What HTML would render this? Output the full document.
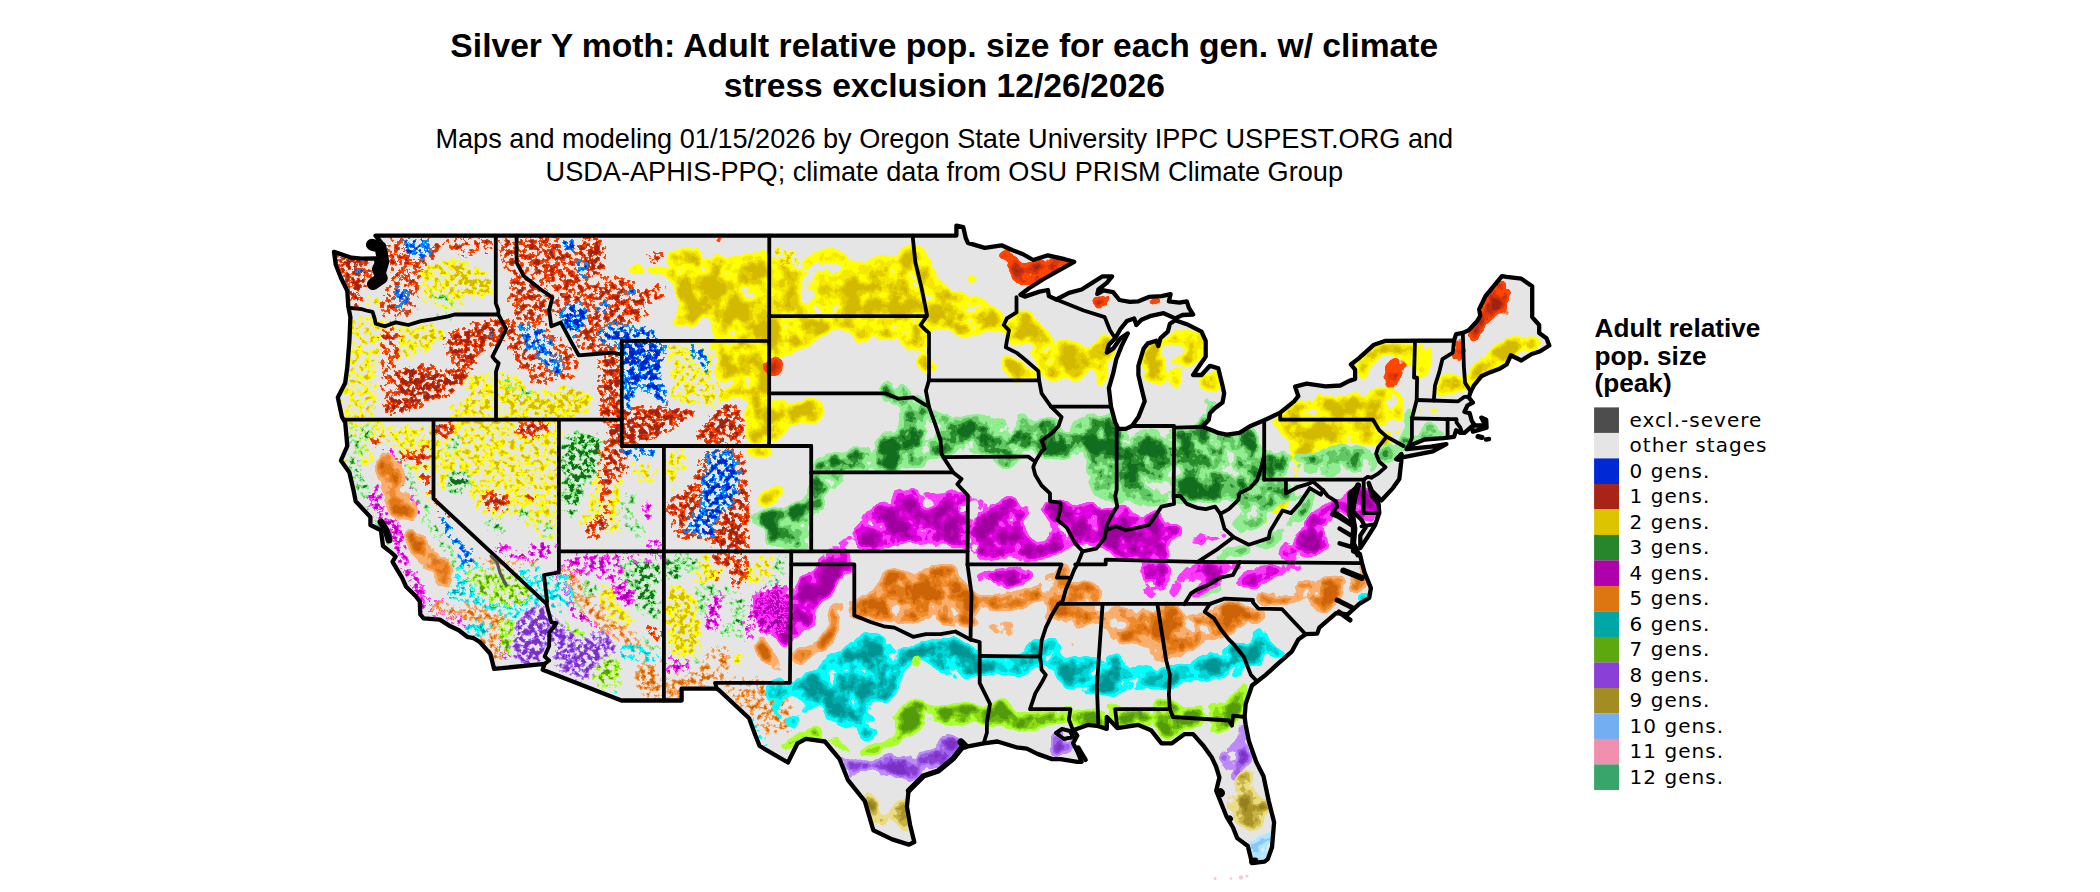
<!DOCTYPE html>
<html lang="en"><head><meta charset="utf-8"><title>Silver Y moth</title>
<style>
html,body{margin:0;padding:0;background:#fff;}
body{width:2100px;height:892px;overflow:hidden;position:relative;}
svg{position:absolute;left:0;top:0;display:block;}
.t1{font-family:"Liberation Sans",Arial,sans-serif;font-weight:bold;font-size:33.63px;fill:#000;text-anchor:middle;}
.t2{font-family:"Liberation Sans",Arial,sans-serif;font-size:27.13px;fill:#000;text-anchor:middle;}
.lt{font-family:"Liberation Sans",Arial,sans-serif;font-weight:bold;font-size:26.2px;fill:#000;}
.ll{font-family:"DejaVu Sans",Verdana,sans-serif;font-size:20px;fill:#000;letter-spacing:1.02px;}
</style></head><body>
<svg width="2100" height="892" viewBox="0 0 2100 892">

<rect width="2100" height="892" fill="#fff"/>
<text class="t1" x="944.3" y="57.3">Silver Y moth: Adult relative pop. size for each gen. w/ climate</text>
<text class="t1" x="944.3" y="96.7">stress exclusion 12/26/2026</text>
<text class="t2" x="944.3" y="147.7">Maps and modeling 01/15/2026 by Oregon State University IPPC USPEST.ORG and</text>
<text class="t2" x="944.3" y="180.8">USDA-APHIS-PPQ; climate data from OSU PRISM Climate Group</text>
<text class="lt" x="1594.5" y="337.0">Adult relative</text>
<text class="lt" x="1594.5" y="364.5">pop. size</text>
<text class="lt" x="1594.5" y="391.9">(peak)</text>
<rect x="1594.1" y="407.4" width="24.9" height="25.6" fill="#4d4d4d"/>
<text class="ll" x="1629.6" y="426.7">excl.-severe</text>
<rect x="1594.1" y="432.9" width="24.9" height="25.6" fill="#e5e5e5"/>
<text class="ll" x="1629.6" y="452.2">other stages</text>
<rect x="1594.1" y="458.4" width="24.9" height="25.6" fill="#0029d6"/>
<text class="ll" x="1629.6" y="477.7">0 gens.</text>
<rect x="1594.1" y="483.9" width="24.9" height="25.6" fill="#a82416"/>
<text class="ll" x="1629.6" y="503.2">1 gens.</text>
<rect x="1594.1" y="509.4" width="24.9" height="25.6" fill="#dcc500"/>
<text class="ll" x="1629.6" y="528.7">2 gens.</text>
<rect x="1594.1" y="534.9" width="24.9" height="25.6" fill="#27852b"/>
<text class="ll" x="1629.6" y="554.2">3 gens.</text>
<rect x="1594.1" y="560.4" width="24.9" height="25.6" fill="#b000ac"/>
<text class="ll" x="1629.6" y="579.7">4 gens.</text>
<rect x="1594.1" y="585.9" width="24.9" height="25.6" fill="#dd7511"/>
<text class="ll" x="1629.6" y="605.2">5 gens.</text>
<rect x="1594.1" y="611.4" width="24.9" height="25.6" fill="#00a6a6"/>
<text class="ll" x="1629.6" y="630.7">6 gens.</text>
<rect x="1594.1" y="636.9" width="24.9" height="25.6" fill="#5ea80f"/>
<text class="ll" x="1629.6" y="656.2">7 gens.</text>
<rect x="1594.1" y="662.4" width="24.9" height="25.6" fill="#8a3fd6"/>
<text class="ll" x="1629.6" y="681.7">8 gens.</text>
<rect x="1594.1" y="687.9" width="24.9" height="25.6" fill="#a38c23"/>
<text class="ll" x="1629.6" y="707.2">9 gens.</text>
<rect x="1594.1" y="713.4" width="24.9" height="25.6" fill="#74aef2"/>
<text class="ll" x="1629.6" y="732.7">10 gens.</text>
<rect x="1594.1" y="738.9" width="24.9" height="25.6" fill="#f090ae"/>
<text class="ll" x="1629.6" y="758.2">11 gens.</text>
<rect x="1594.1" y="764.4" width="24.9" height="25.6" fill="#38a56a"/>
<text class="ll" x="1629.6" y="783.7">12 gens.</text>
<defs><clipPath id="us"><path d="M375.5 235.6 L956.4 235.6 L956.4 225.6 L963.3 227.1 L965.8 238.2 L967.9 242.9 L984.8 247.9 L1001.6 245.3 L1012.1 250.0 L1022.6 254.0 L1033.2 260.0 L1047.9 255.3 L1064.7 259.2 L1074.2 261.9 L1064.7 267.1 L1043.7 279.0 L1029.0 288.2 L1020.5 294.8 L1024.7 296.6 L1039.5 291.6 L1047.9 290.0 L1048.9 296.1 L1056.3 299.5 L1068.9 292.9 L1081.6 289.5 L1092.1 282.9 L1102.6 276.3 L1112.1 276.3 L1106.8 282.9 L1098.4 289.5 L1097.3 294.0 L1103.6 290.3 L1113.1 292.1 L1119.4 300.0 L1129.9 301.9 L1138.4 301.3 L1148.9 296.9 L1161.5 296.1 L1170.6 294.2 L1168.9 301.3 L1179.4 302.7 L1186.8 301.3 L1188.9 307.9 L1193.1 314.5 L1182.5 315.0 L1175.2 318.4 L1163.6 313.2 L1151.0 315.8 L1141.5 319.8 L1136.3 325.0 L1134.2 318.4 L1126.8 321.1 L1120.5 329.0 L1115.2 338.2 L1108.9 344.7 L1106.8 352.6 L1113.1 348.7 L1120.5 338.2 L1127.8 333.4 L1121.5 346.1 L1116.3 359.2 L1113.1 373.7 L1108.9 388.2 L1111.0 406.6 L1115.2 422.4 L1118.4 428.9 L1125.7 428.9 L1132.0 426.0 L1138.4 417.1 L1144.7 401.3 L1141.5 388.2 L1138.4 375.0 L1138.4 365.8 L1143.6 348.7 L1147.8 343.4 L1156.2 340.8 L1158.3 346.1 L1160.5 338.2 L1167.8 331.6 L1169.9 323.7 L1175.2 320.3 L1186.8 324.2 L1201.5 331.6 L1205.7 340.8 L1205.7 356.6 L1199.4 365.8 L1193.1 375.0 L1201.5 375.0 L1209.9 365.8 L1218.3 368.4 L1222.5 385.5 L1224.2 393.4 L1222.5 402.6 L1215.2 407.9 L1209.9 413.2 L1208.8 419.7 L1202.5 426.8 L1212.0 430.3 L1218.3 432.9 L1226.7 434.7 L1239.4 432.9 L1249.9 426.3 L1264.2 420.3 L1280.2 412.6 L1294.1 401.3 L1298.3 396.1 L1295.1 386.6 L1306.7 383.7 L1325.6 386.3 L1340.3 385.5 L1348.8 381.1 L1355.1 378.9 L1355.1 369.7 L1350.9 364.5 L1359.3 357.9 L1374.0 344.7 L1385.6 340.8 L1454.0 340.5 L1456.1 334.2 L1462.8 332.9 L1468.7 330.3 L1477.1 321.1 L1480.3 315.8 L1479.2 309.2 L1485.5 296.1 L1501.9 276.1 L1506.6 276.9 L1521.3 278.7 L1532.2 286.3 L1532.2 317.1 L1539.2 325.0 L1539.2 332.9 L1546.5 338.2 L1549.3 345.5 L1540.2 351.3 L1531.8 354.0 L1521.3 360.5 L1510.8 355.3 L1506.6 364.5 L1500.2 368.4 L1489.7 372.4 L1481.3 376.3 L1473.9 385.5 L1470.8 391.6 L1468.7 397.4 L1472.9 402.6 L1467.6 405.3 L1464.5 411.8 L1469.7 413.2 L1471.8 421.0 L1475.0 425.5 L1485.5 425.5 L1481.3 417.6 L1486.2 419.7 L1486.6 427.6 L1472.9 431.6 L1471.8 426.3 L1464.5 432.9 L1460.3 432.9 L1456.1 430.3 L1454.0 436.8 L1443.4 438.1 L1424.5 439.5 L1408.7 446.0 L1406.6 449.2 L1430.8 446.6 L1446.4 444.2 L1432.9 451.3 L1402.4 457.4 L1401.4 453.9 L1396.1 459.2 L1401.4 460.5 L1399.3 478.9 L1392.9 488.1 L1381.4 500.5 L1371.9 490.8 L1368.7 482.9 L1371.9 496.0 L1378.6 503.9 L1379.3 513.1 L1375.1 525.0 L1367.7 536.8 L1360.3 548.1 L1360.3 535.5 L1365.6 527.6 L1361.4 519.7 L1353.0 511.8 L1355.1 498.7 L1358.2 485.5 L1349.8 493.4 L1348.8 511.8 L1353.0 526.3 L1353.0 535.5 L1353.0 551.3 L1359.9 553.9 L1362.0 563.1 L1364.5 572.3 L1370.9 588.1 L1369.2 597.8 L1359.3 603.9 L1347.7 614.4 L1336.1 613.1 L1319.3 627.6 L1317.2 633.6 L1305.6 634.2 L1298.3 639.4 L1292.0 651.3 L1277.2 664.4 L1265.7 674.9 L1257.2 681.5 L1252.0 685.5 L1245.7 703.9 L1244.6 717.0 L1245.7 724.9 L1248.8 740.7 L1256.2 761.8 L1263.5 776.2 L1268.8 801.2 L1274.1 822.3 L1272.0 847.3 L1267.8 859.1 L1264.6 861.7 L1252.0 863.1 L1247.8 846.0 L1237.2 838.1 L1233.0 827.5 L1226.7 817.0 L1220.4 801.2 L1216.2 790.7 L1219.4 777.5 L1216.2 767.0 L1212.0 757.8 L1203.6 746.0 L1193.1 734.1 L1184.6 734.1 L1172.0 743.3 L1161.5 743.3 L1151.0 730.2 L1138.4 724.9 L1117.3 728.1 L1106.8 717.0 L1106.8 728.9 L1098.4 726.2 L1087.9 724.9 L1073.1 730.2 L1077.3 735.5 L1073.1 743.3 L1077.3 751.2 L1081.6 761.8 L1077.3 761.8 L1060.5 759.1 L1052.1 759.1 L1037.4 753.9 L1026.8 748.6 L1016.3 747.3 L997.4 741.5 L983.7 743.3 L962.9 747.3 L953.0 759.1 L938.3 771.0 L923.3 776.0 L908.6 790.7 L906.9 806.5 L910.1 824.9 L914.3 842.0 L909.0 844.6 L892.2 839.4 L873.3 830.2 L864.8 801.2 L848.0 780.2 L839.6 759.1 L824.9 741.5 L805.9 738.9 L797.5 743.3 L788.0 762.5 L759.6 746.0 L755.4 735.5 L749.1 718.3 L719.7 690.7 L716.9 688.6 L681.6 688.6 L681.6 700.5 L621.4 700.5 L542.7 669.7 L544.6 663.9 L494.1 668.9 L490.3 653.9 L479.8 642.0 L473.5 638.1 L467.2 636.8 L458.8 630.2 L450.4 626.3 L439.8 619.7 L423.6 618.4 L420.3 614.4 L419.8 601.3 L415.6 596.0 L406.2 586.8 L402.0 577.6 L392.5 561.8 L395.6 556.5 L391.4 552.6 L383.0 546.0 L380.9 530.2 L370.4 525.0 L370.4 517.1 L355.7 501.3 L353.6 490.8 L349.4 472.4 L340.9 460.5 L347.3 446.0 L345.2 422.4 L342.0 417.1 L337.8 397.4 L345.2 382.9 L347.3 367.1 L349.4 340.8 L350.4 317.1 L348.3 306.6 L347.3 290.8 L340.9 277.7 L335.7 264.5 L334.0 251.9 L351.5 257.7 L361.4 258.7 L375.7 258.4 L378.8 272.4 L372.5 285.5 L383.0 280.3 L384.1 272.4 L387.2 261.9 L380.9 251.3 L380.9 242.1 L375.5 235.6Z"/></clipPath></defs>
<path d="M375.5 235.6 L956.4 235.6 L956.4 225.6 L963.3 227.1 L965.8 238.2 L967.9 242.9 L984.8 247.9 L1001.6 245.3 L1012.1 250.0 L1022.6 254.0 L1033.2 260.0 L1047.9 255.3 L1064.7 259.2 L1074.2 261.9 L1064.7 267.1 L1043.7 279.0 L1029.0 288.2 L1020.5 294.8 L1024.7 296.6 L1039.5 291.6 L1047.9 290.0 L1048.9 296.1 L1056.3 299.5 L1068.9 292.9 L1081.6 289.5 L1092.1 282.9 L1102.6 276.3 L1112.1 276.3 L1106.8 282.9 L1098.4 289.5 L1097.3 294.0 L1103.6 290.3 L1113.1 292.1 L1119.4 300.0 L1129.9 301.9 L1138.4 301.3 L1148.9 296.9 L1161.5 296.1 L1170.6 294.2 L1168.9 301.3 L1179.4 302.7 L1186.8 301.3 L1188.9 307.9 L1193.1 314.5 L1182.5 315.0 L1175.2 318.4 L1163.6 313.2 L1151.0 315.8 L1141.5 319.8 L1136.3 325.0 L1134.2 318.4 L1126.8 321.1 L1120.5 329.0 L1115.2 338.2 L1108.9 344.7 L1106.8 352.6 L1113.1 348.7 L1120.5 338.2 L1127.8 333.4 L1121.5 346.1 L1116.3 359.2 L1113.1 373.7 L1108.9 388.2 L1111.0 406.6 L1115.2 422.4 L1118.4 428.9 L1125.7 428.9 L1132.0 426.0 L1138.4 417.1 L1144.7 401.3 L1141.5 388.2 L1138.4 375.0 L1138.4 365.8 L1143.6 348.7 L1147.8 343.4 L1156.2 340.8 L1158.3 346.1 L1160.5 338.2 L1167.8 331.6 L1169.9 323.7 L1175.2 320.3 L1186.8 324.2 L1201.5 331.6 L1205.7 340.8 L1205.7 356.6 L1199.4 365.8 L1193.1 375.0 L1201.5 375.0 L1209.9 365.8 L1218.3 368.4 L1222.5 385.5 L1224.2 393.4 L1222.5 402.6 L1215.2 407.9 L1209.9 413.2 L1208.8 419.7 L1202.5 426.8 L1212.0 430.3 L1218.3 432.9 L1226.7 434.7 L1239.4 432.9 L1249.9 426.3 L1264.2 420.3 L1280.2 412.6 L1294.1 401.3 L1298.3 396.1 L1295.1 386.6 L1306.7 383.7 L1325.6 386.3 L1340.3 385.5 L1348.8 381.1 L1355.1 378.9 L1355.1 369.7 L1350.9 364.5 L1359.3 357.9 L1374.0 344.7 L1385.6 340.8 L1454.0 340.5 L1456.1 334.2 L1462.8 332.9 L1468.7 330.3 L1477.1 321.1 L1480.3 315.8 L1479.2 309.2 L1485.5 296.1 L1501.9 276.1 L1506.6 276.9 L1521.3 278.7 L1532.2 286.3 L1532.2 317.1 L1539.2 325.0 L1539.2 332.9 L1546.5 338.2 L1549.3 345.5 L1540.2 351.3 L1531.8 354.0 L1521.3 360.5 L1510.8 355.3 L1506.6 364.5 L1500.2 368.4 L1489.7 372.4 L1481.3 376.3 L1473.9 385.5 L1470.8 391.6 L1468.7 397.4 L1472.9 402.6 L1467.6 405.3 L1464.5 411.8 L1469.7 413.2 L1471.8 421.0 L1475.0 425.5 L1485.5 425.5 L1481.3 417.6 L1486.2 419.7 L1486.6 427.6 L1472.9 431.6 L1471.8 426.3 L1464.5 432.9 L1460.3 432.9 L1456.1 430.3 L1454.0 436.8 L1443.4 438.1 L1424.5 439.5 L1408.7 446.0 L1406.6 449.2 L1430.8 446.6 L1446.4 444.2 L1432.9 451.3 L1402.4 457.4 L1401.4 453.9 L1396.1 459.2 L1401.4 460.5 L1399.3 478.9 L1392.9 488.1 L1381.4 500.5 L1371.9 490.8 L1368.7 482.9 L1371.9 496.0 L1378.6 503.9 L1379.3 513.1 L1375.1 525.0 L1367.7 536.8 L1360.3 548.1 L1360.3 535.5 L1365.6 527.6 L1361.4 519.7 L1353.0 511.8 L1355.1 498.7 L1358.2 485.5 L1349.8 493.4 L1348.8 511.8 L1353.0 526.3 L1353.0 535.5 L1353.0 551.3 L1359.9 553.9 L1362.0 563.1 L1364.5 572.3 L1370.9 588.1 L1369.2 597.8 L1359.3 603.9 L1347.7 614.4 L1336.1 613.1 L1319.3 627.6 L1317.2 633.6 L1305.6 634.2 L1298.3 639.4 L1292.0 651.3 L1277.2 664.4 L1265.7 674.9 L1257.2 681.5 L1252.0 685.5 L1245.7 703.9 L1244.6 717.0 L1245.7 724.9 L1248.8 740.7 L1256.2 761.8 L1263.5 776.2 L1268.8 801.2 L1274.1 822.3 L1272.0 847.3 L1267.8 859.1 L1264.6 861.7 L1252.0 863.1 L1247.8 846.0 L1237.2 838.1 L1233.0 827.5 L1226.7 817.0 L1220.4 801.2 L1216.2 790.7 L1219.4 777.5 L1216.2 767.0 L1212.0 757.8 L1203.6 746.0 L1193.1 734.1 L1184.6 734.1 L1172.0 743.3 L1161.5 743.3 L1151.0 730.2 L1138.4 724.9 L1117.3 728.1 L1106.8 717.0 L1106.8 728.9 L1098.4 726.2 L1087.9 724.9 L1073.1 730.2 L1077.3 735.5 L1073.1 743.3 L1077.3 751.2 L1081.6 761.8 L1077.3 761.8 L1060.5 759.1 L1052.1 759.1 L1037.4 753.9 L1026.8 748.6 L1016.3 747.3 L997.4 741.5 L983.7 743.3 L962.9 747.3 L953.0 759.1 L938.3 771.0 L923.3 776.0 L908.6 790.7 L906.9 806.5 L910.1 824.9 L914.3 842.0 L909.0 844.6 L892.2 839.4 L873.3 830.2 L864.8 801.2 L848.0 780.2 L839.6 759.1 L824.9 741.5 L805.9 738.9 L797.5 743.3 L788.0 762.5 L759.6 746.0 L755.4 735.5 L749.1 718.3 L719.7 690.7 L716.9 688.6 L681.6 688.6 L681.6 700.5 L621.4 700.5 L542.7 669.7 L544.6 663.9 L494.1 668.9 L490.3 653.9 L479.8 642.0 L473.5 638.1 L467.2 636.8 L458.8 630.2 L450.4 626.3 L439.8 619.7 L423.6 618.4 L420.3 614.4 L419.8 601.3 L415.6 596.0 L406.2 586.8 L402.0 577.6 L392.5 561.8 L395.6 556.5 L391.4 552.6 L383.0 546.0 L380.9 530.2 L370.4 525.0 L370.4 517.1 L355.7 501.3 L353.6 490.8 L349.4 472.4 L340.9 460.5 L347.3 446.0 L345.2 422.4 L342.0 417.1 L337.8 397.4 L345.2 382.9 L347.3 367.1 L349.4 340.8 L350.4 317.1 L348.3 306.6 L347.3 290.8 L340.9 277.7 L335.7 264.5 L334.0 251.9 L351.5 257.7 L361.4 258.7 L375.7 258.4 L378.8 272.4 L372.5 285.5 L383.0 280.3 L384.1 272.4 L387.2 261.9 L380.9 251.3 L380.9 242.1 L375.5 235.6Z" fill="#e5e5e5" stroke="none"/>
<defs>
<filter id="fys" filterUnits="userSpaceOnUse" x="300" y="200" width="1300" height="692" color-interpolation-filters="sRGB"><feGaussianBlur in="SourceGraphic" stdDeviation="4.5" result="bl"/><feTurbulence type="fractalNoise" baseFrequency="0.050" numOctaves="4" seed="3" result="n0"/><feColorMatrix in="n0" type="matrix" values="1 0 0 0 0  1 0 0 0 0  1 0 0 0 0  0 0 0 0 1" result="n1"/><feComposite in="bl" in2="n1" operator="arithmetic" k1="2.10" k2="-0.050" k3="0" k4="0" result="v"/><feColorMatrix in="v" type="matrix" values="1 0 0 0 0  0 1 0 0 0  0 0 1 0 0  1 0 0 0 0" result="va"/><feComponentTransfer in="va"><feFuncR type="table" tableValues="1.000 1.000 1.000 1.000 1.000 1.000 1.000 1.000 1.000 1.000 1.000 1.000 1.000 0.961 0.961 0.961 0.886 0.886 0.886 0.831 0.831"/><feFuncG type="table" tableValues="1.000 1.000 1.000 1.000 1.000 1.000 1.000 1.000 1.000 1.000 1.000 1.000 1.000 0.910 0.910 0.910 0.800 0.800 0.800 0.729 0.729"/><feFuncB type="table" tableValues="0.000 0.000 0.000 0.000 0.000 0.000 0.000 0.000 0.000 0.000 0.000 0.000 0.000 0.000 0.000 0.000 0.000 0.000 0.000 0.000 0.000"/><feFuncA type="linear" slope="24" intercept="-9.5"/></feComponentTransfer></filter>
<filter id="fyw" filterUnits="userSpaceOnUse" x="300" y="200" width="1300" height="692" color-interpolation-filters="sRGB"><feGaussianBlur in="SourceGraphic" stdDeviation="4.0" result="bl"/><feTurbulence type="fractalNoise" baseFrequency="0.200" numOctaves="3" seed="7" result="n0"/><feColorMatrix in="n0" type="matrix" values="1 0 0 0 0  1 0 0 0 0  1 0 0 0 0  0 0 0 0 1" result="n1"/><feComposite in="bl" in2="n1" operator="arithmetic" k1="5.50" k2="-1.750" k3="0" k4="0" result="v"/><feColorMatrix in="v" type="matrix" values="1 0 0 0 0  0 1 0 0 0  0 0 1 0 0  1 0 0 0 0" result="va"/><feComponentTransfer in="va"><feFuncR type="table" tableValues="1.000 1.000 1.000 1.000 1.000 1.000 1.000 1.000 1.000 1.000 1.000 1.000 1.000 0.961 0.961 0.961 0.886 0.886 0.886 0.831 0.831"/><feFuncG type="table" tableValues="1.000 1.000 1.000 1.000 1.000 1.000 1.000 1.000 1.000 1.000 1.000 1.000 1.000 0.910 0.910 0.910 0.800 0.800 0.800 0.729 0.729"/><feFuncB type="table" tableValues="0.000 0.000 0.000 0.000 0.000 0.000 0.000 0.000 0.000 0.000 0.000 0.000 0.000 0.000 0.000 0.000 0.000 0.000 0.000 0.000 0.000"/><feFuncA type="linear" slope="24" intercept="-9.5"/></feComponentTransfer></filter>
<filter id="fgs" filterUnits="userSpaceOnUse" x="300" y="200" width="1300" height="692" color-interpolation-filters="sRGB"><feGaussianBlur in="SourceGraphic" stdDeviation="4.5" result="bl"/><feTurbulence type="fractalNoise" baseFrequency="0.050" numOctaves="4" seed="3" result="n0"/><feColorMatrix in="n0" type="matrix" values="1 0 0 0 0  1 0 0 0 0  1 0 0 0 0  0 0 0 0 1" result="n1"/><feComposite in="bl" in2="n1" operator="arithmetic" k1="2.10" k2="-0.050" k3="0" k4="0" result="v"/><feColorMatrix in="v" type="matrix" values="1 0 0 0 0  0 1 0 0 0  0 0 1 0 0  1 0 0 0 0" result="va"/><feComponentTransfer in="va"><feFuncR type="table" tableValues="0.565 0.565 0.565 0.565 0.565 0.565 0.565 0.565 0.565 0.565 0.565 0.565 0.565 0.392 0.392 0.392 0.157 0.157 0.157 0.078 0.078"/><feFuncG type="table" tableValues="0.933 0.933 0.933 0.933 0.933 0.933 0.933 0.933 0.933 0.933 0.933 0.933 0.933 0.784 0.784 0.784 0.549 0.549 0.549 0.431 0.431"/><feFuncB type="table" tableValues="0.565 0.565 0.565 0.565 0.565 0.565 0.565 0.565 0.565 0.565 0.565 0.565 0.565 0.392 0.392 0.392 0.176 0.176 0.176 0.118 0.118"/><feFuncA type="linear" slope="24" intercept="-9.5"/></feComponentTransfer></filter>
<filter id="fgw" filterUnits="userSpaceOnUse" x="300" y="200" width="1300" height="692" color-interpolation-filters="sRGB"><feGaussianBlur in="SourceGraphic" stdDeviation="4.0" result="bl"/><feTurbulence type="fractalNoise" baseFrequency="0.200" numOctaves="3" seed="7" result="n0"/><feColorMatrix in="n0" type="matrix" values="1 0 0 0 0  1 0 0 0 0  1 0 0 0 0  0 0 0 0 1" result="n1"/><feComposite in="bl" in2="n1" operator="arithmetic" k1="5.50" k2="-1.750" k3="0" k4="0" result="v"/><feColorMatrix in="v" type="matrix" values="1 0 0 0 0  0 1 0 0 0  0 0 1 0 0  1 0 0 0 0" result="va"/><feComponentTransfer in="va"><feFuncR type="table" tableValues="0.565 0.565 0.565 0.565 0.565 0.565 0.565 0.565 0.565 0.565 0.565 0.565 0.565 0.392 0.392 0.392 0.157 0.157 0.157 0.078 0.078"/><feFuncG type="table" tableValues="0.933 0.933 0.933 0.933 0.933 0.933 0.933 0.933 0.933 0.933 0.933 0.933 0.933 0.784 0.784 0.784 0.549 0.549 0.549 0.431 0.431"/><feFuncB type="table" tableValues="0.565 0.565 0.565 0.565 0.565 0.565 0.565 0.565 0.565 0.565 0.565 0.565 0.565 0.392 0.392 0.392 0.176 0.176 0.176 0.118 0.118"/><feFuncA type="linear" slope="24" intercept="-9.5"/></feComponentTransfer></filter>
<filter id="fms" filterUnits="userSpaceOnUse" x="300" y="200" width="1300" height="692" color-interpolation-filters="sRGB"><feGaussianBlur in="SourceGraphic" stdDeviation="4.5" result="bl"/><feTurbulence type="fractalNoise" baseFrequency="0.050" numOctaves="4" seed="3" result="n0"/><feColorMatrix in="n0" type="matrix" values="1 0 0 0 0  1 0 0 0 0  1 0 0 0 0  0 0 0 0 1" result="n1"/><feComposite in="bl" in2="n1" operator="arithmetic" k1="2.10" k2="-0.050" k3="0" k4="0" result="v"/><feColorMatrix in="v" type="matrix" values="1 0 0 0 0  0 1 0 0 0  0 0 1 0 0  1 0 0 0 0" result="va"/><feComponentTransfer in="va"><feFuncR type="table" tableValues="1.000 1.000 1.000 1.000 1.000 1.000 1.000 1.000 1.000 1.000 1.000 1.000 1.000 0.882 0.882 0.882 0.745 0.745 0.745 0.627 0.627"/><feFuncG type="table" tableValues="0.235 0.235 0.235 0.235 0.235 0.235 0.235 0.235 0.235 0.235 0.235 0.235 0.235 0.000 0.000 0.000 0.000 0.000 0.000 0.000 0.000"/><feFuncB type="table" tableValues="1.000 1.000 1.000 1.000 1.000 1.000 1.000 1.000 1.000 1.000 1.000 1.000 1.000 0.882 0.882 0.882 0.737 0.737 0.737 0.627 0.627"/><feFuncA type="linear" slope="24" intercept="-9.5"/></feComponentTransfer></filter>
<filter id="fmw" filterUnits="userSpaceOnUse" x="300" y="200" width="1300" height="692" color-interpolation-filters="sRGB"><feGaussianBlur in="SourceGraphic" stdDeviation="4.0" result="bl"/><feTurbulence type="fractalNoise" baseFrequency="0.200" numOctaves="3" seed="7" result="n0"/><feColorMatrix in="n0" type="matrix" values="1 0 0 0 0  1 0 0 0 0  1 0 0 0 0  0 0 0 0 1" result="n1"/><feComposite in="bl" in2="n1" operator="arithmetic" k1="5.50" k2="-1.750" k3="0" k4="0" result="v"/><feColorMatrix in="v" type="matrix" values="1 0 0 0 0  0 1 0 0 0  0 0 1 0 0  1 0 0 0 0" result="va"/><feComponentTransfer in="va"><feFuncR type="table" tableValues="1.000 1.000 1.000 1.000 1.000 1.000 1.000 1.000 1.000 1.000 1.000 1.000 1.000 0.882 0.882 0.882 0.745 0.745 0.745 0.627 0.627"/><feFuncG type="table" tableValues="0.235 0.235 0.235 0.235 0.235 0.235 0.235 0.235 0.235 0.235 0.235 0.235 0.235 0.000 0.000 0.000 0.000 0.000 0.000 0.000 0.000"/><feFuncB type="table" tableValues="1.000 1.000 1.000 1.000 1.000 1.000 1.000 1.000 1.000 1.000 1.000 1.000 1.000 0.882 0.882 0.882 0.737 0.737 0.737 0.627 0.627"/><feFuncA type="linear" slope="24" intercept="-9.5"/></feComponentTransfer></filter>
<filter id="fos" filterUnits="userSpaceOnUse" x="300" y="200" width="1300" height="692" color-interpolation-filters="sRGB"><feGaussianBlur in="SourceGraphic" stdDeviation="4.5" result="bl"/><feTurbulence type="fractalNoise" baseFrequency="0.050" numOctaves="4" seed="3" result="n0"/><feColorMatrix in="n0" type="matrix" values="1 0 0 0 0  1 0 0 0 0  1 0 0 0 0  0 0 0 0 1" result="n1"/><feComposite in="bl" in2="n1" operator="arithmetic" k1="2.10" k2="-0.050" k3="0" k4="0" result="v"/><feColorMatrix in="v" type="matrix" values="1 0 0 0 0  0 1 0 0 0  0 0 1 0 0  1 0 0 0 0" result="va"/><feComponentTransfer in="va"><feFuncR type="table" tableValues="0.980 0.980 0.980 0.980 0.980 0.980 0.980 0.980 0.980 0.980 0.980 0.980 0.980 0.941 0.941 0.941 0.882 0.882 0.882 0.804 0.804"/><feFuncG type="table" tableValues="0.686 0.686 0.686 0.686 0.686 0.686 0.686 0.686 0.686 0.686 0.686 0.686 0.686 0.549 0.549 0.549 0.471 0.471 0.471 0.392 0.392"/><feFuncB type="table" tableValues="0.431 0.431 0.431 0.431 0.431 0.431 0.431 0.431 0.431 0.431 0.431 0.431 0.431 0.196 0.196 0.196 0.078 0.078 0.078 0.039 0.039"/><feFuncA type="linear" slope="24" intercept="-9.5"/></feComponentTransfer></filter>
<filter id="fow" filterUnits="userSpaceOnUse" x="300" y="200" width="1300" height="692" color-interpolation-filters="sRGB"><feGaussianBlur in="SourceGraphic" stdDeviation="4.0" result="bl"/><feTurbulence type="fractalNoise" baseFrequency="0.200" numOctaves="3" seed="7" result="n0"/><feColorMatrix in="n0" type="matrix" values="1 0 0 0 0  1 0 0 0 0  1 0 0 0 0  0 0 0 0 1" result="n1"/><feComposite in="bl" in2="n1" operator="arithmetic" k1="5.50" k2="-1.750" k3="0" k4="0" result="v"/><feColorMatrix in="v" type="matrix" values="1 0 0 0 0  0 1 0 0 0  0 0 1 0 0  1 0 0 0 0" result="va"/><feComponentTransfer in="va"><feFuncR type="table" tableValues="0.980 0.980 0.980 0.980 0.980 0.980 0.980 0.980 0.980 0.980 0.980 0.980 0.980 0.941 0.941 0.941 0.882 0.882 0.882 0.804 0.804"/><feFuncG type="table" tableValues="0.686 0.686 0.686 0.686 0.686 0.686 0.686 0.686 0.686 0.686 0.686 0.686 0.686 0.549 0.549 0.549 0.471 0.471 0.471 0.392 0.392"/><feFuncB type="table" tableValues="0.431 0.431 0.431 0.431 0.431 0.431 0.431 0.431 0.431 0.431 0.431 0.431 0.431 0.196 0.196 0.196 0.078 0.078 0.078 0.039 0.039"/><feFuncA type="linear" slope="24" intercept="-9.5"/></feComponentTransfer></filter>
<filter id="fcs" filterUnits="userSpaceOnUse" x="300" y="200" width="1300" height="692" color-interpolation-filters="sRGB"><feGaussianBlur in="SourceGraphic" stdDeviation="4.5" result="bl"/><feTurbulence type="fractalNoise" baseFrequency="0.050" numOctaves="4" seed="3" result="n0"/><feColorMatrix in="n0" type="matrix" values="1 0 0 0 0  1 0 0 0 0  1 0 0 0 0  0 0 0 0 1" result="n1"/><feComposite in="bl" in2="n1" operator="arithmetic" k1="2.10" k2="-0.050" k3="0" k4="0" result="v"/><feColorMatrix in="v" type="matrix" values="1 0 0 0 0  0 1 0 0 0  0 0 1 0 0  1 0 0 0 0" result="va"/><feComponentTransfer in="va"><feFuncR type="table" tableValues="0.000 0.000 0.000 0.000 0.000 0.000 0.000 0.000 0.000 0.000 0.000 0.000 0.000 0.000 0.000 0.000 0.000 0.000 0.000 0.000 0.000"/><feFuncG type="table" tableValues="1.000 1.000 1.000 1.000 1.000 1.000 1.000 1.000 1.000 1.000 1.000 1.000 1.000 0.843 0.843 0.843 0.686 0.686 0.686 0.588 0.588"/><feFuncB type="table" tableValues="1.000 1.000 1.000 1.000 1.000 1.000 1.000 1.000 1.000 1.000 1.000 1.000 1.000 0.843 0.843 0.843 0.686 0.686 0.686 0.588 0.588"/><feFuncA type="linear" slope="24" intercept="-9.5"/></feComponentTransfer></filter>
<filter id="fcw" filterUnits="userSpaceOnUse" x="300" y="200" width="1300" height="692" color-interpolation-filters="sRGB"><feGaussianBlur in="SourceGraphic" stdDeviation="4.0" result="bl"/><feTurbulence type="fractalNoise" baseFrequency="0.200" numOctaves="3" seed="7" result="n0"/><feColorMatrix in="n0" type="matrix" values="1 0 0 0 0  1 0 0 0 0  1 0 0 0 0  0 0 0 0 1" result="n1"/><feComposite in="bl" in2="n1" operator="arithmetic" k1="5.50" k2="-1.750" k3="0" k4="0" result="v"/><feColorMatrix in="v" type="matrix" values="1 0 0 0 0  0 1 0 0 0  0 0 1 0 0  1 0 0 0 0" result="va"/><feComponentTransfer in="va"><feFuncR type="table" tableValues="0.000 0.000 0.000 0.000 0.000 0.000 0.000 0.000 0.000 0.000 0.000 0.000 0.000 0.000 0.000 0.000 0.000 0.000 0.000 0.000 0.000"/><feFuncG type="table" tableValues="1.000 1.000 1.000 1.000 1.000 1.000 1.000 1.000 1.000 1.000 1.000 1.000 1.000 0.843 0.843 0.843 0.686 0.686 0.686 0.588 0.588"/><feFuncB type="table" tableValues="1.000 1.000 1.000 1.000 1.000 1.000 1.000 1.000 1.000 1.000 1.000 1.000 1.000 0.843 0.843 0.843 0.686 0.686 0.686 0.588 0.588"/><feFuncA type="linear" slope="24" intercept="-9.5"/></feComponentTransfer></filter>
<filter id="fls" filterUnits="userSpaceOnUse" x="300" y="200" width="1300" height="692" color-interpolation-filters="sRGB"><feGaussianBlur in="SourceGraphic" stdDeviation="4.5" result="bl"/><feTurbulence type="fractalNoise" baseFrequency="0.050" numOctaves="4" seed="3" result="n0"/><feColorMatrix in="n0" type="matrix" values="1 0 0 0 0  1 0 0 0 0  1 0 0 0 0  0 0 0 0 1" result="n1"/><feComposite in="bl" in2="n1" operator="arithmetic" k1="2.10" k2="-0.050" k3="0" k4="0" result="v"/><feColorMatrix in="v" type="matrix" values="1 0 0 0 0  0 1 0 0 0  0 0 1 0 0  1 0 0 0 0" result="va"/><feComponentTransfer in="va"><feFuncR type="table" tableValues="0.678 0.678 0.678 0.678 0.678 0.678 0.678 0.678 0.678 0.678 0.678 0.678 0.678 0.549 0.549 0.549 0.412 0.412 0.412 0.333 0.333"/><feFuncG type="table" tableValues="1.000 1.000 1.000 1.000 1.000 1.000 1.000 1.000 1.000 1.000 1.000 1.000 1.000 0.863 0.863 0.863 0.706 0.706 0.706 0.608 0.608"/><feFuncB type="table" tableValues="0.184 0.184 0.184 0.184 0.184 0.184 0.184 0.184 0.184 0.184 0.184 0.184 0.184 0.078 0.078 0.078 0.059 0.059 0.059 0.047 0.047"/><feFuncA type="linear" slope="24" intercept="-9.5"/></feComponentTransfer></filter>
<filter id="flw" filterUnits="userSpaceOnUse" x="300" y="200" width="1300" height="692" color-interpolation-filters="sRGB"><feGaussianBlur in="SourceGraphic" stdDeviation="4.0" result="bl"/><feTurbulence type="fractalNoise" baseFrequency="0.200" numOctaves="3" seed="7" result="n0"/><feColorMatrix in="n0" type="matrix" values="1 0 0 0 0  1 0 0 0 0  1 0 0 0 0  0 0 0 0 1" result="n1"/><feComposite in="bl" in2="n1" operator="arithmetic" k1="5.50" k2="-1.750" k3="0" k4="0" result="v"/><feColorMatrix in="v" type="matrix" values="1 0 0 0 0  0 1 0 0 0  0 0 1 0 0  1 0 0 0 0" result="va"/><feComponentTransfer in="va"><feFuncR type="table" tableValues="0.678 0.678 0.678 0.678 0.678 0.678 0.678 0.678 0.678 0.678 0.678 0.678 0.678 0.549 0.549 0.549 0.412 0.412 0.412 0.333 0.333"/><feFuncG type="table" tableValues="1.000 1.000 1.000 1.000 1.000 1.000 1.000 1.000 1.000 1.000 1.000 1.000 1.000 0.863 0.863 0.863 0.706 0.706 0.706 0.608 0.608"/><feFuncB type="table" tableValues="0.184 0.184 0.184 0.184 0.184 0.184 0.184 0.184 0.184 0.184 0.184 0.184 0.184 0.078 0.078 0.078 0.059 0.059 0.059 0.047 0.047"/><feFuncA type="linear" slope="24" intercept="-9.5"/></feComponentTransfer></filter>
<filter id="fps" filterUnits="userSpaceOnUse" x="300" y="200" width="1300" height="692" color-interpolation-filters="sRGB"><feGaussianBlur in="SourceGraphic" stdDeviation="4.5" result="bl"/><feTurbulence type="fractalNoise" baseFrequency="0.050" numOctaves="4" seed="3" result="n0"/><feColorMatrix in="n0" type="matrix" values="1 0 0 0 0  1 0 0 0 0  1 0 0 0 0  0 0 0 0 1" result="n1"/><feComposite in="bl" in2="n1" operator="arithmetic" k1="2.10" k2="-0.050" k3="0" k4="0" result="v"/><feColorMatrix in="v" type="matrix" values="1 0 0 0 0  0 1 0 0 0  0 0 1 0 0  1 0 0 0 0" result="va"/><feComponentTransfer in="va"><feFuncR type="table" tableValues="0.745 0.745 0.745 0.745 0.745 0.745 0.745 0.745 0.745 0.745 0.745 0.745 0.745 0.627 0.627 0.627 0.541 0.541 0.541 0.471 0.471"/><feFuncG type="table" tableValues="0.549 0.549 0.549 0.549 0.549 0.549 0.549 0.549 0.549 0.549 0.549 0.549 0.549 0.392 0.392 0.392 0.247 0.247 0.247 0.196 0.196"/><feFuncB type="table" tableValues="0.980 0.980 0.980 0.980 0.980 0.980 0.980 0.980 0.980 0.980 0.980 0.980 0.980 0.922 0.922 0.922 0.839 0.839 0.839 0.765 0.765"/><feFuncA type="linear" slope="24" intercept="-9.5"/></feComponentTransfer></filter>
<filter id="fpw" filterUnits="userSpaceOnUse" x="300" y="200" width="1300" height="692" color-interpolation-filters="sRGB"><feGaussianBlur in="SourceGraphic" stdDeviation="4.0" result="bl"/><feTurbulence type="fractalNoise" baseFrequency="0.200" numOctaves="3" seed="7" result="n0"/><feColorMatrix in="n0" type="matrix" values="1 0 0 0 0  1 0 0 0 0  1 0 0 0 0  0 0 0 0 1" result="n1"/><feComposite in="bl" in2="n1" operator="arithmetic" k1="5.50" k2="-1.750" k3="0" k4="0" result="v"/><feColorMatrix in="v" type="matrix" values="1 0 0 0 0  0 1 0 0 0  0 0 1 0 0  1 0 0 0 0" result="va"/><feComponentTransfer in="va"><feFuncR type="table" tableValues="0.745 0.745 0.745 0.745 0.745 0.745 0.745 0.745 0.745 0.745 0.745 0.745 0.745 0.627 0.627 0.627 0.541 0.541 0.541 0.471 0.471"/><feFuncG type="table" tableValues="0.549 0.549 0.549 0.549 0.549 0.549 0.549 0.549 0.549 0.549 0.549 0.549 0.549 0.392 0.392 0.392 0.247 0.247 0.247 0.196 0.196"/><feFuncB type="table" tableValues="0.980 0.980 0.980 0.980 0.980 0.980 0.980 0.980 0.980 0.980 0.980 0.980 0.980 0.922 0.922 0.922 0.839 0.839 0.839 0.765 0.765"/><feFuncA type="linear" slope="24" intercept="-9.5"/></feComponentTransfer></filter>
<filter id="fks" filterUnits="userSpaceOnUse" x="300" y="200" width="1300" height="692" color-interpolation-filters="sRGB"><feGaussianBlur in="SourceGraphic" stdDeviation="4.5" result="bl"/><feTurbulence type="fractalNoise" baseFrequency="0.050" numOctaves="4" seed="3" result="n0"/><feColorMatrix in="n0" type="matrix" values="1 0 0 0 0  1 0 0 0 0  1 0 0 0 0  0 0 0 0 1" result="n1"/><feComposite in="bl" in2="n1" operator="arithmetic" k1="2.10" k2="-0.050" k3="0" k4="0" result="v"/><feColorMatrix in="v" type="matrix" values="1 0 0 0 0  0 1 0 0 0  0 0 1 0 0  1 0 0 0 0" result="va"/><feComponentTransfer in="va"><feFuncR type="table" tableValues="0.922 0.922 0.922 0.922 0.922 0.922 0.922 0.922 0.922 0.922 0.922 0.922 0.922 0.784 0.784 0.784 0.667 0.667 0.667 0.588 0.588"/><feFuncG type="table" tableValues="0.863 0.863 0.863 0.863 0.863 0.863 0.863 0.863 0.863 0.863 0.863 0.863 0.863 0.706 0.706 0.706 0.580 0.580 0.580 0.502 0.502"/><feFuncB type="table" tableValues="0.510 0.510 0.510 0.510 0.510 0.510 0.510 0.510 0.510 0.510 0.510 0.510 0.510 0.275 0.275 0.275 0.157 0.157 0.157 0.118 0.118"/><feFuncA type="linear" slope="24" intercept="-9.5"/></feComponentTransfer></filter>
<filter id="fkw" filterUnits="userSpaceOnUse" x="300" y="200" width="1300" height="692" color-interpolation-filters="sRGB"><feGaussianBlur in="SourceGraphic" stdDeviation="4.0" result="bl"/><feTurbulence type="fractalNoise" baseFrequency="0.200" numOctaves="3" seed="7" result="n0"/><feColorMatrix in="n0" type="matrix" values="1 0 0 0 0  1 0 0 0 0  1 0 0 0 0  0 0 0 0 1" result="n1"/><feComposite in="bl" in2="n1" operator="arithmetic" k1="5.50" k2="-1.750" k3="0" k4="0" result="v"/><feColorMatrix in="v" type="matrix" values="1 0 0 0 0  0 1 0 0 0  0 0 1 0 0  1 0 0 0 0" result="va"/><feComponentTransfer in="va"><feFuncR type="table" tableValues="0.922 0.922 0.922 0.922 0.922 0.922 0.922 0.922 0.922 0.922 0.922 0.922 0.922 0.784 0.784 0.784 0.667 0.667 0.667 0.588 0.588"/><feFuncG type="table" tableValues="0.863 0.863 0.863 0.863 0.863 0.863 0.863 0.863 0.863 0.863 0.863 0.863 0.863 0.706 0.706 0.706 0.580 0.580 0.580 0.502 0.502"/><feFuncB type="table" tableValues="0.510 0.510 0.510 0.510 0.510 0.510 0.510 0.510 0.510 0.510 0.510 0.510 0.510 0.275 0.275 0.275 0.157 0.157 0.157 0.118 0.118"/><feFuncA type="linear" slope="24" intercept="-9.5"/></feComponentTransfer></filter>
<filter id="fb10s" filterUnits="userSpaceOnUse" x="300" y="200" width="1300" height="692" color-interpolation-filters="sRGB"><feGaussianBlur in="SourceGraphic" stdDeviation="4.5" result="bl"/><feTurbulence type="fractalNoise" baseFrequency="0.050" numOctaves="4" seed="3" result="n0"/><feColorMatrix in="n0" type="matrix" values="1 0 0 0 0  1 0 0 0 0  1 0 0 0 0  0 0 0 0 1" result="n1"/><feComposite in="bl" in2="n1" operator="arithmetic" k1="2.10" k2="-0.050" k3="0" k4="0" result="v"/><feColorMatrix in="v" type="matrix" values="1 0 0 0 0  0 1 0 0 0  0 0 1 0 0  1 0 0 0 0" result="va"/><feComponentTransfer in="va"><feFuncR type="table" tableValues="0.686 0.686 0.686 0.686 0.686 0.686 0.686 0.686 0.686 0.686 0.686 0.686 0.686 0.549 0.549 0.549 0.455 0.455 0.455 0.392 0.392"/><feFuncG type="table" tableValues="0.902 0.902 0.902 0.902 0.902 0.902 0.902 0.902 0.902 0.902 0.902 0.902 0.902 0.784 0.784 0.784 0.682 0.682 0.682 0.627 0.627"/><feFuncB type="table" tableValues="1.000 1.000 1.000 1.000 1.000 1.000 1.000 1.000 1.000 1.000 1.000 1.000 1.000 0.980 0.980 0.980 0.949 0.949 0.949 0.922 0.922"/><feFuncA type="linear" slope="24" intercept="-9.5"/></feComponentTransfer></filter>
<filter id="fb10w" filterUnits="userSpaceOnUse" x="300" y="200" width="1300" height="692" color-interpolation-filters="sRGB"><feGaussianBlur in="SourceGraphic" stdDeviation="4.0" result="bl"/><feTurbulence type="fractalNoise" baseFrequency="0.200" numOctaves="3" seed="7" result="n0"/><feColorMatrix in="n0" type="matrix" values="1 0 0 0 0  1 0 0 0 0  1 0 0 0 0  0 0 0 0 1" result="n1"/><feComposite in="bl" in2="n1" operator="arithmetic" k1="5.50" k2="-1.750" k3="0" k4="0" result="v"/><feColorMatrix in="v" type="matrix" values="1 0 0 0 0  0 1 0 0 0  0 0 1 0 0  1 0 0 0 0" result="va"/><feComponentTransfer in="va"><feFuncR type="table" tableValues="0.686 0.686 0.686 0.686 0.686 0.686 0.686 0.686 0.686 0.686 0.686 0.686 0.686 0.549 0.549 0.549 0.455 0.455 0.455 0.392 0.392"/><feFuncG type="table" tableValues="0.902 0.902 0.902 0.902 0.902 0.902 0.902 0.902 0.902 0.902 0.902 0.902 0.902 0.784 0.784 0.784 0.682 0.682 0.682 0.627 0.627"/><feFuncB type="table" tableValues="1.000 1.000 1.000 1.000 1.000 1.000 1.000 1.000 1.000 1.000 1.000 1.000 1.000 0.980 0.980 0.980 0.949 0.949 0.949 0.922 0.922"/><feFuncA type="linear" slope="24" intercept="-9.5"/></feComponentTransfer></filter>
<filter id="fpks" filterUnits="userSpaceOnUse" x="300" y="200" width="1300" height="692" color-interpolation-filters="sRGB"><feGaussianBlur in="SourceGraphic" stdDeviation="4.5" result="bl"/><feTurbulence type="fractalNoise" baseFrequency="0.050" numOctaves="4" seed="3" result="n0"/><feColorMatrix in="n0" type="matrix" values="1 0 0 0 0  1 0 0 0 0  1 0 0 0 0  0 0 0 0 1" result="n1"/><feComposite in="bl" in2="n1" operator="arithmetic" k1="2.10" k2="-0.050" k3="0" k4="0" result="v"/><feColorMatrix in="v" type="matrix" values="1 0 0 0 0  0 1 0 0 0  0 0 1 0 0  1 0 0 0 0" result="va"/><feComponentTransfer in="va"><feFuncR type="table" tableValues="0.980 0.980 0.980 0.980 0.980 0.980 0.980 0.980 0.980 0.980 0.980 0.980 0.980 0.961 0.961 0.961 0.941 0.941 0.941 0.922 0.922"/><feFuncG type="table" tableValues="0.745 0.745 0.745 0.745 0.745 0.745 0.745 0.745 0.745 0.745 0.745 0.745 0.745 0.627 0.627 0.627 0.565 0.565 0.565 0.510 0.510"/><feFuncB type="table" tableValues="0.804 0.804 0.804 0.804 0.804 0.804 0.804 0.804 0.804 0.804 0.804 0.804 0.804 0.725 0.725 0.725 0.682 0.682 0.682 0.647 0.647"/><feFuncA type="linear" slope="24" intercept="-9.5"/></feComponentTransfer></filter>
<filter id="fpkw" filterUnits="userSpaceOnUse" x="300" y="200" width="1300" height="692" color-interpolation-filters="sRGB"><feGaussianBlur in="SourceGraphic" stdDeviation="4.0" result="bl"/><feTurbulence type="fractalNoise" baseFrequency="0.200" numOctaves="3" seed="7" result="n0"/><feColorMatrix in="n0" type="matrix" values="1 0 0 0 0  1 0 0 0 0  1 0 0 0 0  0 0 0 0 1" result="n1"/><feComposite in="bl" in2="n1" operator="arithmetic" k1="5.50" k2="-1.750" k3="0" k4="0" result="v"/><feColorMatrix in="v" type="matrix" values="1 0 0 0 0  0 1 0 0 0  0 0 1 0 0  1 0 0 0 0" result="va"/><feComponentTransfer in="va"><feFuncR type="table" tableValues="0.980 0.980 0.980 0.980 0.980 0.980 0.980 0.980 0.980 0.980 0.980 0.980 0.980 0.961 0.961 0.961 0.941 0.941 0.941 0.922 0.922"/><feFuncG type="table" tableValues="0.745 0.745 0.745 0.745 0.745 0.745 0.745 0.745 0.745 0.745 0.745 0.745 0.745 0.627 0.627 0.627 0.565 0.565 0.565 0.510 0.510"/><feFuncB type="table" tableValues="0.804 0.804 0.804 0.804 0.804 0.804 0.804 0.804 0.804 0.804 0.804 0.804 0.804 0.725 0.725 0.725 0.682 0.682 0.682 0.647 0.647"/><feFuncA type="linear" slope="24" intercept="-9.5"/></feComponentTransfer></filter>
<filter id="frs" filterUnits="userSpaceOnUse" x="300" y="200" width="1300" height="692" color-interpolation-filters="sRGB"><feGaussianBlur in="SourceGraphic" stdDeviation="4.5" result="bl"/><feTurbulence type="fractalNoise" baseFrequency="0.050" numOctaves="4" seed="3" result="n0"/><feColorMatrix in="n0" type="matrix" values="1 0 0 0 0  1 0 0 0 0  1 0 0 0 0  0 0 0 0 1" result="n1"/><feComposite in="bl" in2="n1" operator="arithmetic" k1="2.10" k2="-0.050" k3="0" k4="0" result="v"/><feColorMatrix in="v" type="matrix" values="1 0 0 0 0  0 1 0 0 0  0 0 1 0 0  1 0 0 0 0" result="va"/><feComponentTransfer in="va"><feFuncR type="table" tableValues="1.000 1.000 1.000 1.000 1.000 1.000 1.000 1.000 1.000 1.000 1.000 1.000 1.000 0.882 0.882 0.882 0.745 0.745 0.745 0.627 0.627"/><feFuncG type="table" tableValues="0.271 0.271 0.271 0.271 0.271 0.271 0.271 0.271 0.271 0.271 0.271 0.271 0.271 0.216 0.216 0.216 0.176 0.176 0.176 0.141 0.141"/><feFuncB type="table" tableValues="0.000 0.000 0.000 0.000 0.000 0.000 0.000 0.000 0.000 0.000 0.000 0.000 0.000 0.039 0.039 0.039 0.071 0.071 0.071 0.078 0.078"/><feFuncA type="linear" slope="24" intercept="-9.5"/></feComponentTransfer></filter>
<filter id="frw" filterUnits="userSpaceOnUse" x="300" y="200" width="1300" height="692" color-interpolation-filters="sRGB"><feGaussianBlur in="SourceGraphic" stdDeviation="4.0" result="bl"/><feTurbulence type="fractalNoise" baseFrequency="0.200" numOctaves="3" seed="7" result="n0"/><feColorMatrix in="n0" type="matrix" values="1 0 0 0 0  1 0 0 0 0  1 0 0 0 0  0 0 0 0 1" result="n1"/><feComposite in="bl" in2="n1" operator="arithmetic" k1="5.50" k2="-1.750" k3="0" k4="0" result="v"/><feColorMatrix in="v" type="matrix" values="1 0 0 0 0  0 1 0 0 0  0 0 1 0 0  1 0 0 0 0" result="va"/><feComponentTransfer in="va"><feFuncR type="table" tableValues="1.000 1.000 1.000 1.000 1.000 1.000 1.000 1.000 1.000 1.000 1.000 1.000 1.000 0.882 0.882 0.882 0.745 0.745 0.745 0.627 0.627"/><feFuncG type="table" tableValues="0.271 0.271 0.271 0.271 0.271 0.271 0.271 0.271 0.271 0.271 0.271 0.271 0.271 0.216 0.216 0.216 0.176 0.176 0.176 0.141 0.141"/><feFuncB type="table" tableValues="0.000 0.000 0.000 0.000 0.000 0.000 0.000 0.000 0.000 0.000 0.000 0.000 0.000 0.039 0.039 0.039 0.071 0.071 0.071 0.078 0.078"/><feFuncA type="linear" slope="24" intercept="-9.5"/></feComponentTransfer></filter>
<filter id="fbs" filterUnits="userSpaceOnUse" x="300" y="200" width="1300" height="692" color-interpolation-filters="sRGB"><feGaussianBlur in="SourceGraphic" stdDeviation="4.5" result="bl"/><feTurbulence type="fractalNoise" baseFrequency="0.050" numOctaves="4" seed="3" result="n0"/><feColorMatrix in="n0" type="matrix" values="1 0 0 0 0  1 0 0 0 0  1 0 0 0 0  0 0 0 0 1" result="n1"/><feComposite in="bl" in2="n1" operator="arithmetic" k1="2.10" k2="-0.050" k3="0" k4="0" result="v"/><feColorMatrix in="v" type="matrix" values="1 0 0 0 0  0 1 0 0 0  0 0 1 0 0  1 0 0 0 0" result="va"/><feComponentTransfer in="va"><feFuncR type="table" tableValues="0.000 0.000 0.000 0.000 0.000 0.000 0.000 0.000 0.000 0.000 0.000 0.000 0.000 0.000 0.000 0.000 0.000 0.000 0.000 0.000 0.000"/><feFuncG type="table" tableValues="0.588 0.588 0.588 0.588 0.588 0.588 0.588 0.588 0.588 0.588 0.588 0.588 0.588 0.353 0.353 0.353 0.196 0.196 0.196 0.137 0.137"/><feFuncB type="table" tableValues="1.000 1.000 1.000 1.000 1.000 1.000 1.000 1.000 1.000 1.000 1.000 1.000 1.000 0.941 0.941 0.941 0.863 0.863 0.863 0.784 0.784"/><feFuncA type="linear" slope="24" intercept="-9.5"/></feComponentTransfer></filter>
<filter id="fbw" filterUnits="userSpaceOnUse" x="300" y="200" width="1300" height="692" color-interpolation-filters="sRGB"><feGaussianBlur in="SourceGraphic" stdDeviation="4.0" result="bl"/><feTurbulence type="fractalNoise" baseFrequency="0.200" numOctaves="3" seed="7" result="n0"/><feColorMatrix in="n0" type="matrix" values="1 0 0 0 0  1 0 0 0 0  1 0 0 0 0  0 0 0 0 1" result="n1"/><feComposite in="bl" in2="n1" operator="arithmetic" k1="5.50" k2="-1.750" k3="0" k4="0" result="v"/><feColorMatrix in="v" type="matrix" values="1 0 0 0 0  0 1 0 0 0  0 0 1 0 0  1 0 0 0 0" result="va"/><feComponentTransfer in="va"><feFuncR type="table" tableValues="0.000 0.000 0.000 0.000 0.000 0.000 0.000 0.000 0.000 0.000 0.000 0.000 0.000 0.000 0.000 0.000 0.000 0.000 0.000 0.000 0.000"/><feFuncG type="table" tableValues="0.588 0.588 0.588 0.588 0.588 0.588 0.588 0.588 0.588 0.588 0.588 0.588 0.588 0.353 0.353 0.353 0.196 0.196 0.196 0.137 0.137"/><feFuncB type="table" tableValues="1.000 1.000 1.000 1.000 1.000 1.000 1.000 1.000 1.000 1.000 1.000 1.000 1.000 0.941 0.941 0.941 0.863 0.863 0.863 0.784 0.784"/><feFuncA type="linear" slope="24" intercept="-9.5"/></feComponentTransfer></filter>
</defs>
<g clip-path="url(#us)">
<g filter="url(#fys)"><rect x="280" y="180" width="1340" height="712" fill="#000"/>
<path d="M622.2 271.8C624.3 269.8 635.0 263.2 641.9 261.9C648.9 260.7 659.2 266.3 664.1 264.4C669.1 262.6 666.6 253.7 671.5 250.8C676.5 248.0 686.3 246.9 693.8 247.1C701.2 247.3 708.6 250.4 716.0 252.1C723.4 253.7 731.2 257.4 738.2 257.0C745.1 256.6 753.0 250.0 757.9 249.6C762.8 249.2 766.1 239.7 767.8 254.5C769.4 269.3 772.7 324.4 767.8 338.4C762.8 352.4 746.8 338.8 738.2 338.4C729.5 338.0 721.7 339.2 716.0 336.0C710.2 332.7 707.3 319.9 703.6 318.7C699.9 317.5 697.5 327.3 693.8 328.6C690.1 329.8 686.3 326.1 681.4 326.1C676.5 326.1 666.2 330.2 664.1 328.6C662.1 326.9 667.4 322.0 669.1 316.2C670.7 310.5 674.4 300.6 674.0 294.0C673.6 287.4 670.7 280.0 666.6 276.7C662.5 273.5 655.5 274.7 649.3 274.3C643.2 273.9 634.1 274.7 629.6 274.3C625.1 273.9 620.1 273.9 622.2 271.8Z" fill="rgb(184,184,184)"/>
<path d="M674.0 269.3C676.5 264.4 686.3 260.7 693.8 259.5C701.2 258.2 711.0 260.3 718.4 261.9C725.8 263.6 731.6 268.9 738.2 269.3C744.7 269.8 753.2 262.4 757.9 264.4C762.6 266.5 765.1 269.8 766.5 281.7C768.0 293.6 769.6 326.9 766.5 336.0C763.4 345.0 754.4 337.2 748.0 336.0C741.7 334.7 733.6 332.3 728.3 328.6C722.9 324.9 720.1 317.9 716.0 313.8C711.8 309.6 708.1 305.9 703.6 303.9C699.1 301.8 692.9 303.9 688.8 301.4C684.7 298.9 681.4 294.4 678.9 289.1C676.5 283.7 671.5 274.3 674.0 269.3Z" fill="rgb(219,219,219)"/>
<path d="M708.6 343.4C717.0 340.9 756.9 327.3 766.5 343.4C776.2 359.4 769.6 423.5 766.5 439.6C763.4 455.6 751.5 442.0 748.0 439.6C744.5 437.1 744.7 430.1 745.6 424.8C746.4 419.4 754.2 412.0 753.0 407.5C751.7 403.0 744.7 398.5 738.2 397.6C731.6 396.8 716.8 403.4 713.5 402.6C710.2 401.7 715.1 395.2 718.4 392.7C721.7 390.2 729.9 391.1 733.2 387.8C736.5 384.5 740.2 373.8 738.2 373.0C736.1 372.1 725.4 382.8 720.9 382.8C716.4 382.8 711.8 377.1 711.0 373.0C710.2 368.8 716.4 363.1 716.0 358.2C715.5 353.2 700.1 345.8 708.6 343.4Z" fill="rgb(191,191,191)"/>
<path d="M723.4 348.3C729.1 345.8 751.3 345.0 757.9 348.3C764.5 351.6 764.5 363.1 762.8 368.0C761.2 373.0 752.1 377.9 748.0 377.9C743.9 377.9 742.3 370.5 738.2 368.0C734.0 365.6 725.8 366.4 723.4 363.1C720.9 359.8 717.6 350.8 723.4 348.3Z" fill="rgb(212,212,212)"/>
<path d="M745.6 377.9C749.3 375.4 762.0 368.8 765.3 377.9C768.6 386.9 767.4 423.1 765.3 432.2C763.2 441.2 754.6 436.3 753.0 432.2C751.3 428.1 757.1 414.1 755.4 407.5C753.8 400.9 744.7 397.6 743.1 392.7C741.4 387.8 741.9 380.4 745.6 377.9Z" fill="rgb(219,219,219)"/>
<path d="M771.5 257.0C773.3 247.1 778.2 253.3 782.6 254.5C786.9 255.8 791.6 265.2 797.4 264.4C803.1 263.6 810.5 252.5 817.1 249.6C823.7 246.7 831.1 245.5 836.8 247.1C842.6 248.8 845.9 257.8 851.6 259.5C857.4 261.1 863.3 258.2 871.4 257.0C879.4 255.8 895.2 242.6 900.0 252.1C904.8 261.5 921.4 303.5 900.0 313.8C878.6 324.0 792.9 323.2 771.5 313.8C750.0 304.3 769.6 266.9 771.5 257.0Z" fill="rgb(162,162,162)"/>
<path d="M859.0 286.6C863.6 282.9 872.0 280.9 878.8 279.2C885.6 277.6 896.5 271.2 900.0 276.7C903.5 282.3 906.4 306.6 900.0 312.5C893.6 318.5 869.6 314.4 861.5 312.5C853.5 310.7 852.1 305.7 851.6 301.4C851.2 297.1 854.5 290.3 859.0 286.6Z" fill="rgb(219,219,219)"/>
<path d="M771.5 318.7C784.0 312.1 832.5 317.9 846.7 318.7C860.9 319.5 851.6 323.2 856.6 323.6C861.5 324.0 869.1 321.2 876.3 321.2C883.6 321.2 896.1 321.2 900.0 323.6C903.9 326.1 904.8 333.1 900.0 336.0C895.2 338.8 879.0 339.7 871.4 340.9C863.7 342.1 858.6 345.4 854.1 343.4C849.6 341.3 849.6 329.8 844.2 328.6C838.9 327.3 828.2 332.7 822.0 336.0C815.9 339.2 812.2 345.4 807.2 348.3C802.3 351.2 798.4 351.6 792.4 353.2C786.5 354.9 775.0 363.9 771.5 358.2C768.0 352.4 758.9 325.3 771.5 318.7Z" fill="rgb(191,191,191)"/>
<path d="M772.7 323.6C780.9 320.3 810.5 323.2 822.0 323.6C833.6 324.0 841.8 324.6 841.8 326.1C841.8 327.5 829.4 329.8 822.0 332.3C814.6 334.7 805.6 339.0 797.4 340.9C789.1 342.7 776.8 346.2 772.7 343.4C768.6 340.5 764.5 326.9 772.7 323.6Z" fill="rgb(219,219,219)"/>
<path d="M771.5 400.1C775.8 395.2 789.8 403.0 797.4 402.6C805.0 402.2 812.6 396.0 817.1 397.6C821.6 399.3 825.3 407.9 824.5 412.4C823.7 417.0 817.5 423.1 812.2 424.8C806.8 426.4 799.2 421.1 792.4 422.3C785.7 423.5 775.0 435.9 771.5 432.2C768.0 428.5 767.1 405.0 771.5 400.1Z" fill="rgb(205,205,205)"/>
<path d="M880.0 257.0C882.5 246.1 890.3 251.7 894.8 249.6C899.3 247.5 904.1 245.5 907.1 244.7C910.2 243.8 911.7 233.0 913.3 244.7C915.0 256.4 922.6 303.3 917.0 315.0C911.5 326.7 886.2 324.6 880.0 315.0C873.8 305.3 877.5 267.9 880.0 257.0Z" fill="rgb(191,191,191)"/>
<path d="M880.0 284.1C884.1 278.8 898.5 280.0 904.7 281.7C910.8 283.3 914.1 288.7 917.0 294.0C919.9 299.4 928.1 310.5 921.9 313.8C915.8 317.0 887.0 318.7 880.0 313.8C873.0 308.8 875.9 289.5 880.0 284.1Z" fill="rgb(219,219,219)"/>
<path d="M917.0 247.1C918.7 243.8 924.0 245.9 926.9 249.6C929.8 253.3 931.4 263.6 934.3 269.3C937.2 275.1 940.0 280.4 944.1 284.1C948.3 287.8 954.0 289.1 958.9 291.5C963.9 294.0 970.1 298.5 973.8 298.9C977.5 299.4 978.7 292.8 981.2 294.0C983.6 295.2 984.0 303.1 988.6 306.3C993.1 309.6 1005.0 310.1 1008.3 313.8C1011.6 317.5 1011.6 325.7 1008.3 328.6C1005.0 331.4 995.5 329.4 988.6 331.0C981.6 332.7 972.9 338.4 966.3 338.4C959.8 338.4 954.8 332.7 949.1 331.0C943.3 329.4 935.7 330.6 931.8 328.6C927.9 326.5 927.5 324.4 925.6 318.7C923.8 312.9 922.1 302.2 920.7 294.0C919.3 285.8 917.6 277.2 917.0 269.3C916.4 261.5 915.4 250.4 917.0 247.1Z" fill="rgb(191,191,191)"/>
<path d="M929.3 301.4C932.6 299.4 942.9 301.8 949.1 303.9C955.2 305.9 959.8 311.7 966.3 313.8C972.9 315.8 982.8 314.6 988.6 316.2C994.3 317.9 1004.6 321.2 1000.9 323.6C997.2 326.1 976.2 331.0 966.3 331.0C956.5 331.0 947.8 326.1 941.7 323.6C935.5 321.2 931.4 319.9 929.3 316.2C927.3 312.5 926.1 303.5 929.3 301.4Z" fill="rgb(219,219,219)"/>
<path d="M880.0 318.7C883.3 315.8 893.6 318.7 899.7 318.7C905.9 318.7 912.9 317.9 917.0 318.7C921.1 319.5 922.4 320.3 924.4 323.6C926.5 326.9 928.5 332.7 929.3 338.4C930.2 344.2 926.9 353.6 929.3 358.2C931.8 362.7 942.1 363.5 944.1 365.6C946.2 367.6 944.1 369.3 941.7 370.5C939.2 371.7 933.9 374.2 929.3 373.0C924.8 371.7 918.7 366.8 914.5 363.1C910.4 359.4 907.5 355.3 904.7 350.8C901.8 346.2 900.6 338.8 897.3 336.0C894.0 333.1 887.8 333.5 884.9 333.5C882.1 333.5 880.8 338.4 880.0 336.0C879.2 333.5 876.7 321.6 880.0 318.7Z" fill="rgb(198,198,198)"/>
<path d="M902.2 323.6C904.7 320.7 917.8 320.3 921.9 326.1C926.1 331.8 927.7 352.8 926.9 358.2C926.1 363.5 920.3 360.6 917.0 358.2C913.7 355.7 909.6 349.1 907.1 343.4C904.7 337.6 899.7 326.5 902.2 323.6Z" fill="rgb(219,219,219)"/>
<path d="M1008.3 313.8C1012.4 310.9 1023.5 310.5 1028.0 311.3C1032.6 312.1 1033.0 316.2 1035.4 318.7C1037.9 321.2 1040.0 323.2 1042.8 326.1C1045.7 329.0 1048.6 333.5 1052.7 336.0C1056.8 338.4 1062.2 339.7 1067.5 340.9C1072.8 342.1 1079.0 343.8 1084.8 343.4C1090.5 342.9 1097.5 339.7 1102.0 338.4C1106.6 337.2 1109.9 334.3 1111.9 336.0C1114.0 337.6 1114.8 342.9 1114.4 348.3C1114.0 353.6 1111.1 361.4 1109.4 368.0C1107.8 374.6 1107.0 385.3 1104.5 387.8C1102.0 390.2 1095.9 385.7 1094.6 382.8C1093.4 380.0 1098.3 373.0 1097.1 370.5C1095.9 368.0 1088.5 366.4 1087.2 368.0C1086.0 369.7 1091.8 378.3 1089.7 380.4C1087.6 382.4 1079.4 380.8 1074.9 380.4C1070.4 380.0 1066.3 377.5 1062.6 377.9C1058.9 378.3 1056.0 383.7 1052.7 382.8C1049.4 382.0 1045.3 376.3 1042.8 373.0C1040.4 369.7 1040.4 366.4 1037.9 363.1C1035.4 359.8 1031.3 355.7 1028.0 353.2C1024.7 350.8 1021.4 350.3 1018.2 348.3C1014.9 346.2 1010.8 344.2 1008.3 340.9C1005.8 337.6 1003.4 333.1 1003.4 328.6C1003.4 324.0 1004.2 316.6 1008.3 313.8Z" fill="rgb(191,191,191)"/>
<path d="M1013.2 318.7C1014.9 316.2 1023.9 320.3 1028.0 323.6C1032.1 326.9 1033.8 335.1 1037.9 338.4C1042.0 341.7 1046.9 341.7 1052.7 343.4C1058.5 345.0 1066.3 346.6 1072.4 348.3C1078.6 349.9 1087.6 350.3 1089.7 353.2C1091.8 356.1 1088.5 363.1 1084.8 365.6C1081.1 368.0 1072.8 366.8 1067.5 368.0C1062.2 369.3 1056.8 373.4 1052.7 373.0C1048.6 372.6 1046.1 369.3 1042.8 365.6C1039.5 361.9 1037.1 355.3 1033.0 350.8C1028.8 346.2 1021.4 343.8 1018.2 338.4C1014.9 333.1 1011.6 321.2 1013.2 318.7Z" fill="rgb(219,219,219)"/>
<path d="M1003.4 355.7C1006.2 354.0 1014.0 356.1 1018.2 358.2C1022.3 360.2 1024.7 364.7 1028.0 368.0C1031.3 371.3 1037.9 375.4 1037.9 377.9C1037.9 380.4 1031.3 381.2 1028.0 382.8C1024.7 384.5 1021.4 388.6 1018.2 387.8C1014.9 386.9 1011.2 381.2 1008.3 377.9C1005.4 374.6 1001.7 371.7 1000.9 368.0C1000.1 364.3 1000.5 357.3 1003.4 355.7Z" fill="rgb(191,191,191)"/>
<path d="M1141.5 358.2C1142.7 353.2 1146.0 346.6 1148.9 343.4C1151.8 340.1 1153.6 340.1 1158.8 338.4C1164.0 336.8 1176.5 325.3 1180.0 333.5C1183.5 341.7 1182.7 379.1 1180.0 387.8C1177.3 396.4 1168.5 386.5 1163.7 385.3C1158.9 384.1 1155.1 382.4 1151.4 380.4C1147.7 378.3 1143.2 376.7 1141.5 373.0C1139.9 369.3 1140.3 363.1 1141.5 358.2Z" fill="rgb(191,191,191)"/>
<path d="M1146.4 363.1C1148.9 360.2 1158.1 358.2 1163.7 358.2C1169.3 358.2 1177.3 359.4 1180.0 363.1C1182.7 366.8 1183.1 377.5 1180.0 380.4C1176.9 383.2 1166.4 381.2 1161.3 380.4C1156.1 379.5 1151.4 378.3 1148.9 375.4C1146.4 372.6 1144.0 366.0 1146.4 363.1Z" fill="rgb(219,219,219)"/>
<path d="M966.3 275.5C968.4 274.3 976.6 274.3 978.7 275.5C980.7 276.7 980.7 281.7 978.7 282.9C976.6 284.1 968.4 284.1 966.3 282.9C964.3 281.7 964.3 276.7 966.3 275.5Z" fill="rgb(176,176,176)"/>
<path d="M1353.3 361.8C1355.1 358.2 1361.8 354.4 1366.8 351.0C1371.7 347.7 1376.6 343.0 1382.9 341.6C1389.2 340.3 1399.1 342.3 1404.4 343.0C1409.8 343.7 1413.9 343.0 1415.2 345.7C1416.5 348.4 1413.9 355.1 1412.5 359.1C1411.2 363.2 1409.4 370.3 1407.1 369.9C1404.9 369.4 1402.2 360.0 1399.1 356.4C1395.9 352.8 1391.9 348.4 1388.3 348.4C1384.7 348.4 1380.2 352.8 1377.5 356.4C1374.8 360.0 1374.8 365.8 1372.2 369.9C1369.5 373.9 1364.1 380.2 1361.4 380.6C1358.7 381.1 1357.4 375.7 1356.0 372.6C1354.7 369.4 1351.5 365.4 1353.3 361.8Z" fill="rgb(191,191,191)"/>
<path d="M1280.7 415.6C1284.7 411.6 1293.3 405.7 1299.5 402.2C1305.8 398.6 1311.6 394.1 1318.4 394.1C1325.1 394.1 1334.5 402.2 1339.9 402.2C1345.3 402.2 1345.3 395.9 1350.6 394.1C1356.0 392.3 1365.0 391.0 1372.2 391.4C1379.3 391.8 1388.3 395.0 1393.7 396.8C1399.1 398.6 1403.5 399.5 1404.4 402.2C1405.3 404.8 1401.7 410.2 1399.1 412.9C1396.4 415.6 1391.4 415.6 1388.3 418.3C1385.2 421.0 1382.9 425.0 1380.2 429.1C1377.5 433.1 1375.3 440.7 1372.2 442.5C1369.0 444.3 1365.0 439.4 1361.4 439.8C1357.8 440.3 1356.5 443.9 1350.6 445.2C1344.8 446.5 1333.6 446.5 1326.4 447.9C1319.3 449.2 1312.5 453.7 1307.6 453.3C1302.7 452.8 1300.4 448.3 1296.8 445.2C1293.3 442.1 1289.7 437.6 1286.1 434.4C1282.5 431.3 1276.2 429.5 1275.3 426.4C1274.4 423.2 1276.7 419.6 1280.7 415.6Z" fill="rgb(191,191,191)"/>
<path d="M1302.2 404.8C1304.5 402.6 1314.8 401.7 1321.0 402.2C1327.3 402.6 1333.2 407.5 1339.9 407.5C1346.6 407.5 1355.6 402.2 1361.4 402.2C1367.2 402.2 1374.0 404.8 1374.8 407.5C1375.7 410.2 1370.8 415.6 1366.8 418.3C1362.7 421.0 1358.3 423.2 1350.6 423.7C1343.0 424.1 1328.2 422.3 1321.0 421.0C1313.9 419.6 1310.7 418.3 1307.6 415.6C1304.5 412.9 1300.0 407.1 1302.2 404.8Z" fill="rgb(212,212,212)"/>
<path d="M1280.7 423.7C1284.7 421.9 1303.1 425.5 1313.0 426.4C1322.8 427.3 1331.8 428.6 1339.9 429.1C1347.9 429.5 1356.0 428.2 1361.4 429.1C1366.8 430.0 1374.0 432.2 1372.2 434.4C1370.4 436.7 1359.6 441.2 1350.6 442.5C1341.7 443.9 1328.7 443.4 1318.4 442.5C1308.0 441.6 1295.0 440.3 1288.8 437.1C1282.5 434.0 1276.7 425.5 1280.7 423.7Z" fill="rgb(205,205,205)"/>
<path d="M1417.9 343.0C1420.1 336.7 1429.1 339.4 1431.3 343.0C1433.6 346.6 1432.2 358.2 1431.3 364.5C1430.4 370.8 1427.8 376.2 1426.0 380.6C1424.2 385.1 1421.9 391.4 1420.6 391.4C1419.2 391.4 1418.3 388.7 1417.9 380.6C1417.4 372.6 1415.6 349.3 1417.9 343.0Z" fill="rgb(176,176,176)"/>
<path d="M1436.7 380.6C1439.9 376.6 1447.9 369.9 1452.9 369.9C1457.8 369.9 1464.5 377.1 1466.3 380.6C1468.1 384.2 1467.7 388.7 1463.6 391.4C1459.6 394.1 1447.0 396.3 1442.1 396.8C1437.2 397.2 1434.9 396.8 1434.0 394.1C1433.1 391.4 1433.6 384.7 1436.7 380.6Z" fill="rgb(198,198,198)"/>
<path d="M1469.0 372.6C1470.8 367.2 1478.0 360.9 1482.4 356.4C1486.9 351.9 1491.4 348.8 1495.9 345.7C1500.4 342.5 1504.9 339.4 1509.3 337.6C1513.8 335.8 1517.9 334.9 1522.8 334.9C1527.7 334.9 1535.4 336.3 1538.9 337.6C1542.5 338.9 1545.2 340.7 1544.3 343.0C1543.4 345.2 1538.0 349.3 1533.6 351.0C1529.1 352.8 1522.3 351.5 1517.4 353.7C1512.5 356.0 1508.5 361.4 1504.0 364.5C1499.5 367.6 1494.6 369.9 1490.5 372.6C1486.5 375.3 1482.9 377.9 1479.8 380.6C1476.6 383.3 1473.5 390.1 1471.7 388.7C1469.9 387.4 1467.2 377.9 1469.0 372.6Z" fill="rgb(198,198,198)"/>
<path d="M1485.1 359.1C1487.4 355.5 1495.9 351.0 1501.3 348.4C1506.7 345.7 1513.8 343.0 1517.4 343.0C1521.0 343.0 1525.0 345.7 1522.8 348.4C1520.6 351.0 1509.8 355.5 1504.0 359.1C1498.1 362.7 1491.0 369.9 1487.8 369.9C1484.7 369.9 1482.9 362.7 1485.1 359.1Z" fill="rgb(219,219,219)"/>
<path d="M1417.9 404.8C1421.5 403.1 1437.6 403.5 1442.1 404.8C1446.6 406.2 1448.4 411.1 1444.8 412.9C1441.2 414.7 1425.1 417.0 1420.6 415.6C1416.1 414.3 1414.3 406.6 1417.9 404.8Z" fill="rgb(191,191,191)"/>
<path d="M1200.0 329.5C1200.9 325.5 1204.0 329.1 1205.4 332.2C1206.7 335.4 1209.0 344.3 1208.1 348.4C1207.2 352.4 1201.3 359.6 1200.0 356.4C1198.7 353.3 1199.1 333.6 1200.0 329.5Z" fill="rgb(205,205,205)"/>
<path d="M1200.0 369.9C1202.2 367.2 1209.9 365.4 1213.4 367.2C1217.0 369.0 1220.2 376.6 1221.5 380.6C1222.9 384.7 1223.8 389.6 1221.5 391.4C1219.3 393.2 1211.7 392.7 1208.1 391.4C1204.5 390.1 1201.3 386.9 1200.0 383.3C1198.7 379.7 1197.8 372.6 1200.0 369.9Z" fill="rgb(205,205,205)"/>
<path d="M1100.0 339.2C1101.2 330.2 1104.9 333.9 1107.4 334.3C1109.9 334.7 1114.4 337.2 1114.8 341.7C1115.2 346.2 1111.1 355.2 1109.9 361.4C1108.6 367.6 1109.0 374.2 1107.4 378.7C1105.8 383.2 1101.2 395.1 1100.0 388.6C1098.8 382.0 1098.8 348.3 1100.0 339.2Z" fill="rgb(205,205,205)"/>
<path d="M1141.9 378.7C1140.3 375.4 1138.7 369.2 1139.5 363.9C1140.3 358.5 1143.6 351.1 1146.9 346.6C1150.2 342.1 1154.7 338.8 1159.2 336.7C1163.7 334.7 1170.3 335.5 1174.0 334.3C1177.7 333.0 1178.1 330.2 1181.4 329.3C1184.7 328.5 1190.5 328.5 1193.8 329.3C1197.0 330.2 1199.5 331.0 1201.2 334.3C1202.8 337.6 1204.0 344.6 1203.6 349.1C1203.2 353.6 1200.3 358.5 1198.7 361.4C1197.0 364.3 1196.2 365.5 1193.8 366.3C1191.3 367.2 1187.2 365.9 1183.9 366.3C1180.6 366.8 1176.1 366.3 1174.0 368.8C1172.0 371.3 1174.0 378.3 1171.5 381.2C1169.1 384.0 1162.9 385.7 1159.2 386.1C1155.5 386.5 1152.2 384.9 1149.3 383.6C1146.5 382.4 1143.6 382.0 1141.9 378.7Z" fill="rgb(191,191,191)"/>
<path d="M1144.4 366.3C1146.1 363.5 1152.2 361.8 1156.7 361.4C1161.3 361.0 1167.4 363.9 1171.5 363.9C1175.7 363.9 1177.7 362.2 1181.4 361.4C1185.1 360.6 1195.0 356.9 1193.8 358.9C1192.5 361.0 1179.8 370.1 1174.0 373.8C1168.3 377.5 1163.7 380.3 1159.2 381.2C1154.7 382.0 1149.3 381.2 1146.9 378.7C1144.4 376.2 1142.8 369.2 1144.4 366.3Z" fill="rgb(219,219,219)"/>
<path d="M1161.7 345.4C1163.9 343.5 1169.9 342.7 1174.0 342.9C1178.1 343.1 1184.7 344.6 1186.3 346.6C1188.0 348.7 1186.8 353.4 1183.9 355.2C1181.0 357.1 1173.0 357.9 1169.1 357.7C1165.2 357.5 1161.7 356.1 1160.4 354.0C1159.2 352.0 1159.4 347.2 1161.7 345.4Z" fill="rgb(0,0,0)"/>
<path d="M1201.2 376.2C1201.6 373.3 1205.7 370.1 1208.6 368.8C1211.4 367.6 1216.2 367.2 1218.4 368.8C1220.7 370.5 1221.5 375.0 1222.1 378.7C1222.7 382.4 1223.6 389.0 1222.1 391.0C1220.7 393.1 1216.2 391.8 1213.5 391.0C1210.8 390.2 1208.1 388.6 1206.1 386.1C1204.0 383.6 1200.7 379.1 1201.2 376.2Z" fill="rgb(212,212,212)"/>
<path d="M1282.6 413.2C1287.5 409.5 1292.4 403.8 1297.4 400.9C1302.3 398.0 1305.6 396.8 1312.2 396.0C1318.8 395.1 1330.3 397.2 1336.8 396.0C1343.4 394.7 1347.5 389.0 1351.6 388.6C1355.8 388.1 1357.0 393.5 1361.5 393.5C1366.0 393.5 1372.4 389.0 1378.8 388.6C1385.2 388.1 1396.5 382.8 1400.0 391.0C1403.5 399.2 1402.3 428.4 1400.0 437.9C1397.7 447.4 1391.0 446.9 1386.2 447.8C1381.4 448.6 1376.3 444.5 1371.4 442.8C1366.4 441.2 1362.3 437.9 1356.6 437.9C1350.8 437.9 1342.6 441.2 1336.8 442.8C1331.1 444.5 1326.2 445.3 1322.0 447.8C1317.9 450.2 1315.5 454.3 1312.2 457.6C1308.9 460.9 1305.2 464.6 1302.3 467.5C1299.4 470.4 1297.0 473.3 1294.9 474.9C1292.8 476.5 1290.4 479.4 1290.0 477.4C1289.6 475.3 1290.4 467.1 1292.4 462.6C1294.5 458.0 1303.1 453.9 1302.3 450.2C1301.5 446.5 1291.6 444.1 1287.5 440.4C1283.4 436.7 1280.9 430.9 1277.6 428.0C1274.3 425.1 1266.9 425.6 1267.8 423.1C1268.6 420.6 1277.6 416.9 1282.6 413.2Z" fill="rgb(191,191,191)"/>
<path d="M1297.4 405.8C1301.5 403.4 1313.8 402.1 1322.0 400.9C1330.3 399.7 1338.5 398.8 1346.7 398.4C1354.9 398.0 1364.8 397.6 1371.4 398.4C1378.0 399.2 1386.2 400.9 1386.2 403.4C1386.2 405.8 1379.6 411.2 1371.4 413.2C1363.2 415.3 1349.2 415.3 1336.8 415.7C1324.5 416.1 1303.9 417.3 1297.4 415.7C1290.8 414.0 1293.3 408.3 1297.4 405.8Z" fill="rgb(205,205,205)"/>
<path d="M1282.6 425.6C1287.5 423.9 1309.7 425.6 1322.0 425.6C1334.4 425.6 1348.4 424.3 1356.6 425.6C1364.8 426.8 1373.0 431.3 1371.4 433.0C1369.7 434.6 1355.8 434.2 1346.7 435.4C1337.7 436.7 1326.2 440.4 1317.1 440.4C1308.1 440.4 1298.2 437.9 1292.4 435.4C1286.7 433.0 1277.6 427.2 1282.6 425.6Z" fill="rgb(212,212,212)"/>
<path d="M1354.1 366.3C1355.8 362.2 1361.9 357.7 1366.4 354.0C1371.0 350.3 1375.7 346.0 1381.3 344.1C1386.8 342.3 1396.9 341.3 1400.0 342.9C1403.1 344.6 1402.3 352.2 1400.0 354.0C1397.7 355.9 1390.5 352.8 1386.2 354.0C1381.8 355.2 1377.1 358.1 1373.9 361.4C1370.6 364.7 1368.5 370.5 1366.4 373.8C1364.4 377.0 1363.2 380.3 1361.5 381.2C1359.9 382.0 1357.8 381.2 1356.6 378.7C1355.3 376.2 1352.5 370.5 1354.1 366.3Z" fill="rgb(198,198,198)"/>
<path d="M1287.5 470.0C1289.1 465.9 1295.7 466.3 1297.4 467.5C1299.0 468.7 1297.8 474.9 1297.4 477.4C1297.0 479.8 1295.7 479.4 1294.9 482.3C1294.1 485.2 1293.7 493.0 1292.4 494.6C1291.2 496.3 1288.3 496.3 1287.5 492.2C1286.7 488.1 1285.9 474.1 1287.5 470.0Z" fill="rgb(205,205,205)"/>
<path d="M743.1 410.0C746.4 407.5 763.7 404.4 767.8 410.0C771.9 415.6 770.2 438.0 767.8 443.3C765.3 448.7 756.3 445.2 753.0 442.1C749.7 439.0 749.7 430.1 748.0 424.8C746.4 419.5 739.8 412.5 743.1 410.0Z" fill="rgb(205,205,205)"/>
<path d="M771.5 410.0C779.9 404.7 813.6 408.4 822.0 410.0C830.5 411.6 826.2 417.4 822.0 419.9C817.9 422.3 803.9 421.9 797.4 424.8C790.8 427.7 786.9 434.3 782.6 437.1C778.2 440.0 773.3 446.6 771.5 442.1C769.6 437.5 763.0 415.3 771.5 410.0Z" fill="rgb(205,205,205)"/>
<path d="M755.4 493.9C757.1 491.4 763.2 490.6 767.8 488.9C772.3 487.3 780.1 483.2 782.6 484.0C785.0 484.8 784.2 490.6 782.6 493.9C780.9 497.2 776.8 502.1 772.7 503.8C768.6 505.4 760.8 505.4 757.9 503.8C755.0 502.1 753.8 496.3 755.4 493.9Z" fill="rgb(212,212,212)"/>
<path d="M743.1 449.5C747.2 447.8 762.8 446.2 767.8 447.0C772.7 447.8 775.2 452.4 772.7 454.4C770.2 456.5 757.9 458.9 753.0 459.3C748.0 459.8 744.7 458.5 743.1 456.9C741.4 455.2 739.0 451.1 743.1 449.5Z" fill="rgb(191,191,191)"/>
<path d="M1277.9 422.5C1293.5 420.8 1358.9 421.2 1376.6 422.5C1394.3 423.7 1384.4 427.0 1384.0 429.9C1383.6 432.7 1377.0 436.9 1374.1 439.7C1371.2 442.6 1369.6 447.1 1366.7 447.1C1363.8 447.1 1361.0 441.8 1356.8 439.7C1352.7 437.7 1346.2 434.4 1342.0 434.8C1337.9 435.2 1336.3 441.4 1332.2 442.2C1328.1 443.0 1321.5 438.9 1317.4 439.7C1313.3 440.6 1310.0 443.8 1307.5 447.1C1305.0 450.4 1304.2 455.8 1302.6 459.5C1300.9 463.2 1299.7 466.5 1297.6 469.3C1295.6 472.2 1291.9 477.2 1290.2 476.7C1288.6 476.3 1286.5 471.0 1287.8 466.9C1289.0 462.8 1296.0 456.6 1297.6 452.1C1299.3 447.5 1300.1 443.0 1297.6 439.7C1295.2 436.4 1286.1 435.2 1282.8 432.3C1279.5 429.5 1262.3 424.1 1277.9 422.5Z" fill="rgb(198,198,198)"/>
<path d="M1260.6 523.6C1261.4 520.7 1268.4 511.3 1273.0 506.3C1277.5 501.4 1284.5 495.7 1287.8 494.0C1291.1 492.4 1293.9 493.6 1292.7 496.5C1291.5 499.4 1284.5 506.8 1280.4 511.3C1276.3 515.8 1271.3 521.6 1268.0 523.6C1264.7 525.7 1259.8 526.5 1260.6 523.6Z" fill="rgb(198,198,198)"/>
<path d="M1287.8 481.7C1289.4 480.4 1296.8 480.4 1297.6 481.7C1298.5 482.9 1294.3 487.8 1292.7 489.1C1291.1 490.3 1288.6 490.3 1287.8 489.1C1286.9 487.8 1286.1 482.9 1287.8 481.7Z" fill="rgb(205,205,205)"/>
<path d="M1287.5 440.4C1289.1 436.3 1294.5 435.8 1297.4 437.9C1300.2 440.0 1304.8 447.4 1304.8 452.7C1304.8 458.0 1299.8 465.9 1297.4 470.0C1294.9 474.1 1291.6 478.6 1290.0 477.4C1288.3 476.1 1287.9 468.7 1287.5 462.6C1287.1 456.4 1285.9 444.5 1287.5 440.4Z" fill="rgb(198,198,198)"/>
</g>
<g filter="url(#fyw)"><rect x="280" y="180" width="1340" height="712" fill="#000"/>
<path d="M443.4 264.4C445.8 261.5 453.2 258.7 458.2 259.5C463.1 260.3 467.6 266.9 473.0 269.3C478.3 271.8 486.9 270.2 490.2 274.3C493.5 278.4 494.8 290.3 492.7 294.0C490.6 297.7 482.8 296.9 477.9 296.5C473.0 296.1 467.2 294.0 463.1 291.5C459.0 289.1 456.5 284.1 453.2 281.7C449.9 279.2 445.0 279.6 443.4 276.7C441.7 273.9 440.9 267.3 443.4 264.4Z" fill="rgb(189,189,189)"/>
<path d="M416.2 269.3C421.2 264.8 437.2 257.4 443.4 259.5C449.5 261.5 449.1 274.7 453.2 281.7C457.3 288.7 468.0 296.5 468.0 301.4C468.0 306.3 460.6 311.3 453.2 311.3C445.8 311.3 430.2 305.5 423.6 301.4C417.0 297.3 415.0 292.0 413.8 286.6C412.5 281.3 411.3 273.9 416.2 269.3Z" fill="rgb(117,117,117)"/>
<path d="M354.5 328.6C358.2 324.9 372.6 322.8 376.7 326.1C380.9 329.4 379.6 339.7 379.2 348.3C378.8 356.9 374.7 368.8 374.3 377.9C373.9 386.9 377.6 396.0 376.7 402.6C375.9 409.1 374.7 414.9 369.3 417.4C364.0 419.8 349.2 421.5 344.7 417.4C340.1 413.3 341.4 400.9 342.2 392.7C343.0 384.5 347.5 375.4 349.6 368.0C351.7 360.6 353.7 354.9 354.5 348.3C355.4 341.7 350.8 332.3 354.5 328.6Z" fill="rgb(160,160,160)"/>
<path d="M401.4 326.1C408.0 322.8 430.6 321.6 438.4 323.6C446.2 325.7 448.7 335.1 448.3 338.4C447.9 341.7 440.1 340.9 436.0 343.4C431.8 345.8 428.6 350.8 423.6 353.2C418.7 355.7 410.5 359.8 406.3 358.2C402.2 356.5 399.8 348.7 398.9 343.4C398.1 338.0 394.8 329.4 401.4 326.1Z" fill="rgb(132,132,132)"/>
<path d="M453.2 377.9C454.0 374.6 466.4 373.0 473.0 373.0C479.5 373.0 489.4 370.5 492.7 377.9C496.0 385.3 498.5 410.8 492.7 417.4C486.9 423.9 465.6 419.0 458.2 417.4C450.8 415.7 446.6 411.6 448.3 407.5C449.9 403.4 467.2 397.6 468.0 392.7C468.8 387.8 452.4 381.2 453.2 377.9Z" fill="rgb(132,132,132)"/>
<path d="M500.1 373.0C503.0 369.7 512.0 375.0 517.4 377.9C522.7 380.8 526.4 387.8 532.2 390.2C537.9 392.7 546.2 393.5 551.9 392.7C557.7 391.9 561.0 385.3 566.7 385.3C572.5 385.3 582.3 389.0 586.4 392.7C590.6 396.4 594.7 403.4 591.4 407.5C588.1 411.6 576.6 416.1 566.7 417.4C556.8 418.6 541.2 416.1 532.2 414.9C523.1 413.7 517.8 412.8 512.4 410.0C507.1 407.1 502.2 403.8 500.1 397.6C498.0 391.5 497.2 376.3 500.1 373.0Z" fill="rgb(170,170,170)"/>
<path d="M368.1 296.5C370.0 294.8 377.4 294.8 379.2 296.5C381.1 298.1 381.1 304.7 379.2 306.3C377.4 308.0 370.0 308.0 368.1 306.3C366.3 304.7 366.3 298.1 368.1 296.5Z" fill="rgb(170,170,170)"/>
<path d="M666.6 343.4C669.1 340.1 679.8 340.9 683.9 343.4C688.0 345.8 688.8 353.2 691.3 358.2C693.8 363.1 699.1 368.8 698.7 373.0C698.3 377.1 690.1 378.7 688.8 382.8C687.6 386.9 692.9 394.3 691.3 397.6C689.6 400.9 682.6 403.4 678.9 402.6C675.2 401.7 669.9 396.8 669.1 392.7C668.3 388.6 674.0 382.8 674.0 377.9C674.0 373.0 670.3 368.8 669.1 363.1C667.8 357.3 664.1 346.6 666.6 343.4Z" fill="rgb(132,132,132)"/>
<path d="M344.7 424.8C348.8 419.5 361.1 422.3 369.3 422.3C377.6 422.3 384.1 424.0 394.0 424.8C403.9 425.6 422.8 419.5 428.6 427.3C434.3 435.1 430.2 464.7 428.6 471.7C426.9 478.7 423.2 470.0 418.7 469.2C414.2 468.4 405.5 470.4 401.4 466.7C397.3 463.0 397.7 450.7 394.0 447.0C390.3 443.3 384.1 444.1 379.2 444.5C374.3 445.0 368.9 446.2 364.4 449.5C359.9 452.8 355.4 463.5 352.1 464.3C348.8 465.1 345.9 461.0 344.7 454.4C343.4 447.8 340.6 430.1 344.7 424.8Z" fill="rgb(117,117,117)"/>
<path d="M342.2 454.4C343.4 451.5 351.3 454.4 354.5 459.3C357.8 464.3 361.5 478.7 361.9 484.0C362.4 489.4 359.5 492.6 357.0 491.4C354.5 490.2 349.6 482.8 347.1 476.6C344.7 470.4 341.0 457.3 342.2 454.4Z" fill="rgb(113,113,113)"/>
<path d="M436.0 422.3C456.1 411.9 536.7 401.0 556.8 421.1C577.0 441.3 559.3 523.7 556.8 543.2C554.4 562.8 546.6 540.8 542.0 538.3C537.5 535.8 533.8 531.7 529.7 528.4C525.6 525.1 521.9 520.6 517.4 518.6C512.8 516.5 506.7 515.7 502.6 516.1C498.5 516.5 496.8 522.3 492.7 521.0C488.6 519.8 482.0 512.8 477.9 508.7C473.8 504.6 471.3 500.5 468.0 496.3C464.7 492.2 462.3 484.8 458.2 484.0C454.0 483.2 447.1 491.4 443.4 491.4C439.7 491.4 437.2 495.5 436.0 484.0C434.7 472.5 415.8 432.8 436.0 422.3Z" fill="rgb(113,113,113)"/>
<path d="M591.4 459.3C594.7 454.4 606.4 456.9 611.1 459.3C615.9 461.8 618.5 461.8 620.0 474.1C621.5 486.5 624.8 524.3 620.0 533.4C615.2 542.4 598.6 529.7 591.4 528.4C584.1 527.2 578.2 529.2 576.6 526.0C574.9 522.7 579.0 514.9 581.5 508.7C584.0 502.5 589.7 497.2 591.4 488.9C593.0 480.7 588.1 464.3 591.4 459.3Z" fill="rgb(113,113,113)"/>
<path d="M598.8 592.6C601.5 589.7 616.5 587.6 620.0 590.1C623.5 592.6 622.7 604.5 620.0 607.4C617.3 610.2 607.3 609.8 603.7 607.4C600.2 604.9 596.1 595.4 598.8 592.6Z" fill="rgb(113,113,113)"/>
<path d="M666.6 449.5C669.9 442.5 683.5 445.4 686.3 449.5C689.2 453.6 685.9 467.2 683.9 474.1C681.8 481.1 676.9 488.5 674.0 491.4C671.1 494.3 667.8 498.4 666.6 491.4C665.4 484.4 663.3 456.5 666.6 449.5Z" fill="rgb(113,113,113)"/>
<path d="M629.6 464.3C632.1 461.0 644.4 460.2 649.3 461.8C654.3 463.5 659.2 470.4 659.2 474.1C659.2 477.8 653.5 482.8 649.3 484.0C645.2 485.2 637.8 484.8 634.5 481.5C631.3 478.3 627.1 467.6 629.6 464.3Z" fill="rgb(113,113,113)"/>
<path d="M600.0 597.5C602.5 592.9 609.9 599.1 614.8 602.4C619.7 605.7 628.0 612.6 629.6 617.2C631.3 621.8 629.6 627.9 624.7 630.1C619.7 632.2 604.1 635.5 600.0 630.1C595.9 624.6 597.5 602.1 600.0 597.5Z" fill="rgb(113,113,113)"/>
<path d="M696.2 555.6C698.7 551.0 706.1 551.9 708.6 555.6C711.0 559.3 711.8 572.4 711.0 577.8C710.2 583.1 706.5 586.8 703.6 587.6C700.7 588.5 695.0 588.0 693.8 582.7C692.5 577.4 693.8 560.1 696.2 555.6Z" fill="rgb(132,132,132)"/>
<path d="M738.2 567.9C742.3 563.8 752.1 559.7 757.9 558.0C763.7 556.4 770.6 555.6 772.7 558.0C774.8 560.5 772.7 568.7 770.2 572.8C767.8 576.9 762.0 580.2 757.9 582.7C753.8 585.2 749.7 587.6 745.6 587.6C741.4 587.6 734.5 586.0 733.2 582.7C732.0 579.4 734.0 572.0 738.2 567.9Z" fill="rgb(142,142,142)"/>
<path d="M666.6 592.6C669.1 585.5 677.7 586.0 681.4 587.6C685.1 589.3 688.4 595.4 688.8 602.4C689.2 609.5 687.6 625.5 683.9 630.1C680.2 634.7 669.5 636.3 666.6 630.1C663.7 623.8 664.1 599.6 666.6 592.6Z" fill="rgb(151,151,151)"/>
<path d="M597.4 589.3C598.2 585.2 606.4 582.4 609.7 584.4C613.0 586.5 614.2 596.7 617.1 601.7C620.0 606.6 622.9 610.7 627.0 614.0C631.1 617.3 640.1 619.4 641.8 621.4C643.4 623.5 640.5 626.3 636.8 626.3C633.1 626.3 624.9 624.3 619.6 621.4C614.2 618.5 608.5 614.4 604.8 609.1C601.1 603.7 596.5 593.5 597.4 589.3Z" fill="rgb(151,151,151)"/>
<path d="M668.9 589.3C671.4 583.6 679.2 585.6 683.7 586.9C688.2 588.1 693.3 592.2 696.1 596.7C698.8 601.3 699.3 605.4 700.0 614.0C700.7 622.6 702.3 642.0 700.0 648.6C697.7 655.1 691.0 653.9 686.2 653.5C681.4 653.1 674.3 651.4 671.4 646.1C668.5 640.7 669.3 630.9 668.9 621.4C668.5 612.0 666.4 595.1 668.9 589.3Z" fill="rgb(151,151,151)"/>
<path d="M667.4 589.6C670.3 581.8 680.1 585.5 684.7 587.1C689.2 588.8 693.3 593.3 694.5 599.5C695.8 605.6 691.3 618.4 692.1 624.1C692.9 629.9 699.1 629.1 699.5 634.0C699.9 638.9 697.0 649.6 694.5 653.8C692.1 657.9 688.4 658.7 684.7 658.7C681.0 658.7 675.2 657.9 672.3 653.8C669.5 649.6 668.2 644.7 667.4 634.0C666.6 623.3 664.5 597.4 667.4 589.6Z" fill="rgb(160,160,160)"/>
<path d="M697.0 567.4C699.9 565.8 712.6 567.0 716.7 569.9C720.9 572.7 722.9 581.8 721.7 584.7C720.4 587.5 713.0 588.0 709.3 587.1C705.6 586.3 701.5 583.0 699.5 579.7C697.4 576.4 694.1 569.0 697.0 567.4Z" fill="rgb(132,132,132)"/>
<path d="M746.3 567.4C748.0 563.3 758.7 560.4 763.6 560.0C768.6 559.6 775.1 561.6 776.0 564.9C776.8 568.2 772.3 576.4 768.6 579.7C764.9 583.0 757.5 586.7 753.8 584.7C750.1 582.6 744.7 571.5 746.3 567.4Z" fill="rgb(142,142,142)"/>
<path d="M734.0 648.8C735.2 645.9 740.2 645.9 741.4 648.8C742.6 651.7 742.6 663.2 741.4 666.1C740.2 669.0 735.2 669.0 734.0 666.1C732.8 663.2 732.8 651.7 734.0 648.8Z" fill="rgb(151,151,151)"/>
<path d="M401.4 451.9C403.1 450.3 414.2 454.0 418.7 459.3C423.2 464.7 425.3 475.8 428.6 484.0C431.8 492.2 438.0 504.2 438.4 508.7C438.8 513.2 434.3 514.9 431.0 511.2C427.7 507.5 422.4 493.5 418.7 486.5C415.0 479.5 411.7 475.0 408.8 469.2C405.9 463.5 399.8 453.6 401.4 451.9Z" fill="rgb(104,104,104)"/>
<path d="M347.1 439.6C350.4 438.0 364.8 440.4 369.3 444.5C373.9 448.7 375.9 460.6 374.3 464.3C372.6 468.0 363.6 468.4 359.5 466.7C355.4 465.1 351.7 458.9 349.6 454.4C347.5 449.9 343.8 441.3 347.1 439.6Z" fill="rgb(104,104,104)"/>
<path d="M772.7 249.6C774.3 246.7 782.6 245.5 787.5 247.1C792.4 248.8 801.5 255.8 802.3 259.5C803.1 263.2 796.5 268.5 792.4 269.3C788.3 270.2 780.9 267.7 777.6 264.4C774.3 261.1 771.1 252.5 772.7 249.6Z" fill="rgb(142,142,142)"/>
<path d="M602.3 633.8C605.6 633.8 619.6 640.7 622.0 643.6C624.5 646.5 620.4 651.0 617.1 651.0C613.8 651.0 604.8 646.5 602.3 643.6C599.8 640.7 599.0 633.8 602.3 633.8Z" fill="rgb(104,104,104)"/>
<path d="M666.6 348.3C673.2 342.9 700.3 340.9 708.6 345.8C716.8 350.8 711.8 370.1 716.0 377.9C720.1 385.7 734.5 387.8 733.2 392.7C732.0 397.6 718.4 405.9 708.6 407.5C698.7 409.1 680.6 407.5 674.0 402.6C667.4 397.6 670.3 386.9 669.1 377.9C667.8 368.8 660.0 353.6 666.6 348.3Z" fill="rgb(113,113,113)"/>
<path d="M344.7 323.6C354.1 308.0 392.0 317.9 401.4 323.6C410.9 329.4 405.1 350.8 401.4 358.2C397.7 365.6 382.9 358.2 379.2 368.0C375.5 377.9 385.0 409.1 379.2 417.4C373.5 425.6 350.4 433.0 344.7 417.4C338.9 401.7 335.2 339.2 344.7 323.6Z" fill="rgb(104,104,104)"/>
<path d="M697.4 556.1C696.1 557.2 705.5 557.5 709.6 560.2C713.6 562.9 716.3 570.6 721.7 572.3C727.1 574.0 736.5 568.9 741.9 570.3C747.2 571.6 749.6 580.7 754.0 580.4C758.3 580.0 764.7 572.0 768.1 568.3C771.5 564.6 775.2 560.5 774.2 558.2C773.1 555.8 766.1 553.8 762.0 554.1C758.0 554.5 754.6 558.8 749.9 560.2C745.2 561.5 739.2 563.2 733.8 562.2C728.4 561.2 723.7 555.1 717.6 554.1C711.6 553.1 698.8 555.1 697.4 556.1Z" fill="rgb(113,113,113)"/>
</g>
<g filter="url(#fgs)"><rect x="280" y="180" width="1340" height="712" fill="#000"/>
<path d="M880.0 382.8C882.5 380.0 890.3 380.0 894.8 380.4C899.3 380.8 903.0 383.2 907.1 385.3C911.3 387.4 916.2 389.8 919.5 392.7C922.8 395.6 923.6 399.3 926.9 402.6C930.2 405.9 933.5 410.4 939.2 412.4C945.0 414.5 954.0 414.5 961.4 414.9C968.8 415.3 975.0 414.5 983.6 414.9C992.3 415.3 1007.5 418.6 1013.2 417.4C1019.0 416.1 1015.7 407.5 1018.2 407.5C1020.6 407.5 1022.3 415.7 1028.0 417.4C1033.8 419.0 1046.1 417.0 1052.7 417.4C1059.3 417.8 1062.2 420.2 1067.5 419.8C1072.8 419.4 1077.4 416.1 1084.8 414.9C1092.2 413.7 1107.4 408.2 1111.9 412.4C1116.4 416.6 1150.6 435.5 1111.9 440.1C1073.3 444.7 916.2 442.6 880.0 440.1C843.8 437.5 890.7 428.6 894.8 424.8C898.9 421.0 904.7 420.2 904.7 417.4C904.7 414.5 898.9 410.8 894.8 407.5C890.7 404.2 882.5 401.7 880.0 397.6C877.5 393.5 877.5 385.7 880.0 382.8Z" fill="rgb(162,162,162)"/>
<path d="M909.6 440.1C877.1 437.9 913.7 431.0 917.0 427.2C920.3 423.5 925.2 417.8 929.3 417.4C933.5 417.0 936.3 423.1 941.7 424.8C947.0 426.4 955.2 427.6 961.4 427.2C967.6 426.8 972.5 421.9 978.7 422.3C984.9 422.7 991.8 429.3 998.4 429.7C1005.0 430.1 1011.6 424.8 1018.2 424.8C1024.7 424.8 1032.1 430.1 1037.9 429.7C1043.7 429.3 1047.8 422.7 1052.7 422.3C1057.6 421.9 1062.2 427.2 1067.5 427.2C1072.8 427.2 1077.4 423.9 1084.8 422.3C1092.2 420.7 1107.4 414.4 1111.9 417.4C1116.4 420.3 1145.6 436.3 1111.9 440.1C1078.2 443.9 942.1 442.2 909.6 440.1Z" fill="rgb(219,219,219)"/>
<path d="M880.0 385.3C882.5 384.1 893.2 385.7 894.8 387.8C896.4 389.8 892.3 396.4 889.9 397.6C887.4 398.9 881.6 397.2 880.0 395.2C878.4 393.1 877.5 386.5 880.0 385.3Z" fill="rgb(205,205,205)"/>
<path d="M1200.0 402.2C1202.7 390.4 1211.7 396.8 1216.1 399.5C1220.6 402.2 1220.6 413.4 1226.9 418.3C1233.2 423.2 1248.0 424.6 1253.8 429.1C1259.6 433.5 1260.5 438.4 1261.9 445.2C1263.2 452.0 1272.2 465.8 1261.9 469.9C1251.6 474.1 1210.3 481.2 1200.0 469.9C1189.7 458.6 1197.3 413.9 1200.0 402.2Z" fill="rgb(165,165,165)"/>
<path d="M1200.0 429.1C1202.7 421.8 1210.8 425.5 1216.1 426.4C1221.5 427.3 1226.0 431.3 1232.3 434.4C1238.6 437.6 1250.2 439.3 1253.8 445.2C1257.4 451.1 1262.8 465.8 1253.8 469.9C1244.8 474.1 1209.0 476.8 1200.0 469.9C1191.0 463.1 1197.3 436.3 1200.0 429.1Z" fill="rgb(219,219,219)"/>
<path d="M1267.2 450.6C1270.8 446.9 1282.0 446.5 1288.8 447.9C1295.5 449.2 1299.1 457.8 1307.6 458.6C1316.1 459.5 1330.9 454.2 1339.9 453.3C1348.8 452.4 1355.1 451.9 1361.4 453.3C1367.7 454.6 1374.8 458.6 1377.5 461.3C1380.2 464.1 1395.9 468.5 1377.5 469.9C1359.2 471.4 1285.6 473.2 1267.2 469.9C1248.9 466.7 1263.7 454.3 1267.2 450.6Z" fill="rgb(151,151,151)"/>
<path d="M1313.0 464.0C1318.4 462.1 1331.8 459.1 1339.9 458.6C1347.9 458.2 1356.0 459.5 1361.4 461.3C1366.8 463.2 1381.1 468.5 1372.2 469.9C1363.2 471.4 1317.5 470.9 1307.6 469.9C1297.7 469.0 1307.6 465.9 1313.0 464.0Z" fill="rgb(176,176,176)"/>
<path d="M1404.4 418.3C1406.2 412.5 1408.0 402.6 1409.8 402.2C1411.6 401.7 1414.8 410.2 1415.2 415.6C1415.6 421.0 1413.9 429.5 1412.5 434.4C1411.2 439.4 1409.4 442.1 1407.1 445.2C1404.9 448.3 1402.2 451.0 1399.1 453.3C1395.9 455.5 1391.0 459.1 1388.3 458.6C1385.6 458.2 1381.1 454.2 1382.9 450.6C1384.7 447.0 1395.5 442.5 1399.1 437.1C1402.6 431.7 1402.6 424.1 1404.4 418.3Z" fill="rgb(162,162,162)"/>
<path d="M1423.3 423.7C1424.6 420.5 1431.8 419.2 1434.0 421.0C1436.3 422.8 1438.1 431.3 1436.7 434.4C1435.4 437.6 1428.2 441.6 1426.0 439.8C1423.7 438.0 1421.9 426.8 1423.3 423.7Z" fill="rgb(169,169,169)"/>
<path d="M1100.0 418.2C1102.5 405.7 1106.6 423.9 1114.8 425.6C1123.0 427.2 1139.5 428.0 1149.3 428.0C1159.2 428.0 1165.0 426.0 1174.0 425.6C1183.1 425.1 1197.0 424.3 1203.6 425.6C1210.2 426.8 1209.4 431.3 1213.5 433.0C1217.6 434.6 1222.5 435.4 1228.3 435.4C1234.0 435.4 1242.7 432.6 1248.0 433.0C1253.4 433.4 1257.9 430.5 1260.4 437.9C1262.8 445.3 1260.8 467.0 1262.8 477.4C1264.9 487.7 1299.8 496.3 1272.7 500.1C1245.6 503.9 1128.8 513.7 1100.0 500.1C1071.2 486.4 1097.5 430.6 1100.0 418.2Z" fill="rgb(165,165,165)"/>
<path d="M1100.0 428.0C1101.6 419.8 1107.0 421.4 1109.9 423.1C1112.7 424.7 1114.0 433.8 1117.3 437.9C1120.6 442.0 1124.3 446.5 1129.6 447.8C1135.0 449.0 1142.4 446.9 1149.3 445.3C1156.3 443.7 1167.0 440.4 1171.5 437.9C1176.1 435.4 1172.0 432.1 1176.5 430.5C1181.0 428.8 1192.1 426.8 1198.7 428.0C1205.3 429.3 1209.4 436.3 1216.0 437.9C1222.5 439.5 1232.0 436.3 1238.2 437.9C1244.3 439.5 1249.3 443.7 1253.0 447.8C1256.7 451.9 1259.5 457.6 1260.4 462.6C1261.2 467.5 1260.0 473.3 1257.9 477.4C1255.8 481.5 1252.1 483.5 1248.0 487.2C1243.9 491.0 1242.3 497.9 1233.2 500.1C1224.2 502.2 1202.4 502.6 1193.8 500.1C1185.1 497.5 1185.5 489.0 1181.4 484.8C1177.3 480.6 1174.4 477.8 1169.1 474.9C1163.7 472.0 1154.7 467.1 1149.3 467.5C1144.0 467.9 1141.1 474.5 1137.0 477.4C1132.9 480.2 1128.4 484.8 1124.7 484.8C1121.0 484.8 1118.9 479.4 1114.8 477.4C1110.7 475.3 1102.5 480.7 1100.0 472.4C1097.5 464.2 1098.4 436.3 1100.0 428.0Z" fill="rgb(212,212,212)"/>
<path d="M1201.2 413.2C1202.2 410.1 1205.7 407.5 1208.6 405.8C1211.4 404.2 1217.2 402.1 1218.4 403.4C1219.7 404.6 1217.6 409.9 1216.0 413.2C1214.3 416.5 1210.8 421.2 1208.6 423.1C1206.3 424.9 1203.6 426.0 1202.4 424.3C1201.2 422.7 1200.1 416.3 1201.2 413.2Z" fill="rgb(176,176,176)"/>
<path d="M1267.8 447.8C1270.2 443.7 1279.3 449.4 1282.6 452.7C1285.9 456.0 1287.5 463.4 1287.5 467.5C1287.5 471.6 1285.9 475.7 1282.6 477.4C1279.3 479.0 1270.2 482.3 1267.8 477.4C1265.3 472.4 1265.3 451.9 1267.8 447.8Z" fill="rgb(205,205,205)"/>
<path d="M1302.3 457.6C1305.2 453.1 1314.6 450.6 1322.0 447.8C1329.4 444.9 1338.5 440.0 1346.7 440.4C1354.9 440.8 1365.2 447.4 1371.4 450.2C1377.6 453.1 1383.7 454.8 1383.7 457.6C1383.7 460.5 1377.6 464.6 1371.4 467.5C1365.2 470.4 1354.9 473.3 1346.7 474.9C1338.5 476.5 1329.0 477.4 1322.0 477.4C1315.1 477.4 1308.1 478.2 1304.8 474.9C1301.5 471.6 1299.4 462.2 1302.3 457.6Z" fill="rgb(145,145,145)"/>
<path d="M1383.7 447.8C1385.6 444.1 1397.3 439.5 1400.0 440.4C1402.7 441.2 1401.9 449.0 1400.0 452.7C1398.1 456.4 1391.4 463.4 1388.7 462.6C1385.9 461.7 1381.8 451.5 1383.7 447.8Z" fill="rgb(162,162,162)"/>
<path d="M1272.7 482.3C1278.5 480.7 1287.1 478.2 1292.4 479.8C1297.8 481.5 1303.9 488.8 1304.8 492.2C1305.6 495.5 1306.8 498.8 1297.4 500.1C1287.9 501.4 1254.6 501.8 1248.0 500.1C1241.4 498.3 1253.8 492.7 1257.9 489.7C1262.0 486.7 1266.9 483.9 1272.7 482.3Z" fill="rgb(184,184,184)"/>
<path d="M748.0 516.1C749.7 513.6 757.1 512.8 762.8 511.2C768.6 509.5 776.8 507.9 782.6 506.2C788.3 504.6 793.3 503.8 797.4 501.3C801.5 498.8 805.2 495.9 807.2 491.4C809.3 486.9 809.1 464.3 809.7 474.1C810.3 484.0 813.8 538.1 810.9 550.6C808.1 563.2 798.0 549.8 792.4 549.4C786.9 549.0 782.6 549.2 777.6 548.2C772.7 547.1 764.5 546.5 762.8 543.2C761.2 539.9 769.4 531.3 767.8 528.4C766.1 525.5 756.3 528.0 753.0 526.0C749.7 523.9 746.4 518.6 748.0 516.1Z" fill="rgb(165,165,165)"/>
<path d="M750.5 518.6C753.0 516.9 761.6 515.3 767.8 513.6C773.9 512.0 781.3 510.3 787.5 508.7C793.7 507.0 801.1 502.9 804.8 503.8C808.5 504.6 808.9 510.3 809.7 513.6C810.5 516.9 811.8 522.3 809.7 523.5C807.6 524.7 801.9 521.8 797.4 521.0C792.8 520.2 786.7 518.1 782.6 518.6C778.5 519.0 774.3 520.2 772.7 523.5C771.1 526.8 771.9 534.6 772.7 538.3C773.5 542.0 778.5 544.9 777.6 545.7C776.8 546.5 769.8 546.1 767.8 543.2C765.7 540.3 767.8 531.7 765.3 528.4C762.8 525.1 755.4 525.1 753.0 523.5C750.5 521.8 748.0 520.2 750.5 518.6Z" fill="rgb(212,212,212)"/>
<path d="M814.6 459.3C816.9 456.1 821.6 454.0 827.0 451.9C832.3 449.9 839.3 448.7 846.7 447.0C854.1 445.4 862.5 444.5 871.4 442.1C880.3 439.6 895.2 427.3 900.0 432.2C904.8 437.1 904.8 465.1 900.0 471.7C895.2 478.3 880.3 471.7 871.4 471.7C862.5 471.7 853.3 470.9 846.7 471.7C840.1 472.5 836.0 473.3 831.9 476.6C827.8 479.9 824.5 485.2 822.0 491.4C819.6 497.6 818.5 509.1 817.1 513.6C815.7 518.1 814.0 525.5 813.4 518.6C812.8 511.6 813.2 481.5 813.4 471.7C813.6 461.8 812.4 462.6 814.6 459.3Z" fill="rgb(169,169,169)"/>
<path d="M817.1 466.7C819.6 464.5 829.4 459.3 836.8 456.9C844.2 454.4 853.3 454.4 861.5 451.9C869.7 449.5 879.8 444.5 886.2 442.1C892.6 439.6 897.7 432.6 900.0 437.1C902.3 441.7 904.8 464.1 900.0 469.2C895.2 474.4 880.3 468.0 871.4 468.0C862.5 468.0 854.9 468.8 846.7 469.2C838.5 469.6 827.0 470.9 822.0 470.4C817.1 470.0 814.6 469.0 817.1 466.7Z" fill="rgb(212,212,212)"/>
<path d="M813.4 476.6C816.5 470.0 826.4 476.2 831.9 476.6C837.5 477.0 845.9 476.6 846.7 479.1C847.5 481.5 840.1 488.1 836.8 491.4C833.6 494.7 829.4 495.1 827.0 498.8C824.5 502.5 824.3 510.7 822.0 513.6C819.8 516.5 814.8 522.3 813.4 516.1C812.0 509.9 810.3 483.2 813.4 476.6Z" fill="rgb(212,212,212)"/>
<path d="M860.0 446.9C862.5 442.4 869.9 444.4 874.8 441.9C879.7 439.5 885.1 435.0 889.6 432.1C894.1 429.2 901.5 428.8 901.9 424.7C902.4 420.6 891.7 410.7 892.1 407.4C892.5 404.1 900.3 403.7 904.4 404.9C908.5 406.2 912.2 413.2 916.7 414.8C921.3 416.4 927.4 412.3 931.5 414.8C935.7 417.3 936.9 428.8 941.4 429.6C945.9 430.4 954.2 422.2 958.7 419.7C963.2 417.3 963.6 415.6 968.6 414.8C973.5 414.0 981.7 414.0 988.3 414.8C994.9 415.6 1001.4 419.3 1008.0 419.7C1014.6 420.1 1021.2 416.9 1027.8 417.3C1034.3 417.7 1042.6 421.0 1047.5 422.2C1052.4 423.4 1053.3 425.1 1057.4 424.7C1061.5 424.3 1066.4 419.7 1072.2 419.7C1077.9 419.7 1086.2 425.5 1091.9 424.7C1097.7 423.8 1102.6 415.6 1106.7 414.8C1110.8 414.0 1112.5 416.9 1116.6 419.7C1120.7 422.6 1126.4 430.4 1131.4 432.1C1136.3 433.7 1141.4 429.6 1146.2 429.6C1151.0 429.6 1157.7 423.0 1160.0 432.1C1162.3 441.1 1162.3 474.8 1160.0 483.9C1157.7 492.9 1151.0 486.8 1146.2 486.3C1141.4 485.9 1135.5 483.9 1131.4 481.4C1127.3 478.9 1124.8 473.6 1121.5 471.5C1118.2 469.5 1115.8 469.9 1111.6 469.1C1107.5 468.3 1101.8 468.7 1096.8 466.6C1091.9 464.6 1087.0 458.0 1082.0 456.7C1077.1 455.5 1072.2 458.4 1067.2 459.2C1062.3 460.0 1057.4 462.1 1052.4 461.7C1047.5 461.3 1042.6 457.2 1037.6 456.7C1032.7 456.3 1027.8 457.2 1022.8 459.2C1017.9 461.3 1013.0 468.7 1008.0 469.1C1003.1 469.5 998.6 464.1 993.2 461.7C987.9 459.2 981.7 455.5 976.0 454.3C970.2 453.0 964.0 453.9 958.7 454.3C953.3 454.7 948.0 455.1 943.9 456.7C939.8 458.4 938.1 462.1 934.0 464.1C929.9 466.2 925.0 468.3 919.2 469.1C913.5 469.9 906.1 469.1 899.5 469.1C892.9 469.1 886.3 469.1 879.7 469.1C873.2 469.1 863.3 472.8 860.0 469.1C856.7 465.4 857.5 451.4 860.0 446.9Z" fill="rgb(165,165,165)"/>
<path d="M860.0 459.2C862.5 456.3 869.9 452.6 874.8 449.3C879.7 446.1 883.8 442.4 889.6 439.5C895.4 436.6 902.8 433.7 909.3 432.1C915.9 430.4 924.1 428.0 929.1 429.6C934.0 431.3 934.8 439.9 938.9 441.9C943.1 444.0 949.6 443.6 953.8 441.9C957.9 440.3 959.5 435.0 963.6 432.1C967.7 429.2 974.3 424.3 978.4 424.7C982.5 425.1 983.4 433.7 988.3 434.5C993.2 435.4 1001.4 430.8 1008.0 429.6C1014.6 428.4 1021.2 426.7 1027.8 427.1C1034.3 427.5 1041.7 430.8 1047.5 432.1C1053.3 433.3 1057.4 435.0 1062.3 434.5C1067.2 434.1 1071.4 429.6 1077.1 429.6C1082.9 429.6 1091.1 435.0 1096.8 434.5C1102.6 434.1 1107.9 427.1 1111.6 427.1C1115.3 427.1 1117.4 428.8 1119.0 434.5C1120.7 440.3 1122.7 457.6 1121.5 461.7C1120.3 465.8 1115.8 461.3 1111.6 459.2C1107.5 457.2 1101.8 451.4 1096.8 449.3C1091.9 447.3 1087.0 446.5 1082.0 446.9C1077.1 447.3 1072.2 450.6 1067.2 451.8C1062.3 453.0 1057.4 455.1 1052.4 454.3C1047.5 453.5 1042.6 447.7 1037.6 446.9C1032.7 446.1 1027.8 446.9 1022.8 449.3C1017.9 451.8 1013.0 460.9 1008.0 461.7C1003.1 462.5 998.6 456.7 993.2 454.3C987.9 451.8 981.7 447.7 976.0 446.9C970.2 446.1 964.0 448.9 958.7 449.3C953.3 449.8 948.8 447.7 943.9 449.3C938.9 451.0 934.8 457.6 929.1 459.2C923.3 460.9 915.9 458.4 909.3 459.2C902.8 460.0 895.4 462.9 889.6 464.1C883.8 465.4 879.7 466.2 874.8 466.6C869.9 467.0 862.5 467.8 860.0 466.6C857.5 465.4 857.5 462.1 860.0 459.2Z" fill="rgb(216,216,216)"/>
<path d="M1119.0 437.0C1120.7 432.9 1126.9 439.9 1131.4 441.9C1135.9 444.0 1141.4 448.5 1146.2 449.3C1151.0 450.2 1157.7 441.9 1160.0 446.9C1162.3 451.8 1162.3 473.2 1160.0 478.9C1157.7 484.7 1151.0 481.8 1146.2 481.4C1141.4 481.0 1135.5 478.9 1131.4 476.5C1127.3 474.0 1123.6 473.2 1121.5 466.6C1119.5 460.0 1117.4 441.1 1119.0 437.0Z" fill="rgb(205,205,205)"/>
<path d="M1120.0 429.9C1122.5 422.9 1129.0 432.7 1134.8 432.3C1140.6 431.9 1148.0 427.8 1154.5 427.4C1161.1 427.0 1167.7 429.9 1174.3 429.9C1180.9 429.9 1187.4 427.4 1194.0 427.4C1200.6 427.4 1208.0 428.2 1213.8 429.9C1219.5 431.5 1223.6 434.8 1228.6 437.3C1233.5 439.7 1238.4 441.8 1243.4 444.7C1248.3 447.5 1254.9 448.8 1258.2 454.5C1261.4 460.3 1260.6 473.5 1263.1 479.2C1265.6 485.0 1270.5 485.4 1273.0 489.1C1275.4 492.8 1278.7 497.3 1277.9 501.4C1277.1 505.5 1271.3 510.1 1268.0 513.8C1264.7 517.5 1261.4 520.3 1258.2 523.6C1254.9 526.9 1251.6 531.4 1248.3 533.5C1245.0 535.5 1241.3 537.6 1238.4 536.0C1235.5 534.3 1230.2 528.1 1231.0 523.6C1231.8 519.1 1242.9 512.5 1243.4 508.8C1243.8 505.1 1236.8 501.4 1233.5 501.4C1230.2 501.4 1226.9 509.2 1223.6 508.8C1220.3 508.4 1217.5 501.4 1213.8 498.9C1210.1 496.5 1204.7 496.9 1201.4 494.0C1198.1 491.1 1196.9 485.8 1194.0 481.7C1191.1 477.6 1187.4 469.3 1184.1 469.3C1180.9 469.3 1178.4 479.2 1174.3 481.7C1170.2 484.1 1164.4 484.6 1159.5 484.1C1154.5 483.7 1149.6 479.6 1144.7 479.2C1139.7 478.8 1134.0 482.5 1129.9 481.7C1125.8 480.9 1121.6 482.9 1120.0 474.3C1118.4 465.6 1117.5 436.9 1120.0 429.9Z" fill="rgb(169,169,169)"/>
<path d="M1120.0 439.7C1122.5 436.4 1129.5 444.7 1134.8 444.7C1140.1 444.7 1146.3 438.9 1152.1 439.7C1157.8 440.6 1164.4 450.4 1169.3 449.6C1174.3 448.8 1176.7 437.3 1181.7 434.8C1186.6 432.3 1193.6 434.0 1198.9 434.8C1204.3 435.6 1211.3 435.6 1213.8 439.7C1216.2 443.8 1212.1 454.5 1213.8 459.5C1215.4 464.4 1219.9 469.3 1223.6 469.3C1227.3 469.3 1231.8 460.3 1236.0 459.5C1240.1 458.7 1244.6 461.9 1248.3 464.4C1252.0 466.9 1257.3 470.2 1258.2 474.3C1259.0 478.4 1255.7 485.8 1253.2 489.1C1250.8 492.4 1247.1 495.2 1243.4 494.0C1239.7 492.8 1235.1 482.9 1231.0 481.7C1226.9 480.4 1222.8 487.0 1218.7 486.6C1214.6 486.2 1210.1 482.1 1206.3 479.2C1202.6 476.3 1199.8 473.5 1196.5 469.3C1193.2 465.2 1189.9 455.4 1186.6 454.5C1183.3 453.7 1180.4 461.1 1176.7 464.4C1173.0 467.7 1168.9 473.5 1164.4 474.3C1159.9 475.1 1154.5 469.8 1149.6 469.3C1144.7 468.9 1139.7 472.6 1134.8 471.8C1129.9 471.0 1122.5 469.8 1120.0 464.4C1117.5 459.1 1117.5 443.0 1120.0 439.7Z" fill="rgb(212,212,212)"/>
<path d="M1221.2 447.1C1222.4 444.3 1231.0 443.0 1233.5 444.7C1236.0 446.3 1237.2 454.1 1236.0 457.0C1234.7 459.9 1228.6 463.6 1226.1 461.9C1223.6 460.3 1219.9 450.0 1221.2 447.1Z" fill="rgb(162,162,162)"/>
<path d="M1238.4 496.5C1240.9 492.8 1252.4 487.4 1258.2 486.6C1263.9 485.8 1269.7 488.7 1273.0 491.5C1276.3 494.4 1278.7 499.4 1277.9 503.9C1277.1 508.4 1272.1 514.6 1268.0 518.7C1263.9 522.8 1257.7 527.7 1253.2 528.6C1248.7 529.4 1242.5 526.9 1240.9 523.6C1239.2 520.3 1243.8 513.3 1243.4 508.8C1242.9 504.3 1236.0 500.2 1238.4 496.5Z" fill="rgb(198,198,198)"/>
<path d="M1213.8 558.2C1215.4 554.5 1222.8 548.3 1228.6 545.8C1234.3 543.4 1241.7 545.0 1248.3 543.4C1254.9 541.7 1262.3 539.2 1268.0 536.0C1273.8 532.7 1277.9 528.1 1282.8 523.6C1287.8 519.1 1293.5 513.8 1297.6 508.8C1301.7 503.9 1304.2 496.9 1307.5 494.0C1310.8 491.1 1316.5 489.5 1317.4 491.5C1318.2 493.6 1314.9 501.0 1312.4 506.3C1310.0 511.7 1306.7 518.7 1302.6 523.6C1298.5 528.6 1292.7 531.8 1287.8 536.0C1282.8 540.1 1278.7 545.4 1273.0 548.3C1267.2 551.2 1259.8 551.2 1253.2 553.2C1246.6 555.3 1239.2 558.2 1233.5 560.6C1227.7 563.1 1222.0 568.4 1218.7 568.0C1215.4 567.6 1212.1 561.9 1213.8 558.2Z" fill="rgb(155,155,155)"/>
<path d="M1297.6 459.5C1300.1 456.2 1310.0 455.8 1317.4 454.5C1324.8 453.3 1333.8 451.7 1342.0 452.1C1350.3 452.5 1360.1 454.5 1366.7 457.0C1373.3 459.5 1380.7 464.0 1381.5 466.9C1382.3 469.8 1378.2 473.9 1371.6 474.3C1365.1 474.7 1351.1 469.8 1342.0 469.3C1333.0 468.9 1323.9 471.0 1317.4 471.8C1310.8 472.6 1305.9 476.3 1302.6 474.3C1299.3 472.2 1295.2 462.8 1297.6 459.5Z" fill="rgb(176,176,176)"/>
<path d="M1268.0 457.0C1270.5 454.1 1279.5 456.6 1282.8 459.5C1286.1 462.4 1290.2 471.4 1287.8 474.3C1285.3 477.2 1271.3 479.6 1268.0 476.7C1264.7 473.9 1265.6 459.9 1268.0 457.0Z" fill="rgb(198,198,198)"/>
<path d="M1381.5 447.1C1384.0 443.8 1393.0 441.0 1396.3 442.2C1399.6 443.4 1402.5 450.8 1401.3 454.5C1400.0 458.2 1392.2 463.2 1388.9 464.4C1385.6 465.6 1382.7 464.8 1381.5 461.9C1380.3 459.1 1379.0 450.4 1381.5 447.1Z" fill="rgb(162,162,162)"/>
<path d="M1191.5 592.7C1194.0 589.8 1203.5 585.3 1208.8 582.8C1214.2 580.4 1219.1 580.4 1223.6 577.9C1228.1 575.4 1233.5 568.8 1236.0 568.0C1238.4 567.2 1240.1 569.7 1238.4 573.0C1236.8 576.3 1230.2 583.7 1226.1 587.8C1222.0 591.9 1219.1 595.6 1213.8 597.6C1208.4 599.7 1197.7 600.9 1194.0 600.1C1190.3 599.3 1189.1 595.6 1191.5 592.7Z" fill="rgb(145,145,145)"/>
<path d="M1192.1 592.3C1194.5 589.9 1202.4 586.6 1209.3 584.9C1216.3 583.3 1230.7 581.2 1234.0 582.5C1237.3 583.7 1233.2 589.9 1229.1 592.3C1225.0 594.8 1215.1 596.0 1209.3 597.3C1203.6 598.5 1197.4 600.6 1194.5 599.7C1191.7 598.9 1189.6 594.8 1192.1 592.3Z" fill="rgb(141,141,141)"/>
<path d="M1404.6 439.2C1405.9 437.4 1410.4 434.9 1415.3 433.8C1420.2 432.7 1428.7 432.5 1434.1 432.5C1439.5 432.5 1445.3 432.9 1447.6 433.8C1449.8 434.7 1449.8 436.9 1447.6 437.8C1445.3 438.7 1438.6 438.8 1434.1 439.2C1429.6 439.6 1425.2 439.6 1420.7 440.5C1416.2 441.4 1409.9 444.8 1407.2 444.6C1404.5 444.4 1403.2 441.0 1404.6 439.2Z" fill="rgb(198,198,198)"/>
<path d="M1407.2 447.2C1409.9 445.4 1414.9 444.1 1420.7 443.2C1426.5 442.3 1439.1 441.4 1442.2 441.9C1445.3 442.3 1443.1 444.6 1439.5 445.9C1435.9 447.2 1426.5 448.5 1420.7 449.9C1414.9 451.2 1406.8 454.4 1404.6 454.0C1402.3 453.6 1404.5 449.0 1407.2 447.2Z" fill="rgb(205,205,205)"/>
<path d="M1426.0 420.3C1427.3 418.1 1432.9 418.1 1434.0 420.3C1435.1 422.6 1434.1 431.6 1432.8 433.8C1431.5 436.1 1427.1 436.1 1426.0 433.8C1424.9 431.6 1424.7 422.6 1426.0 420.3Z" fill="rgb(162,162,162)"/>
</g>
<g filter="url(#fgw)"><rect x="280" y="180" width="1340" height="712" fill="#000"/>
<path d="M431.0 284.1C431.8 283.3 434.7 288.7 438.4 291.5C442.1 294.4 449.9 298.9 453.2 301.4C456.5 303.9 459.0 305.5 458.2 306.3C457.3 307.2 452.4 308.0 448.3 306.3C444.2 304.7 436.4 300.2 433.5 296.5C430.6 292.8 430.2 285.0 431.0 284.1Z" fill="rgb(170,170,170)"/>
<path d="M423.6 316.2C428.6 315.0 448.3 312.9 453.2 313.8C458.2 314.6 458.2 319.9 453.2 321.2C448.3 322.4 428.6 322.0 423.6 321.2C418.7 320.3 418.7 317.5 423.6 316.2Z" fill="rgb(113,113,113)"/>
<path d="M497.6 373.0C499.7 373.0 505.9 379.5 512.4 382.8C519.0 386.1 533.0 390.2 537.1 392.7C541.2 395.2 540.4 397.2 537.1 397.6C533.8 398.0 523.5 397.6 517.4 395.2C511.2 392.7 503.4 386.5 500.1 382.8C496.8 379.1 495.6 373.0 497.6 373.0Z" fill="rgb(132,132,132)"/>
<path d="M344.7 424.8C348.8 418.6 363.6 420.7 369.3 422.3C375.1 424.0 379.2 430.1 379.2 434.7C379.2 439.2 372.6 443.3 369.3 449.5C366.1 455.6 359.5 464.7 359.5 471.7C359.5 478.7 369.3 487.7 369.3 491.4C369.3 495.1 362.4 495.9 359.5 493.9C356.6 491.8 354.5 484.8 352.1 479.1C349.6 473.3 345.9 468.4 344.7 459.3C343.4 450.3 340.6 431.0 344.7 424.8Z" fill="rgb(94,94,94)"/>
<path d="M448.3 439.6C450.3 435.5 459.0 433.4 460.6 434.7C462.3 435.9 460.2 442.9 458.2 447.0C456.1 451.1 449.9 460.6 448.3 459.3C446.6 458.1 446.2 443.7 448.3 439.6Z" fill="rgb(151,151,151)"/>
<path d="M448.3 474.1C452.0 471.7 464.7 469.2 468.0 471.7C471.3 474.1 470.5 485.2 468.0 488.9C465.6 492.6 456.9 494.3 453.2 493.9C449.5 493.5 446.6 489.8 445.8 486.5C445.0 483.2 444.6 476.6 448.3 474.1Z" fill="rgb(179,179,179)"/>
<path d="M517.4 513.6C518.6 509.5 525.2 503.8 527.2 503.8C529.3 503.8 530.9 509.5 529.7 513.6C528.5 517.7 521.9 528.4 519.8 528.4C517.8 528.4 516.1 517.7 517.4 513.6Z" fill="rgb(151,151,151)"/>
<path d="M482.8 518.6C484.5 516.5 493.5 517.3 497.6 518.6C501.7 519.8 506.7 523.1 507.5 526.0C508.3 528.8 505.9 535.0 502.6 535.8C499.3 536.6 491.1 533.8 487.8 530.9C484.5 528.0 481.2 520.6 482.8 518.6Z" fill="rgb(132,132,132)"/>
<path d="M537.1 521.0C539.2 519.4 549.4 520.6 551.9 523.5C554.4 526.4 554.0 536.6 551.9 538.3C549.9 539.9 542.0 536.2 539.6 533.4C537.1 530.5 535.1 522.7 537.1 521.0Z" fill="rgb(132,132,132)"/>
<path d="M563.0 437.1C566.3 431.4 575.1 432.2 581.5 432.2C587.9 432.2 597.1 433.4 601.3 437.1C605.4 440.8 606.6 449.1 606.2 454.4C605.8 459.8 601.7 464.3 598.8 469.2C595.9 474.1 591.8 479.1 588.9 484.0C586.0 488.9 584.0 493.9 581.5 498.8C579.0 503.8 576.6 510.3 574.1 513.6C571.6 516.9 568.6 521.4 566.7 518.6C564.9 515.7 563.8 505.0 563.0 496.3C562.2 487.7 561.8 476.6 561.8 466.7C561.8 456.9 559.7 442.9 563.0 437.1Z" fill="rgb(170,170,170)"/>
<path d="M571.6 590.1C573.3 586.0 582.3 580.6 586.4 580.2C590.6 579.8 595.5 583.9 596.3 587.6C597.1 591.3 594.7 599.6 591.4 602.4C588.1 605.3 579.9 607.0 576.6 604.9C573.3 602.8 570.0 594.2 571.6 590.1Z" fill="rgb(132,132,132)"/>
<path d="M624.7 491.4C628.8 487.3 637.8 490.2 639.5 493.9C641.1 497.6 632.9 507.9 634.5 513.6C636.2 519.4 648.5 524.3 649.3 528.4C650.2 532.5 643.6 537.5 639.5 538.3C635.4 539.1 628.8 536.6 624.7 533.4C620.6 530.1 614.8 525.5 614.8 518.6C614.8 511.6 620.6 495.5 624.7 491.4Z" fill="rgb(94,94,94)"/>
<path d="M624.7 558.0C633.3 555.6 655.9 553.9 661.7 555.6C667.4 557.2 661.3 563.4 659.2 567.9C657.2 572.4 652.6 577.8 649.3 582.7C646.1 587.6 637.8 593.4 639.5 597.5C641.1 601.6 657.6 604.5 659.2 607.4C660.9 610.2 654.3 615.6 649.3 614.8C644.4 613.9 635.4 607.0 629.6 602.4C623.8 597.9 618.1 593.0 614.8 587.6C611.5 582.3 608.2 575.3 609.9 570.4C611.5 565.4 616.0 560.5 624.7 558.0Z" fill="rgb(104,104,104)"/>
<path d="M666.6 555.6C671.1 550.8 690.1 552.3 693.8 554.3C697.5 556.4 692.1 563.6 688.8 567.9C685.5 572.2 677.7 577.8 674.0 580.2C670.3 582.7 667.8 586.8 666.6 582.7C665.4 578.6 662.1 560.3 666.6 555.6Z" fill="rgb(151,151,151)"/>
<path d="M693.8 592.6C694.6 590.1 697.9 594.2 703.6 592.6C709.4 590.9 723.4 582.7 728.3 582.7C733.2 582.7 731.6 588.5 733.2 592.6C734.9 596.7 736.1 603.7 738.2 607.4C740.2 611.1 745.6 611.0 745.6 614.8C745.6 618.6 741.0 627.5 738.2 630.1C735.3 632.6 729.9 633.9 728.3 630.1C726.6 626.3 730.3 612.8 728.3 607.4C726.2 601.9 720.9 597.5 716.0 597.5C711.0 597.5 702.4 608.2 698.7 607.4C695.0 606.5 692.9 595.0 693.8 592.6Z" fill="rgb(94,94,94)"/>
<path d="M772.7 558.0C774.8 553.5 785.4 553.1 787.5 555.6C789.6 558.0 787.1 568.3 785.0 572.8C783.0 577.4 777.2 585.2 775.2 582.7C773.1 580.2 770.6 562.6 772.7 558.0Z" fill="rgb(113,113,113)"/>
<path d="M570.2 591.8C571.9 588.5 578.0 583.2 582.6 581.9C587.1 580.7 595.3 581.9 597.4 584.4C599.4 586.9 597.4 593.5 594.9 596.7C592.4 600.0 586.3 603.3 582.6 604.1C578.9 605.0 574.8 603.7 572.7 601.7C570.6 599.6 568.6 595.1 570.2 591.8Z" fill="rgb(151,151,151)"/>
<path d="M617.1 559.7C618.8 557.3 630.3 556.9 636.8 557.3C643.4 557.7 652.5 559.3 656.6 562.2C660.7 565.1 661.5 570.0 661.5 574.5C661.5 579.1 656.6 583.6 656.6 589.3C656.6 595.1 661.5 603.7 661.5 609.1C661.5 614.4 659.9 621.0 656.6 621.4C653.3 621.8 645.9 615.2 641.8 611.5C637.7 607.8 632.7 603.7 631.9 599.2C631.1 594.7 637.7 588.9 636.8 584.4C636.0 579.9 630.3 576.2 627.0 572.1C623.7 568.0 615.5 562.2 617.1 559.7Z" fill="rgb(147,147,147)"/>
<path d="M617.1 623.9C618.8 623.1 630.3 630.5 636.8 633.8C643.4 637.0 652.5 639.9 656.6 643.6C660.7 647.3 663.2 654.7 661.5 656.0C659.9 657.2 652.5 653.9 646.7 651.0C641.0 648.1 631.9 643.2 627.0 638.7C622.0 634.2 615.5 624.7 617.1 623.9Z" fill="rgb(113,113,113)"/>
<path d="M668.9 554.8C673.7 553.2 694.8 551.9 700.0 554.8C705.2 557.7 702.7 569.6 700.0 572.1C697.3 574.5 688.5 570.8 683.7 569.6C678.9 568.4 673.9 567.1 671.4 564.7C668.9 562.2 664.1 556.4 668.9 554.8Z" fill="rgb(113,113,113)"/>
<path d="M668.9 656.0C673.7 654.3 694.8 656.4 700.0 658.4C705.2 660.5 704.8 666.6 700.0 668.3C695.2 669.9 676.6 670.3 671.4 668.3C666.2 666.2 664.1 657.6 668.9 656.0Z" fill="rgb(113,113,113)"/>
<path d="M664.9 560.0C667.0 556.7 681.8 557.5 684.7 560.0C687.5 562.5 684.3 571.5 682.2 574.8C680.1 578.1 675.2 582.2 672.3 579.7C669.5 577.3 662.9 563.3 664.9 560.0Z" fill="rgb(151,151,151)"/>
<path d="M697.0 584.7C700.3 580.1 713.0 580.6 716.7 582.2C720.4 583.8 720.4 590.8 719.2 594.5C718.0 598.2 712.2 600.3 709.3 604.4C706.5 608.5 704.0 618.4 701.9 619.2C699.9 620.0 697.8 615.1 697.0 609.3C696.2 603.6 693.7 589.2 697.0 584.7Z" fill="rgb(123,123,123)"/>
<path d="M738.9 592.1C740.6 585.9 745.1 586.7 746.3 592.1C747.6 597.4 747.2 615.9 746.3 624.1C745.5 632.4 743.1 640.6 741.4 641.4C739.8 642.2 736.9 637.3 736.5 629.1C736.1 620.9 737.3 598.2 738.9 592.1Z" fill="rgb(132,132,132)"/>
<path d="M758.7 584.7C762.4 581.0 783.4 570.7 788.3 569.9C793.2 569.0 792.0 576.0 788.3 579.7C784.6 583.4 771.0 591.3 766.1 592.1C761.2 592.9 755.0 588.4 758.7 584.7Z" fill="rgb(104,104,104)"/>
<path d="M716.7 621.7C718.0 619.6 726.2 622.1 729.1 624.1C732.0 626.2 735.2 632.0 734.0 634.0C732.8 636.1 724.6 638.5 721.7 636.5C718.8 634.4 715.5 623.7 716.7 621.7Z" fill="rgb(104,104,104)"/>
<path d="M391.5 447.0C392.0 442.9 400.2 445.0 403.9 449.5C407.6 454.0 410.5 465.9 413.8 474.1C417.0 482.4 419.9 491.4 423.6 498.8C427.3 506.2 431.8 512.0 436.0 518.6C440.1 525.1 444.6 531.7 448.3 538.3C452.0 544.9 454.9 551.4 458.2 558.0C461.4 564.6 468.0 574.1 468.0 577.8C468.0 581.5 461.9 583.5 458.2 580.2C454.5 576.9 449.9 565.0 445.8 558.0C441.7 551.0 437.6 544.9 433.5 538.3C429.4 531.7 424.9 525.5 421.2 518.6C417.5 511.6 414.6 503.8 411.3 496.3C408.0 488.9 404.7 482.4 401.4 474.1C398.1 465.9 391.1 451.1 391.5 447.0Z" fill="rgb(113,113,113)"/>
<path d="M344.7 459.3C346.7 457.3 355.4 457.7 359.5 461.8C363.6 465.9 366.5 477.0 369.3 484.0C372.2 491.0 373.9 496.8 376.7 503.8C379.6 510.7 383.7 518.6 386.6 526.0C389.5 533.4 394.0 544.5 394.0 548.2C394.0 551.9 389.5 551.4 386.6 548.2C383.7 544.9 380.0 535.0 376.7 528.4C373.5 521.8 370.2 515.3 366.9 508.7C363.6 502.1 360.3 494.7 357.0 488.9C353.7 483.2 349.2 479.1 347.1 474.1C345.1 469.2 342.6 461.4 344.7 459.3Z" fill="rgb(113,113,113)"/>
<path d="M557.9 579.5C560.0 575.8 569.4 572.9 572.7 577.0C576.0 581.1 573.5 598.0 577.6 604.1C581.7 610.3 594.9 610.7 597.4 614.0C599.8 617.3 596.5 623.9 592.4 623.9C588.3 623.9 578.0 618.1 572.7 614.0C567.4 609.9 562.8 605.0 560.4 599.2C557.9 593.5 555.8 583.2 557.9 579.5Z" fill="rgb(104,104,104)"/>
<path d="M697.4 586.4C700.8 582.7 713.6 582.4 717.6 584.4C721.7 586.4 722.3 594.2 721.7 598.5C721.0 602.9 717.0 606.9 713.6 610.6C710.2 614.4 704.2 621.4 701.5 620.7C698.8 620.1 698.1 612.3 697.4 606.6C696.8 600.9 694.1 590.1 697.4 586.4Z" fill="rgb(113,113,113)"/>
<path d="M737.8 596.5C740.2 590.8 746.6 590.5 747.9 594.5C749.3 598.5 747.2 613.0 745.9 620.7C744.5 628.5 741.9 639.6 739.8 640.9C737.8 642.3 734.1 636.2 733.8 628.8C733.4 621.4 735.5 602.2 737.8 596.5Z" fill="rgb(117,117,117)"/>
</g>
<g filter="url(#fms)"><rect x="280" y="180" width="1340" height="712" fill="#000"/>
<path d="M1344.2 492.2C1346.3 490.0 1352.9 488.5 1356.6 487.2C1360.3 486.0 1364.8 482.6 1366.4 484.8C1368.1 486.9 1370.2 497.5 1366.4 500.1C1362.7 502.6 1347.9 501.4 1344.2 500.1C1340.5 498.8 1342.2 494.3 1344.2 492.2Z" fill="rgb(219,219,219)"/>
<path d="M814.6 560.5C813.4 558.8 818.3 556.0 822.0 553.1C825.7 550.2 831.9 546.5 836.8 543.2C841.8 539.9 847.5 537.5 851.6 533.4C855.8 529.2 857.4 522.7 861.5 518.6C865.6 514.4 871.8 512.4 876.3 508.7C880.8 505.0 884.7 499.6 888.7 496.3C892.6 493.1 898.1 480.3 900.0 488.9C901.9 497.6 904.8 538.1 900.0 548.2C895.2 558.2 880.3 548.2 871.4 549.4C862.5 550.6 853.7 553.3 846.7 555.6C839.7 557.8 834.8 562.1 829.4 563.0C824.1 563.8 815.9 562.1 814.6 560.5Z" fill="rgb(198,198,198)"/>
<path d="M856.6 533.4C857.4 529.2 869.1 522.7 876.3 518.6C883.6 514.4 896.1 504.6 900.0 508.7C903.9 512.8 904.8 537.5 900.0 543.2C895.2 549.0 878.6 544.9 871.4 543.2C864.1 541.6 855.8 537.5 856.6 533.4Z" fill="rgb(219,219,219)"/>
<path d="M792.4 587.6C794.5 578.9 800.7 581.1 804.8 577.8C808.9 574.5 812.6 570.4 817.1 567.9C821.6 565.4 827.0 564.6 831.9 563.0C836.8 561.3 843.0 557.2 846.7 558.0C850.4 558.8 854.9 564.6 854.1 567.9C853.3 571.2 845.5 573.7 841.8 577.8C838.1 581.9 835.2 588.5 831.9 592.6C828.6 596.7 824.5 598.3 822.0 602.4C819.6 606.5 818.8 612.6 817.1 617.2C815.5 621.8 816.3 627.9 812.2 630.1C808.1 632.2 795.7 637.1 792.4 630.1C789.1 623.0 790.4 596.4 792.4 587.6Z" fill="rgb(212,212,212)"/>
<path d="M860.0 520.9C862.1 514.3 868.2 512.3 872.3 508.6C876.4 504.9 880.1 501.6 884.7 498.7C889.2 495.8 894.5 492.9 899.5 491.3C904.4 489.6 908.5 488.4 914.3 488.8C920.0 489.2 928.3 493.8 934.0 493.8C939.8 493.8 943.9 488.8 948.8 488.8C953.8 488.8 958.7 492.1 963.6 493.8C968.6 495.4 973.5 497.0 978.4 498.7C983.4 500.3 988.3 504.0 993.2 503.6C998.2 503.2 1003.1 496.2 1008.0 496.2C1013.0 496.2 1018.7 501.6 1022.8 503.6C1026.9 505.7 1028.6 509.0 1032.7 508.6C1036.8 508.1 1043.4 502.8 1047.5 501.2C1051.6 499.5 1053.3 498.7 1057.4 498.7C1061.5 498.7 1066.4 500.3 1072.2 501.2C1077.9 502.0 1086.2 502.8 1091.9 503.6C1097.7 504.4 1101.8 505.3 1106.7 506.1C1111.6 506.9 1117.4 508.1 1121.5 508.6C1125.6 509.0 1128.1 506.9 1131.4 508.6C1134.7 510.2 1136.5 518.0 1141.3 518.4C1146.0 518.8 1156.9 504.4 1160.0 511.0C1163.1 517.6 1162.3 550.1 1160.0 557.9C1157.7 565.7 1151.0 558.7 1146.2 557.9C1141.4 557.1 1136.3 553.0 1131.4 553.0C1126.4 553.0 1120.7 558.7 1116.6 557.9C1112.5 557.1 1110.0 549.7 1106.7 548.0C1103.4 546.4 1101.0 548.4 1096.8 548.0C1092.7 547.6 1086.2 545.6 1082.0 545.6C1077.9 545.6 1076.3 546.8 1072.2 548.0C1068.1 549.3 1062.3 550.9 1057.4 553.0C1052.4 555.0 1048.3 559.1 1042.6 560.4C1036.8 561.6 1028.6 560.8 1022.8 560.4C1017.1 560.0 1013.0 557.9 1008.0 557.9C1003.1 557.9 999.8 560.4 993.2 560.4C986.6 560.4 973.1 560.0 968.6 557.9C964.0 555.8 970.2 549.7 966.1 548.0C962.0 546.4 950.9 548.0 943.9 548.0C936.9 548.0 929.9 549.3 924.1 548.0C918.4 546.8 914.3 541.4 909.3 540.6C904.4 539.8 900.3 541.9 894.5 543.1C888.8 544.3 880.6 547.2 874.8 548.0C869.0 548.8 862.5 552.6 860.0 548.0C857.5 543.5 857.9 527.5 860.0 520.9Z" fill="rgb(198,198,198)"/>
<path d="M860.0 528.3C863.3 524.6 873.2 521.7 879.7 518.4C886.3 515.1 892.9 509.0 899.5 508.6C906.1 508.1 912.6 515.5 919.2 516.0C925.8 516.4 932.4 512.3 938.9 511.0C945.5 509.8 952.1 507.7 958.7 508.6C965.3 509.4 971.8 515.5 978.4 516.0C985.0 516.4 991.6 511.0 998.2 511.0C1004.7 511.0 1013.8 512.3 1017.9 516.0C1022.0 519.7 1020.4 527.9 1022.8 533.2C1025.3 538.6 1033.5 544.7 1032.7 548.0C1031.9 551.3 1023.7 553.0 1017.9 553.0C1012.1 553.0 1004.7 548.4 998.2 548.0C991.6 547.6 983.4 552.1 978.4 550.5C973.5 548.8 973.5 541.0 968.6 538.2C963.6 535.3 955.4 533.2 948.8 533.2C942.2 533.2 935.7 538.6 929.1 538.2C922.5 537.7 915.9 531.6 909.3 530.8C902.8 529.9 896.2 531.6 889.6 533.2C883.0 534.9 874.8 539.4 869.9 540.6C864.9 541.9 861.6 542.7 860.0 540.6C858.4 538.6 856.7 532.0 860.0 528.3Z" fill="rgb(219,219,219)"/>
<path d="M1057.4 511.0C1059.0 508.1 1070.5 508.6 1077.1 508.6C1083.7 508.6 1091.1 509.8 1096.8 511.0C1102.6 512.3 1110.8 512.3 1111.6 516.0C1112.5 519.7 1105.1 528.7 1101.8 533.2C1098.5 537.7 1096.0 542.3 1091.9 543.1C1087.8 543.9 1081.2 541.0 1077.1 538.2C1073.0 535.3 1070.5 530.3 1067.2 525.8C1063.9 521.3 1055.7 513.9 1057.4 511.0Z" fill="rgb(219,219,219)"/>
<path d="M1111.6 538.2C1112.5 535.3 1126.4 531.6 1131.4 533.2C1136.3 534.9 1142.1 545.1 1141.3 548.0C1140.4 550.9 1131.4 552.1 1126.4 550.5C1121.5 548.8 1110.8 541.0 1111.6 538.2Z" fill="rgb(212,212,212)"/>
<path d="M1025.3 516.0C1028.2 512.7 1038.5 509.8 1042.6 511.0C1046.7 512.3 1049.6 518.8 1050.0 523.4C1050.4 527.9 1047.9 534.9 1045.0 538.2C1042.2 541.4 1036.0 544.3 1032.7 543.1C1029.4 541.9 1026.5 535.3 1025.3 530.8C1024.1 526.2 1022.4 519.2 1025.3 516.0Z" fill="rgb(0,0,0)"/>
<path d="M916.7 503.6C918.4 501.6 930.3 498.3 934.0 498.7C937.7 499.1 940.6 504.0 938.9 506.1C937.3 508.1 927.8 511.4 924.1 511.0C920.4 510.6 915.1 505.7 916.7 503.6Z" fill="rgb(0,0,0)"/>
<path d="M978.4 572.7C980.5 570.2 988.3 571.1 993.2 570.2C998.2 569.4 1002.3 568.2 1008.0 567.8C1013.8 567.4 1024.1 566.1 1027.8 567.8C1031.5 569.4 1031.9 574.3 1030.2 577.6C1028.6 580.9 1023.2 585.9 1017.9 587.5C1012.6 589.1 1004.3 587.9 998.2 587.5C992.0 587.1 984.2 587.5 980.9 585.0C977.6 582.6 976.4 575.2 978.4 572.7Z" fill="rgb(205,205,205)"/>
<path d="M1143.7 567.8C1146.8 564.9 1157.3 560.4 1160.0 565.3C1162.7 570.2 1161.9 592.4 1160.0 597.4C1158.1 602.3 1151.8 597.4 1148.7 594.9C1145.5 592.4 1142.1 587.1 1141.3 582.6C1140.4 578.0 1140.6 570.6 1143.7 567.8Z" fill="rgb(198,198,198)"/>
<path d="M1120.0 506.3C1121.6 497.5 1127.4 503.5 1129.9 506.3C1132.3 509.2 1131.1 521.6 1134.8 523.6C1138.5 525.7 1147.5 519.9 1152.1 518.7C1156.6 517.5 1159.1 515.4 1161.9 516.2C1164.8 517.0 1166.1 522.0 1169.3 523.6C1172.6 525.3 1180.0 524.0 1181.7 526.1C1183.3 528.1 1181.3 533.1 1179.2 536.0C1177.2 538.8 1171.4 539.7 1169.3 543.4C1167.3 547.1 1169.8 555.3 1166.9 558.2C1164.0 561.0 1157.4 560.6 1152.1 560.6C1146.7 560.6 1140.1 558.4 1134.8 558.2C1129.5 558.0 1122.5 568.0 1120.0 559.4C1117.5 550.8 1118.4 515.2 1120.0 506.3Z" fill="rgb(198,198,198)"/>
<path d="M1120.0 528.6C1122.5 524.4 1129.9 529.8 1134.8 531.0C1139.7 532.3 1144.7 533.9 1149.6 536.0C1154.5 538.0 1162.4 540.1 1164.4 543.4C1166.5 546.6 1166.9 553.6 1161.9 555.7C1157.0 557.7 1141.8 555.7 1134.8 555.7C1127.8 555.7 1122.5 560.2 1120.0 555.7C1117.5 551.2 1117.5 532.7 1120.0 528.6Z" fill="rgb(219,219,219)"/>
<path d="M1184.1 536.0C1186.6 533.1 1197.3 531.8 1203.9 531.0C1210.5 530.2 1219.5 529.8 1223.6 531.0C1227.7 532.3 1231.8 536.0 1228.6 538.4C1225.3 540.9 1210.5 544.2 1203.9 545.8C1197.3 547.5 1192.4 549.9 1189.1 548.3C1185.8 546.6 1181.7 538.8 1184.1 536.0Z" fill="rgb(148,148,148)"/>
<path d="M1142.2 565.6C1145.1 562.5 1155.0 563.9 1159.5 564.3C1164.0 564.7 1168.1 564.9 1169.3 568.0C1170.6 571.1 1168.5 578.7 1166.9 582.8C1165.2 586.9 1163.2 590.6 1159.5 592.7C1155.8 594.8 1147.5 596.8 1144.7 595.2C1141.8 593.5 1142.6 587.8 1142.2 582.8C1141.8 577.9 1139.3 568.6 1142.2 565.6Z" fill="rgb(205,205,205)"/>
<path d="M1186.6 568.0C1191.5 565.1 1198.5 566.0 1203.9 565.6C1209.2 565.1 1213.3 565.6 1218.7 565.6C1224.0 565.6 1234.3 564.3 1236.0 565.6C1237.6 566.8 1232.3 570.5 1228.6 573.0C1224.9 575.4 1218.3 579.5 1213.8 580.4C1209.2 581.2 1205.1 577.5 1201.4 577.9C1197.7 578.3 1194.8 580.4 1191.5 582.8C1188.3 585.3 1185.4 590.2 1181.7 592.7C1178.0 595.2 1170.6 599.3 1169.3 597.6C1168.1 596.0 1171.4 587.8 1174.3 582.8C1177.2 577.9 1181.7 570.9 1186.6 568.0Z" fill="rgb(184,184,184)"/>
<path d="M1181.7 607.5C1184.6 605.9 1198.1 606.3 1201.4 607.5C1204.7 608.7 1204.3 613.3 1201.4 614.9C1198.5 616.5 1187.4 618.6 1184.1 617.4C1180.9 616.1 1178.8 609.1 1181.7 607.5Z" fill="rgb(162,162,162)"/>
<path d="M1277.9 553.2C1277.9 550.3 1279.5 547.1 1282.8 543.4C1286.1 539.7 1293.5 535.1 1297.6 531.0C1301.7 526.9 1303.4 523.2 1307.5 518.7C1311.6 514.2 1318.2 507.6 1322.3 503.9C1326.4 500.2 1329.3 496.9 1332.2 496.5C1335.1 496.1 1339.2 498.5 1339.6 501.4C1340.0 504.3 1336.3 509.2 1334.6 513.8C1333.0 518.3 1330.5 522.8 1329.7 528.6C1328.9 534.3 1332.2 543.8 1329.7 548.3C1327.2 552.8 1320.2 554.0 1314.9 555.7C1309.6 557.3 1303.0 557.3 1297.6 558.2C1292.3 559.0 1286.1 561.4 1282.8 560.6C1279.5 559.8 1277.9 556.1 1277.9 553.2Z" fill="rgb(202,202,202)"/>
<path d="M1292.7 543.4C1294.3 539.7 1302.6 534.3 1307.5 531.0C1312.4 527.7 1319.0 522.4 1322.3 523.6C1325.6 524.9 1328.1 533.9 1327.2 538.4C1326.4 542.9 1322.3 548.3 1317.4 550.8C1312.4 553.2 1301.7 554.5 1297.6 553.2C1293.5 552.0 1291.1 547.1 1292.7 543.4Z" fill="rgb(219,219,219)"/>
<path d="M1231.0 587.8C1230.6 585.3 1237.2 581.2 1240.9 577.9C1244.6 574.6 1247.1 570.1 1253.2 568.0C1259.4 566.0 1270.5 566.0 1277.9 565.6C1285.3 565.1 1292.7 565.1 1297.6 565.6C1302.6 566.0 1308.3 566.8 1307.5 568.0C1306.7 569.3 1298.5 571.3 1292.7 573.0C1286.9 574.6 1278.7 575.4 1273.0 577.9C1267.2 580.4 1263.1 585.3 1258.2 587.8C1253.2 590.2 1247.9 592.7 1243.4 592.7C1238.8 592.7 1231.4 590.2 1231.0 587.8Z" fill="rgb(205,205,205)"/>
<path d="M1344.5 491.5C1347.0 487.8 1353.1 486.2 1356.8 486.6C1360.5 487.0 1363.0 491.5 1366.7 494.0C1370.4 496.5 1376.6 498.1 1379.0 501.4C1381.5 504.7 1382.7 510.1 1381.5 513.8C1380.3 517.5 1374.9 522.8 1371.6 523.6C1368.4 524.4 1365.1 519.5 1361.8 518.7C1358.5 517.9 1355.2 520.3 1351.9 518.7C1348.6 517.0 1343.3 513.3 1342.0 508.8C1340.8 504.3 1342.0 495.2 1344.5 491.5Z" fill="rgb(212,212,212)"/>
<path d="M768.6 611.8C770.6 608.1 780.1 608.9 783.4 609.3C786.6 609.8 787.5 608.5 788.3 614.3C789.1 620.0 789.9 638.9 788.3 643.9C786.6 648.8 781.3 645.9 778.4 643.9C775.5 641.8 772.7 636.9 771.0 631.5C769.4 626.2 766.5 615.5 768.6 611.8Z" fill="rgb(219,219,219)"/>
<path d="M793.2 584.7C795.7 574.4 803.9 578.1 808.0 574.8C812.1 571.5 810.5 566.6 817.9 564.9C825.3 563.3 846.7 563.3 852.4 564.9C858.2 566.6 854.1 573.6 852.4 574.8C850.8 576.0 845.9 570.7 842.6 572.3C839.3 574.0 834.3 581.0 832.7 584.7C831.1 588.4 834.8 592.5 832.7 594.5C830.6 596.6 822.8 593.7 820.4 597.0C817.9 600.3 819.1 609.8 817.9 614.3C816.7 618.8 815.4 621.3 813.0 624.1C810.5 627.0 806.4 629.5 803.1 631.5C799.8 633.6 794.9 644.3 793.2 636.5C791.6 628.7 790.8 595.0 793.2 584.7Z" fill="rgb(212,212,212)"/>
<path d="M794.5 594.5C796.7 587.5 804.5 587.1 808.0 589.6C811.5 592.1 815.8 603.6 815.4 609.3C815.0 615.1 809.1 620.4 805.6 624.1C802.1 627.8 796.3 636.5 794.5 631.5C792.6 626.6 792.2 601.5 794.5 594.5Z" fill="rgb(219,219,219)"/>
<path d="M977.0 574.8C978.7 572.7 984.8 570.3 989.3 569.9C993.9 569.5 998.8 572.3 1004.1 572.3C1009.5 572.3 1016.1 569.5 1021.4 569.9C1026.8 570.3 1036.6 572.3 1036.2 574.8C1035.8 577.3 1024.3 582.2 1018.9 584.7C1013.6 587.1 1009.1 589.6 1004.1 589.6C999.2 589.6 993.5 585.9 989.3 584.7C985.2 583.4 981.5 583.8 979.5 582.2C977.4 580.6 975.4 576.9 977.0 574.8Z" fill="rgb(198,198,198)"/>
<path d="M1142.3 564.9C1143.9 562.5 1152.6 562.1 1157.1 562.5C1161.6 562.9 1168.6 564.5 1169.4 567.4C1170.3 570.3 1164.5 575.6 1162.0 579.7C1159.6 583.8 1157.1 588.8 1154.6 592.1C1152.2 595.4 1149.3 599.9 1147.2 599.5C1145.2 599.1 1142.3 593.3 1142.3 589.6C1142.3 585.9 1147.2 581.4 1147.2 577.3C1147.2 573.2 1140.7 567.4 1142.3 564.9Z" fill="rgb(198,198,198)"/>
<path d="M1186.7 564.9C1189.2 562.5 1203.2 563.3 1211.4 562.5C1219.6 561.6 1231.3 558.8 1236.1 560.0C1240.8 561.2 1242.9 567.4 1240.0 569.9C1237.1 572.3 1226.0 573.6 1218.8 574.8C1211.5 576.0 1201.9 578.9 1196.6 577.3C1191.2 575.6 1184.2 567.4 1186.7 564.9Z" fill="rgb(198,198,198)"/>
<path d="M1176.8 606.9C1178.5 605.2 1187.5 605.2 1189.2 606.9C1190.8 608.5 1188.4 615.1 1186.7 616.7C1185.1 618.4 1181.0 618.4 1179.3 616.7C1177.7 615.1 1175.2 608.5 1176.8 606.9Z" fill="rgb(162,162,162)"/>
<path d="M1184.7 594.8C1185.1 592.7 1192.9 589.9 1197.0 587.4C1201.1 584.9 1201.9 581.2 1209.3 580.0C1216.7 578.8 1232.0 580.0 1241.4 580.0C1250.9 580.0 1262.0 579.4 1266.1 580.0C1270.2 580.6 1269.8 582.1 1266.1 583.7C1262.4 585.3 1249.2 588.4 1243.9 589.9C1238.5 591.3 1236.5 592.7 1234.0 592.3C1231.5 591.9 1233.2 587.8 1229.1 587.4C1225.0 587.0 1215.1 587.8 1209.3 589.9C1203.6 591.9 1198.7 598.9 1194.5 599.7C1190.4 600.6 1184.3 596.9 1184.7 594.8Z" fill="rgb(176,176,176)"/>
<path d="M1177.3 609.6C1179.3 608.0 1189.6 605.9 1192.1 607.1C1194.5 608.4 1194.1 615.4 1192.1 617.0C1190.0 618.7 1182.2 618.2 1179.7 617.0C1177.3 615.8 1175.2 611.3 1177.3 609.6Z" fill="rgb(162,162,162)"/>
<path d="M758.0 588.4C761.4 584.7 768.8 586.4 774.2 586.4C779.5 586.4 787.6 579.4 790.3 588.4C793.0 597.5 792.3 632.2 790.3 640.9C788.3 649.7 782.9 643.3 778.2 640.9C773.5 638.6 766.1 632.2 762.0 626.8C758.0 621.4 754.6 615.0 754.0 608.6C753.3 602.2 754.6 592.1 758.0 588.4Z" fill="rgb(219,219,219)"/>
</g>
<g filter="url(#fmw)"><rect x="280" y="180" width="1340" height="712" fill="#000"/>
<path d="M369.3 491.4C371.4 488.1 377.2 482.0 379.2 484.0C381.3 486.1 380.0 498.0 381.7 503.8C383.3 509.5 386.2 516.1 389.1 518.6C392.0 521.0 396.9 516.1 398.9 518.6C401.0 521.0 400.2 527.6 401.4 533.4C402.6 539.1 404.3 547.3 406.3 553.1C408.4 558.8 410.9 563.0 413.8 567.9C416.6 572.8 421.2 577.8 423.6 582.7C426.1 587.6 426.1 593.8 428.6 597.5C431.0 601.2 439.2 603.7 438.4 604.9C437.6 606.1 427.7 607.8 423.6 604.9C419.5 602.0 417.0 593.0 413.8 587.6C410.5 582.3 406.3 577.8 403.9 572.8C401.4 567.9 401.0 563.0 398.9 558.0C396.9 553.1 394.0 548.6 391.5 543.2C389.1 537.9 387.0 530.9 384.1 526.0C381.3 521.0 377.2 517.3 374.3 513.6C371.4 509.9 367.7 507.5 366.9 503.8C366.1 500.1 367.3 494.7 369.3 491.4Z" fill="rgb(160,160,160)"/>
<path d="M379.2 449.5C380.0 448.2 388.3 445.4 391.5 447.0C394.8 448.7 396.9 454.4 398.9 459.3C401.0 464.3 401.8 471.3 403.9 476.6C405.9 482.0 408.8 486.5 411.3 491.4C413.8 496.3 416.6 502.1 418.7 506.2C420.7 510.3 423.6 514.0 423.6 516.1C423.6 518.1 420.7 519.8 418.7 518.6C416.6 517.3 413.3 512.8 411.3 508.7C409.2 504.6 408.4 498.8 406.3 493.9C404.3 488.9 401.0 484.0 398.9 479.1C396.9 474.1 396.1 468.4 394.0 464.3C392.0 460.2 389.1 456.9 386.6 454.4C384.1 451.9 378.4 450.7 379.2 449.5Z" fill="rgb(142,142,142)"/>
<path d="M401.4 563.0C402.2 560.5 410.1 563.8 413.8 567.9C417.5 572.0 420.3 581.5 423.6 587.6C426.9 593.8 429.4 600.8 433.5 604.9C437.6 609.0 444.2 609.8 448.3 612.3C452.4 614.8 458.2 618.1 458.2 619.7C458.2 621.4 452.4 623.0 448.3 622.2C444.2 621.4 438.4 618.1 433.5 614.8C428.6 611.5 422.8 607.8 418.7 602.4C414.6 597.1 411.7 589.3 408.8 582.7C405.9 576.1 400.6 565.4 401.4 563.0Z" fill="rgb(160,160,160)"/>
<path d="M490.2 543.2C491.9 542.4 498.0 546.5 502.6 548.2C507.1 549.8 512.0 553.9 517.4 553.1C522.7 552.3 528.9 545.3 534.6 543.2C540.4 541.2 548.2 539.9 551.9 540.8C555.6 541.6 558.5 545.7 556.8 548.2C555.2 550.6 547.8 553.5 542.0 555.6C536.3 557.6 528.1 560.1 522.3 560.5C516.5 560.9 512.4 559.3 507.5 558.0C502.6 556.8 495.6 555.6 492.7 553.1C489.8 550.6 488.6 544.0 490.2 543.2Z" fill="rgb(132,132,132)"/>
<path d="M561.8 558.0C570.7 554.3 610.3 551.4 620.0 555.6C629.7 559.7 624.8 579.0 620.0 582.7C615.2 586.4 600.3 578.6 591.4 577.8C582.5 576.9 571.6 581.1 566.7 577.8C561.8 574.5 552.9 561.7 561.8 558.0Z" fill="rgb(94,94,94)"/>
<path d="M639.5 503.8C641.5 500.5 653.9 499.2 656.7 501.3C659.6 503.3 658.8 512.8 656.7 516.1C654.7 519.4 647.3 523.1 644.4 521.0C641.5 519.0 637.4 507.0 639.5 503.8Z" fill="rgb(113,113,113)"/>
<path d="M646.9 540.8C649.3 539.3 659.2 539.3 661.7 540.8C664.1 542.2 664.1 548.0 661.7 549.4C659.2 550.8 649.3 550.8 646.9 549.4C644.4 548.0 644.4 542.2 646.9 540.8Z" fill="rgb(170,170,170)"/>
<path d="M614.8 582.7C616.4 579.8 623.8 580.2 627.1 582.7C630.4 585.2 634.1 593.4 634.5 597.5C635.0 601.6 632.5 607.0 629.6 607.4C626.7 607.8 619.7 604.1 617.3 600.0C614.8 595.9 613.2 585.6 614.8 582.7Z" fill="rgb(170,170,170)"/>
<path d="M600.0 558.0C602.5 555.1 612.3 553.9 614.8 555.6C617.3 557.2 617.3 565.0 614.8 567.9C612.3 570.8 602.5 574.5 600.0 572.8C597.5 571.2 597.5 560.9 600.0 558.0Z" fill="rgb(113,113,113)"/>
<path d="M706.1 630.1C704.9 626.3 706.9 613.6 708.6 607.4C710.2 601.1 713.9 595.4 716.0 592.6C718.0 589.7 720.5 586.8 720.9 590.1C721.3 593.4 719.2 605.6 718.4 612.3C717.6 619.0 718.0 627.1 716.0 630.1C713.9 633.0 707.3 633.9 706.1 630.1Z" fill="rgb(170,170,170)"/>
<path d="M753.0 630.1C747.8 626.3 755.4 614.4 757.9 607.4C760.4 600.3 764.5 591.7 767.8 587.6C771.1 583.5 774.3 582.7 777.6 582.7C780.9 582.7 785.7 579.7 787.5 587.6C789.4 595.5 794.5 623.0 788.7 630.1C783.0 637.1 758.1 633.9 753.0 630.1Z" fill="rgb(160,160,160)"/>
<path d="M400.0 559.7C401.6 558.5 407.4 559.3 409.9 562.2C412.3 565.1 412.3 572.5 414.8 577.0C417.3 581.5 421.0 585.2 424.7 589.3C428.4 593.5 432.9 598.0 437.0 601.7C441.1 605.4 448.5 609.5 449.3 611.5C450.2 613.6 445.6 615.2 441.9 614.0C438.2 612.8 431.7 607.8 427.1 604.1C422.6 600.4 418.5 596.3 414.8 591.8C411.1 587.3 407.4 580.7 404.9 577.0C402.5 573.3 400.8 572.5 400.0 569.6C399.2 566.7 398.4 561.0 400.0 559.7Z" fill="rgb(132,132,132)"/>
<path d="M619.6 586.9C622.0 585.2 629.0 586.9 631.9 589.3C634.8 591.8 637.7 598.8 636.8 601.7C636.0 604.6 630.3 607.0 627.0 606.6C623.7 606.2 618.3 602.5 617.1 599.2C615.9 595.9 617.1 588.5 619.6 586.9Z" fill="rgb(179,179,179)"/>
<path d="M587.5 604.1C588.7 602.5 595.3 600.4 597.4 601.7C599.4 602.9 601.1 609.9 599.8 611.5C598.6 613.2 592.0 612.8 590.0 611.5C587.9 610.3 586.3 605.8 587.5 604.1Z" fill="rgb(170,170,170)"/>
<path d="M572.7 554.8C587.5 553.6 646.7 553.6 661.5 554.8C676.3 556.0 676.3 561.0 661.5 562.2C646.7 563.4 587.5 563.4 572.7 562.2C557.9 561.0 557.9 556.0 572.7 554.8Z" fill="rgb(123,123,123)"/>
<path d="M553.0 569.6C555.8 565.5 567.8 563.0 572.7 564.7C577.6 566.3 582.6 574.1 582.6 579.5C582.6 584.8 571.9 591.0 572.7 596.7C573.5 602.5 580.9 609.5 587.5 614.0C594.1 618.5 603.9 618.9 612.2 623.9C620.4 628.8 629.0 638.3 636.8 643.6C644.7 649.0 655.3 652.7 659.0 656.0C662.7 659.2 663.2 663.4 659.0 663.4C654.9 663.4 642.2 660.1 634.4 656.0C626.6 651.8 620.0 643.6 612.2 638.7C604.4 633.8 594.9 630.9 587.5 626.3C580.1 621.8 573.1 617.7 567.8 611.5C562.4 605.4 557.9 596.3 555.4 589.3C553.0 582.4 550.1 573.7 553.0 569.6Z" fill="rgb(128,128,128)"/>
<path d="M666.4 658.4C667.7 656.0 672.6 656.0 673.9 658.4C675.1 660.9 675.1 670.8 673.9 673.2C672.6 675.7 667.7 675.7 666.4 673.2C665.2 670.8 665.2 660.9 666.4 658.4Z" fill="rgb(151,151,151)"/>
<path d="M491.3 544.9C490.5 542.5 499.1 541.2 503.6 542.5C508.1 543.7 513.5 551.1 518.4 552.3C523.4 553.6 528.3 550.7 533.2 549.9C538.2 549.0 544.7 546.6 548.0 547.4C551.3 548.2 554.6 552.3 553.0 554.8C551.3 557.3 543.1 560.6 538.2 562.2C533.2 563.8 528.3 565.5 523.4 564.7C518.4 563.8 513.9 560.6 508.6 557.3C503.2 554.0 492.1 547.4 491.3 544.9Z" fill="rgb(113,113,113)"/>
<path d="M706.9 609.3C708.1 604.0 714.3 595.0 716.7 592.1C719.2 589.2 721.3 588.0 721.7 592.1C722.1 596.2 720.0 610.2 719.2 616.7C718.4 623.3 718.4 630.3 716.7 631.5C715.1 632.8 711.0 627.8 709.3 624.1C707.7 620.4 705.6 614.7 706.9 609.3Z" fill="rgb(170,170,170)"/>
<path d="M753.8 604.4C757.0 597.4 762.4 590.4 766.1 587.1C769.8 583.8 772.3 584.7 776.0 584.7C779.7 584.7 786.2 585.1 788.3 587.1C790.3 589.2 790.8 595.0 788.3 597.0C785.8 599.1 778.0 597.4 773.5 599.5C769.0 601.5 764.0 605.2 761.2 609.3C758.3 613.5 757.9 618.8 756.2 624.1C754.6 629.5 753.3 637.3 751.3 641.4C749.2 645.5 744.7 650.9 743.9 648.8C743.1 646.8 744.7 636.5 746.3 629.1C748.0 621.7 750.5 611.4 753.8 604.4Z" fill="rgb(113,113,113)"/>
<path d="M667.4 658.7C667.4 655.8 670.3 655.4 674.8 656.2C679.3 657.0 691.7 661.2 694.5 663.6C697.4 666.1 695.4 669.4 692.1 671.0C688.8 672.7 678.9 675.5 674.8 673.5C670.7 671.4 667.4 661.6 667.4 658.7Z" fill="rgb(113,113,113)"/>
<path d="M458.2 577.8C463.1 575.3 484.5 578.6 492.7 582.7C500.9 586.8 509.1 598.3 507.5 602.4C505.9 606.5 490.2 608.2 482.8 607.4C475.4 606.5 467.2 602.4 463.1 597.5C459.0 592.6 453.2 580.2 458.2 577.8Z" fill="rgb(94,94,94)"/>
<path d="M414.8 589.3C421.8 589.3 451.8 603.7 464.1 609.1C476.5 614.4 481.4 616.5 488.8 621.4C496.2 626.3 504.4 632.5 508.6 638.7C512.7 644.9 515.1 654.3 513.5 658.4C511.8 662.5 505.3 666.6 498.7 663.4C492.1 660.1 482.2 645.7 474.0 638.7C465.8 631.7 458.0 626.3 449.3 621.4C440.7 616.5 428.0 614.4 422.2 609.1C416.4 603.7 407.8 589.3 414.8 589.3Z" fill="rgb(113,113,113)"/>
<path d="M745.9 628.8C747.9 624.8 751.3 613.0 754.0 606.6C756.7 600.2 761.4 593.8 762.0 590.5C762.7 587.1 760.4 583.7 758.0 586.4C755.7 589.1 750.6 599.2 747.9 606.6C745.2 614.0 742.2 627.1 741.9 630.8C741.5 634.5 743.9 632.9 745.9 628.8Z" fill="rgb(123,123,123)"/>
</g>
<g filter="url(#fos)"><rect x="280" y="180" width="1340" height="712" fill="#000"/>
<path d="M375.5 459.3C376.9 454.6 382.9 450.7 386.6 450.7C390.3 450.7 394.6 455.0 397.7 459.3C400.8 463.7 402.6 471.3 405.1 476.6C407.6 482.0 410.5 486.1 412.5 491.4C414.6 496.8 417.0 504.0 417.5 508.7C417.9 513.4 417.2 517.5 415.0 519.8C412.7 522.0 408.0 523.3 403.9 522.3C399.8 521.2 393.8 517.9 390.3 513.6C386.8 509.3 385.0 502.1 382.9 496.3C380.9 490.6 379.2 485.2 378.0 479.1C376.7 472.9 374.1 464.1 375.5 459.3Z" fill="rgb(191,191,191)"/>
<path d="M405.1 526.0C407.6 524.5 414.6 524.5 418.7 527.2C422.8 529.9 425.9 537.5 429.8 542.0C433.7 546.5 438.4 550.0 442.1 554.3C445.8 558.6 449.9 563.2 452.0 567.9C454.0 572.6 455.9 579.2 454.5 582.7C453.0 586.2 447.3 589.5 443.4 588.9C439.4 588.2 434.9 583.1 431.0 579.0C427.1 574.9 423.4 569.3 419.9 564.2C416.4 559.1 412.7 552.9 410.1 548.2C407.4 543.4 404.7 539.5 403.9 535.8C403.1 532.1 402.6 527.4 405.1 526.0Z" fill="rgb(191,191,191)"/>
<path d="M822.0 607.4C823.7 605.3 831.1 604.1 836.8 602.4C842.6 600.8 850.8 599.6 856.6 597.5C862.3 595.4 866.0 592.6 871.4 590.1C876.7 587.6 886.2 586.0 888.7 582.7C891.1 579.4 884.3 571.2 886.2 570.4C888.1 569.5 897.7 570.8 900.0 577.8C902.3 584.8 903.1 606.1 900.0 612.3C896.9 618.5 887.7 614.8 881.3 614.8C874.8 614.8 868.1 612.3 861.5 612.3C854.9 612.3 846.7 613.1 841.8 614.8C836.8 616.4 834.4 622.2 831.9 622.2C829.4 622.2 828.6 617.2 827.0 614.8C825.3 612.3 820.4 609.4 822.0 607.4Z" fill="rgb(198,198,198)"/>
<path d="M860.0 594.9C862.5 589.5 870.7 591.6 874.8 587.5C878.9 583.4 881.4 571.9 884.7 570.2C888.0 568.6 890.4 577.6 894.5 577.6C898.7 577.6 904.4 571.1 909.3 570.2C914.3 569.4 920.0 573.1 924.1 572.7C928.3 572.3 929.9 567.8 934.0 567.8C938.1 567.8 943.9 570.2 948.8 572.7C953.8 575.2 959.5 579.3 963.6 582.6C967.7 585.9 969.4 590.4 973.5 592.4C977.6 594.5 982.5 595.3 988.3 594.9C994.0 594.5 1001.4 590.8 1008.0 590.0C1014.6 589.1 1022.0 591.2 1027.8 590.0C1033.5 588.7 1038.5 585.4 1042.6 582.6C1046.7 579.7 1048.7 576.0 1052.4 572.7C1056.1 569.4 1061.5 562.8 1064.8 562.8C1068.1 562.8 1071.8 569.4 1072.2 572.7C1072.6 576.0 1066.4 580.1 1067.2 582.6C1068.1 585.0 1074.6 585.0 1077.1 587.5C1079.6 590.0 1078.8 595.7 1082.0 597.4C1085.3 599.0 1095.2 596.1 1096.8 597.4C1098.5 598.6 1096.0 603.5 1091.9 604.8C1087.8 606.0 1077.1 602.2 1072.2 604.8C1067.2 607.3 1097.7 617.5 1062.3 620.1C1026.9 622.6 893.7 624.3 860.0 620.1C826.3 615.9 857.5 600.3 860.0 594.9Z" fill="rgb(191,191,191)"/>
<path d="M860.0 602.3C864.1 598.1 877.3 597.0 884.7 594.9C892.1 592.8 897.8 590.4 904.4 590.0C911.0 589.6 917.6 591.6 924.1 592.4C930.7 593.3 937.3 594.1 943.9 594.9C950.5 595.7 959.5 593.2 963.6 597.4C967.7 601.6 985.8 616.3 968.6 620.1C951.3 623.9 878.1 623.0 860.0 620.1C841.9 617.1 855.9 606.5 860.0 602.3Z" fill="rgb(216,216,216)"/>
<path d="M976.0 597.4C979.7 594.0 991.2 600.2 998.2 599.8C1005.1 599.4 1011.3 596.1 1017.9 594.9C1024.5 593.7 1031.9 592.4 1037.6 592.4C1043.4 592.4 1049.1 592.8 1052.4 594.9C1055.7 597.0 1058.2 600.6 1057.4 604.8C1056.5 609.0 1061.1 617.5 1047.5 620.1C1033.9 622.6 987.9 623.9 976.0 620.1C964.0 616.3 972.3 600.7 976.0 597.4Z" fill="rgb(205,205,205)"/>
<path d="M1022.8 604.8C1026.9 602.3 1038.5 600.7 1042.6 602.3C1046.7 603.9 1049.1 611.7 1047.5 614.6C1045.9 617.6 1037.6 619.7 1032.7 620.1C1027.8 620.5 1019.5 619.7 1017.9 617.1C1016.3 614.6 1018.7 607.2 1022.8 604.8Z" fill="rgb(0,0,0)"/>
<path d="M1059.8 609.7C1063.9 607.6 1075.1 607.4 1082.0 607.2C1089.0 607.0 1098.5 606.3 1101.8 608.5C1105.1 610.6 1109.2 618.1 1101.8 620.1C1094.4 622.0 1064.4 621.8 1057.4 620.1C1050.4 618.3 1055.7 611.8 1059.8 609.7Z" fill="rgb(205,205,205)"/>
<path d="M1106.7 609.7C1112.1 608.0 1130.6 609.3 1138.8 609.7C1147.0 610.1 1153.2 610.4 1156.1 612.2C1158.9 613.9 1164.3 618.8 1156.1 620.1C1147.8 621.4 1114.9 621.8 1106.7 620.1C1098.5 618.3 1101.4 611.4 1106.7 609.7Z" fill="rgb(198,198,198)"/>
<path d="M1120.0 610.0C1124.1 604.5 1138.5 608.3 1144.7 607.5C1150.8 606.7 1152.9 605.9 1157.0 605.0C1161.1 604.2 1164.8 600.5 1169.3 602.6C1173.9 604.6 1178.4 614.9 1184.1 617.4C1189.9 619.8 1199.8 615.7 1203.9 617.4C1208.0 619.0 1206.3 623.5 1208.8 627.2C1211.3 631.0 1233.5 637.9 1218.7 640.1C1203.9 642.2 1136.4 645.1 1120.0 640.1C1103.6 635.1 1115.9 615.4 1120.0 610.0Z" fill="rgb(198,198,198)"/>
<path d="M1120.0 617.4C1124.1 613.2 1137.3 616.1 1144.7 614.9C1152.1 613.7 1158.7 608.7 1164.4 610.0C1170.2 611.2 1174.3 618.6 1179.2 622.3C1184.1 626.0 1191.5 629.2 1194.0 632.2C1196.5 635.1 1206.3 638.8 1194.0 640.1C1181.7 641.4 1132.3 643.9 1120.0 640.1C1107.7 636.3 1115.9 621.6 1120.0 617.4Z" fill="rgb(212,212,212)"/>
<path d="M1206.3 610.0C1208.0 606.3 1217.5 603.8 1223.6 602.6C1229.8 601.3 1237.6 601.7 1243.4 602.6C1249.1 603.4 1254.0 605.9 1258.2 607.5C1262.3 609.1 1268.0 610.0 1268.0 612.4C1268.0 614.9 1262.3 619.8 1258.2 622.3C1254.0 624.8 1248.3 625.6 1243.4 627.2C1238.4 628.9 1233.5 632.6 1228.6 632.2C1223.6 631.8 1217.5 628.5 1213.8 624.8C1210.1 621.1 1204.7 613.7 1206.3 610.0Z" fill="rgb(198,198,198)"/>
<path d="M1253.2 595.2C1255.7 593.5 1266.4 593.5 1273.0 592.7C1279.5 591.9 1288.6 592.3 1292.7 590.2C1296.8 588.2 1293.5 582.0 1297.6 580.4C1301.7 578.7 1310.8 581.2 1317.4 580.4C1323.9 579.5 1330.9 576.7 1337.1 575.4C1343.3 574.2 1351.1 575.8 1354.4 573.0C1357.7 570.1 1355.2 559.4 1356.8 558.2C1358.5 556.9 1362.6 561.4 1364.2 565.6C1365.9 569.7 1367.9 578.3 1366.7 582.8C1365.5 587.4 1361.0 590.2 1356.8 592.7C1352.7 595.2 1346.2 595.2 1342.0 597.6C1337.9 600.1 1336.3 605.4 1332.2 607.5C1328.1 609.6 1320.7 611.6 1317.4 610.0C1314.1 608.3 1316.5 598.9 1312.4 597.6C1308.3 596.4 1299.3 601.3 1292.7 602.6C1286.1 603.8 1278.7 605.0 1273.0 605.0C1267.2 605.0 1261.4 604.2 1258.2 602.6C1254.9 600.9 1250.8 596.8 1253.2 595.2Z" fill="rgb(198,198,198)"/>
<path d="M1302.6 585.3C1304.2 583.2 1315.7 583.7 1322.3 582.8C1328.9 582.0 1337.1 579.5 1342.0 580.4C1347.0 581.2 1353.6 584.9 1351.9 587.8C1350.3 590.6 1338.8 596.4 1332.2 597.6C1325.6 598.9 1317.4 597.2 1312.4 595.2C1307.5 593.1 1300.9 587.4 1302.6 585.3Z" fill="rgb(212,212,212)"/>
<path d="M414.8 544.9C416.0 540.8 424.7 538.4 429.6 540.0C434.5 541.6 441.1 549.0 444.4 554.8C447.7 560.6 449.8 569.2 449.3 574.5C448.9 579.9 445.2 586.1 441.9 586.9C438.7 587.7 432.9 583.2 429.6 579.5C426.3 575.8 424.7 570.4 422.2 564.7C419.7 558.9 413.6 549.0 414.8 544.9Z" fill="rgb(184,184,184)"/>
<path d="M756.2 638.9C757.5 635.7 761.2 632.4 763.6 634.0C766.1 635.7 768.6 644.3 771.0 648.8C773.5 653.3 775.5 659.5 778.4 661.2C781.3 662.8 786.6 657.5 788.3 658.7C789.9 659.9 790.3 666.5 788.3 668.6C786.2 670.6 780.1 671.8 776.0 671.0C771.8 670.2 766.9 666.5 763.6 663.6C760.3 660.7 757.5 657.9 756.2 653.8C755.0 649.6 755.0 642.2 756.2 638.9Z" fill="rgb(198,198,198)"/>
<path d="M792.0 653.8C794.3 650.1 801.2 649.2 805.6 646.3C809.9 643.5 813.8 639.8 817.9 636.5C822.0 633.2 827.8 629.9 830.2 626.6C832.7 623.3 831.1 617.2 832.7 616.7C834.3 616.3 839.3 621.3 840.1 624.1C840.9 627.0 839.3 630.7 837.6 634.0C836.0 637.3 833.1 640.6 830.2 643.9C827.4 647.2 824.1 650.9 820.4 653.8C816.7 656.6 812.1 658.7 808.0 661.2C803.9 663.6 798.4 667.3 795.7 668.6C793.0 669.8 792.6 671.0 792.0 668.6C791.4 666.1 789.7 657.5 792.0 653.8Z" fill="rgb(198,198,198)"/>
<path d="M857.4 604.4C858.6 601.7 860.7 599.5 864.8 597.0C868.9 594.5 877.5 593.3 882.0 589.6C886.6 585.9 891.1 578.5 891.9 574.8C892.7 571.1 884.5 567.8 887.0 567.4C889.4 567.0 900.1 572.3 906.7 572.3C913.3 572.3 920.7 568.6 926.4 567.4C932.2 566.2 935.7 564.1 941.3 564.9C946.8 565.8 956.9 562.1 960.0 572.3C963.1 582.6 962.7 618.4 960.0 626.6C957.3 634.8 949.3 623.3 943.7 621.7C938.1 620.0 932.6 617.2 926.4 616.7C920.3 616.3 913.3 619.2 906.7 619.2C900.1 619.2 893.1 617.6 887.0 616.7C880.8 615.9 874.6 614.9 869.7 614.3C864.8 613.7 859.4 614.7 857.4 613.0C855.3 611.4 856.1 607.1 857.4 604.4Z" fill="rgb(198,198,198)"/>
<path d="M872.2 601.9C873.8 599.5 886.2 597.4 891.9 594.5C897.7 591.7 900.1 587.1 906.7 584.7C913.3 582.2 922.5 579.7 931.4 579.7C940.3 579.7 955.2 578.1 960.0 584.7C964.8 591.3 964.8 615.1 960.0 619.2C955.2 623.3 940.3 610.6 931.4 609.3C922.5 608.1 914.9 611.8 906.7 611.8C898.5 611.8 887.8 611.0 882.0 609.3C876.3 607.7 870.5 604.4 872.2 601.9Z" fill="rgb(216,216,216)"/>
<path d="M822.8 606.9C824.1 605.2 832.3 605.2 837.6 604.4C843.0 603.6 851.6 600.7 854.9 601.9C858.2 603.2 859.4 610.2 857.4 611.8C855.3 613.5 847.1 611.4 842.6 611.8C838.0 612.2 833.5 615.1 830.2 614.3C826.9 613.5 821.6 608.5 822.8 606.9Z" fill="rgb(176,176,176)"/>
<path d="M940.0 569.9C942.5 561.6 950.7 572.3 954.8 574.8C958.9 577.3 962.2 581.8 964.7 584.7C967.1 587.5 966.3 590.0 969.6 592.1C972.9 594.1 978.7 597.0 984.4 597.0C990.2 597.0 998.0 593.3 1004.1 592.1C1010.3 590.8 1015.7 590.8 1021.4 589.6C1027.2 588.4 1034.2 588.0 1038.7 584.7C1043.2 581.4 1044.4 573.2 1048.6 569.9C1052.7 566.6 1060.1 564.1 1063.4 564.9C1066.6 565.8 1068.7 570.3 1068.3 574.8C1067.9 579.3 1062.9 586.7 1060.9 592.1C1058.8 597.4 1059.7 605.2 1056.0 606.9C1052.3 608.5 1044.0 601.5 1038.7 601.9C1033.3 602.4 1028.0 605.6 1023.9 609.3C1019.8 613.0 1014.8 620.0 1014.0 624.1C1013.2 628.3 1020.6 632.0 1018.9 634.0C1017.3 636.1 1009.1 636.5 1004.1 636.5C999.2 636.5 993.5 636.1 989.3 634.0C985.2 632.0 983.6 625.0 979.5 624.1C975.4 623.3 969.6 629.1 964.7 629.1C959.7 629.1 954.0 625.0 949.9 624.1C945.8 623.3 941.6 633.2 940.0 624.1C938.4 615.1 937.5 578.1 940.0 569.9Z" fill="rgb(198,198,198)"/>
<path d="M940.0 584.7C943.3 580.1 954.0 586.7 959.7 589.6C965.5 592.5 968.8 599.9 974.5 601.9C980.3 604.0 988.1 602.4 994.3 601.9C1000.4 601.5 1009.1 597.0 1011.5 599.5C1014.0 601.9 1012.0 612.2 1009.1 616.7C1006.2 621.3 999.6 626.6 994.3 626.6C988.9 626.6 983.6 618.4 977.0 616.7C970.4 615.1 961.0 616.7 954.8 616.7C948.6 616.7 942.5 622.1 940.0 616.7C937.5 611.4 936.7 589.2 940.0 584.7Z" fill="rgb(212,212,212)"/>
<path d="M977.0 613.0C981.9 611.0 998.8 610.4 1009.1 609.3C1019.4 608.3 1033.8 605.6 1038.7 606.9C1043.6 608.1 1043.6 614.3 1038.7 616.7C1033.8 619.2 1018.9 620.9 1009.1 621.7C999.2 622.5 984.8 623.1 979.5 621.7C974.1 620.2 972.1 615.1 977.0 613.0Z" fill="rgb(0,0,0)"/>
<path d="M1068.3 584.7C1072.0 582.2 1082.3 581.0 1088.0 582.2C1093.8 583.4 1101.2 588.4 1102.8 592.1C1104.5 595.8 1102.0 602.8 1097.9 604.4C1093.8 606.1 1083.5 603.2 1078.2 601.9C1072.8 600.7 1067.5 599.9 1065.8 597.0C1064.2 594.1 1064.6 587.1 1068.3 584.7Z" fill="rgb(198,198,198)"/>
<path d="M1058.4 609.3C1061.3 607.7 1071.2 606.9 1078.2 606.9C1085.1 606.9 1096.7 606.5 1100.4 609.3C1104.1 612.2 1102.4 622.1 1100.4 624.1C1098.3 626.2 1091.7 620.4 1088.0 621.7C1084.3 622.9 1081.4 630.7 1078.2 631.5C1074.9 632.4 1071.2 629.1 1068.3 626.6C1065.4 624.1 1062.5 619.6 1060.9 616.7C1059.2 613.9 1055.5 611.0 1058.4 609.3Z" fill="rgb(198,198,198)"/>
<path d="M1068.3 641.4C1069.7 640.4 1075.5 640.4 1076.9 641.4C1078.4 642.4 1078.4 646.6 1076.9 647.6C1075.5 648.6 1069.7 648.6 1068.3 647.6C1066.9 646.6 1066.9 642.4 1068.3 641.4Z" fill="rgb(191,191,191)"/>
<path d="M1105.3 609.3C1109.0 605.6 1119.7 606.9 1127.5 606.9C1135.3 606.9 1146.8 606.5 1152.2 609.3C1157.5 612.2 1157.9 618.8 1159.6 624.1C1161.2 629.5 1160.8 635.7 1162.0 641.4C1163.3 647.2 1167.4 655.0 1167.0 658.7C1166.6 662.4 1162.5 664.4 1159.6 663.6C1156.7 662.8 1153.4 657.5 1149.7 653.8C1146.0 650.1 1141.9 643.1 1137.4 641.4C1132.8 639.8 1127.1 643.9 1122.6 643.9C1118.0 643.9 1113.1 643.9 1110.2 641.4C1107.4 638.9 1106.1 634.4 1105.3 629.1C1104.5 623.7 1101.6 613.0 1105.3 609.3Z" fill="rgb(198,198,198)"/>
<path d="M1112.7 616.7C1116.0 614.3 1126.3 615.5 1132.4 616.7C1138.6 618.0 1145.6 620.0 1149.7 624.1C1153.8 628.3 1157.9 638.1 1157.1 641.4C1156.3 644.7 1149.7 645.1 1144.8 643.9C1139.8 642.6 1132.8 636.1 1127.5 634.0C1122.2 632.0 1115.2 634.4 1112.7 631.5C1110.2 628.7 1109.4 619.2 1112.7 616.7Z" fill="rgb(205,205,205)"/>
<path d="M1112.7 621.7C1114.8 620.0 1126.7 619.4 1130.0 620.4C1133.3 621.5 1134.5 626.2 1132.4 627.8C1130.4 629.5 1120.9 631.3 1117.6 630.3C1114.3 629.3 1110.6 623.3 1112.7 621.7Z" fill="rgb(0,0,0)"/>
<path d="M1162.0 606.9C1165.7 604.4 1180.1 607.7 1186.7 609.3C1193.3 611.0 1196.6 616.7 1201.5 616.7C1206.4 616.7 1209.9 611.4 1216.3 609.3C1222.7 607.3 1236.1 600.7 1240.0 604.4C1243.9 608.1 1242.7 626.6 1240.0 631.5C1237.3 636.5 1228.9 633.2 1223.7 634.0C1218.5 634.8 1213.4 634.4 1208.9 636.5C1204.4 638.5 1200.3 643.1 1196.6 646.3C1192.9 649.6 1190.4 654.2 1186.7 656.2C1183.0 658.3 1177.3 660.7 1174.4 658.7C1171.5 656.6 1171.1 649.6 1169.4 643.9C1167.8 638.1 1165.7 630.3 1164.5 624.1C1163.3 618.0 1158.3 609.3 1162.0 606.9Z" fill="rgb(202,202,202)"/>
<path d="M1169.4 616.7C1172.3 614.7 1181.4 617.6 1186.7 619.2C1192.1 620.9 1200.7 623.3 1201.5 626.6C1202.3 629.9 1195.8 636.1 1191.6 638.9C1187.5 641.8 1180.5 645.1 1176.8 643.9C1173.1 642.6 1170.7 636.1 1169.4 631.5C1168.2 627.0 1166.6 618.8 1169.4 616.7Z" fill="rgb(212,212,212)"/>
<path d="M1208.9 609.3C1213.7 606.5 1234.8 601.1 1240.0 604.4C1245.2 607.7 1242.7 625.0 1240.0 629.1C1237.3 633.2 1228.5 630.3 1223.7 629.1C1218.9 627.8 1213.9 625.0 1211.4 621.7C1208.9 618.4 1204.1 612.2 1208.9 609.3Z" fill="rgb(212,212,212)"/>
<path d="M1160.0 609.6C1163.3 600.6 1174.0 606.7 1179.7 607.1C1185.5 607.5 1189.6 610.4 1194.5 612.1C1199.5 613.7 1205.2 614.5 1209.3 617.0C1213.5 619.5 1219.2 623.2 1219.2 626.9C1219.2 630.6 1212.6 635.9 1209.3 639.2C1206.1 642.5 1202.8 646.2 1199.5 646.6C1196.2 647.0 1192.9 640.4 1189.6 641.7C1186.3 642.9 1183.0 652.4 1179.7 654.0C1176.4 655.7 1173.2 650.3 1169.9 651.5C1166.6 652.8 1161.6 668.4 1160.0 661.4C1158.4 654.4 1156.7 618.7 1160.0 609.6Z" fill="rgb(202,202,202)"/>
<path d="M1164.9 617.0C1167.8 613.3 1178.5 615.8 1184.7 617.0C1190.8 618.2 1199.9 621.1 1201.9 624.4C1204.0 627.7 1200.7 633.9 1197.0 636.7C1193.3 639.6 1184.7 641.3 1179.7 641.7C1174.8 642.1 1169.9 643.3 1167.4 639.2C1164.9 635.1 1162.1 620.7 1164.9 617.0Z" fill="rgb(212,212,212)"/>
<path d="M1209.3 612.1C1211.0 609.2 1219.2 605.5 1224.1 604.7C1229.1 603.8 1234.0 607.1 1238.9 607.1C1243.9 607.1 1249.6 603.8 1253.8 604.7C1257.9 605.5 1261.6 609.6 1263.6 612.1C1265.7 614.5 1267.7 617.4 1266.1 619.5C1264.4 621.5 1258.3 623.2 1253.8 624.4C1249.2 625.6 1243.9 626.1 1238.9 626.9C1234.0 627.7 1228.3 630.2 1224.1 629.3C1220.0 628.5 1216.7 624.8 1214.3 621.9C1211.8 619.1 1207.7 615.0 1209.3 612.1Z" fill="rgb(212,212,212)"/>
<path d="M1253.8 597.3C1255.4 595.6 1262.8 595.6 1268.6 594.8C1274.3 594.0 1282.9 594.4 1288.3 592.3C1293.6 590.3 1295.7 584.5 1300.6 582.5C1305.6 580.4 1310.9 580.4 1317.9 580.0C1324.9 579.6 1336.0 579.2 1342.6 580.0C1349.1 580.8 1356.5 582.9 1357.4 584.9C1358.2 587.0 1350.8 589.9 1347.5 592.3C1344.2 594.8 1340.9 596.4 1337.6 599.7C1334.3 603.0 1331.1 609.6 1327.8 612.1C1324.5 614.5 1321.2 616.2 1317.9 614.5C1314.6 612.9 1311.3 604.7 1308.0 602.2C1304.7 599.7 1302.3 599.7 1298.2 599.7C1294.0 599.7 1288.3 601.4 1283.4 602.2C1278.4 603.0 1272.7 604.3 1268.6 604.7C1264.4 605.1 1261.2 605.9 1258.7 604.7C1256.2 603.4 1252.1 598.9 1253.8 597.3Z" fill="rgb(205,205,205)"/>
</g>
<g filter="url(#fow)"><rect x="280" y="180" width="1340" height="712" fill="#000"/>
<path d="M507.5 558.0C509.1 556.4 521.5 557.6 527.2 558.0C533.0 558.4 540.4 558.8 542.0 560.5C543.7 562.1 541.2 566.7 537.1 567.9C533.0 569.1 522.3 569.5 517.4 567.9C512.4 566.3 505.9 559.7 507.5 558.0Z" fill="rgb(113,113,113)"/>
<path d="M463.1 607.4C465.1 604.1 473.8 597.9 477.9 597.5C482.0 597.1 484.5 602.0 487.8 604.9C491.1 607.8 499.3 612.3 497.6 614.8C496.0 617.2 483.2 619.3 477.9 619.7C472.6 620.1 468.0 619.3 465.6 617.2C463.1 615.2 461.0 610.7 463.1 607.4Z" fill="rgb(142,142,142)"/>
<path d="M596.3 604.9C598.4 603.3 607.0 604.9 608.7 607.4C610.3 609.8 608.2 618.1 606.2 619.7C604.1 621.4 598.0 619.7 596.3 617.2C594.7 614.8 594.3 606.5 596.3 604.9Z" fill="rgb(132,132,132)"/>
<path d="M466.6 604.1C467.8 600.9 476.9 593.9 481.4 594.3C485.9 594.7 489.2 603.7 493.8 606.6C498.3 609.5 507.7 609.9 508.6 611.5C509.4 613.2 502.8 615.7 498.7 616.5C494.6 617.3 488.0 616.9 483.9 616.5C479.8 616.1 476.9 616.1 474.0 614.0C471.1 612.0 465.4 607.4 466.6 604.1Z" fill="rgb(151,151,151)"/>
<path d="M481.4 646.1C481.8 642.8 490.1 642.0 493.8 643.6C497.5 645.3 502.8 652.3 503.6 656.0C504.4 659.7 500.7 664.6 498.7 665.8C496.6 667.1 494.2 666.6 491.3 663.4C488.4 660.1 481.0 649.4 481.4 646.1Z" fill="rgb(132,132,132)"/>
<path d="M636.8 668.3C638.9 664.6 645.5 662.5 649.2 663.4C652.9 664.2 657.0 667.5 659.0 673.2C661.1 679.0 663.6 693.8 661.5 697.9C659.5 702.0 650.8 700.0 646.7 697.9C642.6 695.8 638.5 690.5 636.8 685.6C635.2 680.6 634.8 672.0 636.8 668.3Z" fill="rgb(151,151,151)"/>
<path d="M597.4 606.6C598.6 605.0 605.2 605.0 607.2 606.6C609.3 608.3 610.9 614.8 609.7 616.5C608.5 618.1 601.9 618.1 599.8 616.5C597.8 614.8 596.1 608.3 597.4 606.6Z" fill="rgb(132,132,132)"/>
<path d="M671.4 678.2C677.0 674.5 695.2 674.0 700.0 675.7C704.8 677.3 703.1 686.0 700.0 688.0C696.9 690.1 684.8 686.4 681.3 688.0C677.7 689.7 681.3 696.3 678.8 697.9C676.3 699.5 667.7 701.2 666.4 697.9C665.2 694.6 665.8 681.9 671.4 678.2Z" fill="rgb(142,142,142)"/>
<path d="M511.0 559.7C513.5 558.5 528.7 562.6 533.2 564.7C537.7 566.7 540.6 570.8 538.2 572.1C535.7 573.3 522.9 574.1 518.4 572.1C513.9 570.0 508.6 561.0 511.0 559.7Z" fill="rgb(94,94,94)"/>
<path d="M714.3 648.8C715.1 645.1 721.7 642.2 724.1 643.9C726.6 645.5 728.7 654.2 729.1 658.7C729.5 663.2 728.3 669.8 726.6 671.0C725.0 672.3 721.3 669.8 719.2 666.1C717.2 662.4 713.5 652.5 714.3 648.8Z" fill="rgb(160,160,160)"/>
<path d="M667.4 673.5C671.5 671.0 685.1 674.3 692.1 673.5C699.1 672.7 702.4 668.1 709.3 668.6C716.3 669.0 725.0 674.7 734.0 676.0C743.1 677.2 759.5 674.7 763.6 676.0C767.7 677.2 766.9 682.3 758.7 683.4C750.5 684.4 726.6 681.7 714.3 682.1C701.9 682.5 692.5 684.8 684.7 685.8C676.9 686.9 670.3 690.3 667.4 688.3C664.5 686.2 663.3 676.0 667.4 673.5Z" fill="rgb(104,104,104)"/>
<path d="M721.7 688.3C721.3 685.4 730.3 684.2 734.0 685.8C737.7 687.5 740.6 696.9 743.9 698.2C747.2 699.4 750.9 691.6 753.8 693.2C756.6 694.9 758.3 703.9 761.2 708.0C764.0 712.1 767.3 715.0 771.0 717.9C774.7 720.8 779.7 723.7 783.4 725.3C787.1 726.9 792.4 726.5 793.2 727.8C794.0 729.0 791.2 731.9 788.3 732.7C785.4 733.5 780.1 731.9 776.0 732.7C771.8 733.5 766.5 738.5 763.6 737.6C760.7 736.8 761.2 731.5 758.7 727.8C756.2 724.1 752.5 719.5 748.8 715.4C745.1 711.3 741.0 707.6 736.5 703.1C732.0 698.6 722.1 691.2 721.7 688.3Z" fill="rgb(123,123,123)"/>
<path d="M453.2 548.2C454.0 543.2 463.1 544.9 468.0 548.2C473.0 551.4 481.2 562.1 482.8 567.9C484.5 573.7 481.2 581.1 477.9 582.7C474.6 584.3 467.2 583.5 463.1 577.8C459.0 572.0 452.4 553.1 453.2 548.2Z" fill="rgb(104,104,104)"/>
<path d="M428.6 597.5C431.4 595.9 443.4 599.1 448.3 602.4C453.2 605.7 458.2 613.9 458.2 617.2C458.2 620.5 452.8 623.0 448.3 622.2C443.8 621.4 434.3 616.4 431.0 612.3C427.7 608.2 425.7 599.1 428.6 597.5Z" fill="rgb(104,104,104)"/>
<path d="M482.8 558.0C486.1 555.6 500.9 558.8 507.5 563.0C514.1 567.1 523.1 578.6 522.3 582.7C521.5 586.8 508.3 588.5 502.6 587.6C496.8 586.8 491.1 582.7 487.8 577.8C484.5 572.8 479.5 560.5 482.8 558.0Z" fill="rgb(104,104,104)"/>
<path d="M557.9 564.7C560.4 561.4 571.1 563.4 577.6 569.6C584.2 575.8 590.0 593.0 597.4 601.7C604.8 610.3 613.8 614.4 622.0 621.4C630.3 628.4 640.1 636.6 646.7 643.6C653.3 650.6 661.5 659.2 661.5 663.4C661.5 667.5 653.3 670.8 646.7 668.3C640.1 665.8 630.3 655.1 622.0 648.6C613.8 642.0 604.8 635.4 597.4 628.8C590.0 622.2 583.4 615.7 577.6 609.1C571.9 602.5 566.1 596.7 562.8 589.3C559.5 581.9 555.4 568.0 557.9 564.7Z" fill="rgb(113,113,113)"/>
<path d="M456.7 601.7C463.7 598.4 493.8 596.7 503.6 599.2C513.5 601.7 516.0 609.9 516.0 616.5C516.0 623.1 507.3 630.9 503.6 638.7C499.9 646.5 497.0 660.1 493.8 663.4C490.5 666.6 487.2 663.4 483.9 658.4C480.6 653.5 477.7 640.3 474.0 633.8C470.3 627.2 464.6 624.3 461.7 618.9C458.8 613.6 449.8 605.0 456.7 601.7Z" fill="rgb(117,117,117)"/>
<path d="M721.7 688.3C725.8 685.0 752.5 681.7 763.6 683.4C774.7 685.0 783.4 690.8 788.3 698.2C793.2 705.6 794.9 722.0 793.2 727.8C791.6 733.5 784.2 734.3 778.4 732.7C772.7 731.1 765.3 722.8 758.7 717.9C752.1 713.0 745.1 708.0 738.9 703.1C732.8 698.2 717.6 691.6 721.7 688.3Z" fill="rgb(113,113,113)"/>
<path d="M669.2 679.3C671.9 675.9 680.0 679.6 685.3 677.3C690.7 674.9 698.1 669.9 701.5 665.2C704.8 660.4 703.8 651.0 705.5 649.0C707.2 647.0 710.9 649.7 711.6 653.0C712.3 656.4 708.6 664.5 709.6 669.2C710.6 673.9 717.3 678.6 717.6 681.3C718.0 684.0 715.6 684.7 711.6 685.3C707.5 686.0 698.5 683.3 693.4 685.3C688.4 687.4 685.3 695.4 681.3 697.4C677.3 699.5 671.2 700.5 669.2 697.4C667.2 694.4 666.5 682.6 669.2 679.3Z" fill="rgb(142,142,142)"/>
</g>
<g filter="url(#fcs)"><rect x="280" y="180" width="1340" height="712" fill="#000"/>
<path d="M1356.8 597.6C1360.1 594.8 1369.6 592.3 1371.6 592.7C1373.7 593.1 1372.5 597.2 1369.2 600.1C1365.9 603.0 1354.0 610.4 1351.9 610.0C1349.9 609.6 1353.6 600.5 1356.8 597.6Z" fill="rgb(205,205,205)"/>
<path d="M1250.8 629.7C1253.2 628.0 1263.5 628.0 1265.6 629.7C1267.6 631.4 1265.6 638.3 1263.1 640.1C1260.6 641.8 1252.8 641.8 1250.8 640.1C1248.7 638.3 1248.3 631.4 1250.8 629.7Z" fill="rgb(205,205,205)"/>
<path d="M766.1 688.3C767.3 684.2 771.4 677.2 776.0 676.0C780.5 674.7 788.3 680.9 793.2 680.9C798.2 680.9 801.0 677.6 805.6 676.0C810.1 674.3 816.7 674.7 820.4 671.0C824.1 667.3 824.5 656.6 827.8 653.8C831.1 650.9 836.8 655.4 840.1 653.8C843.4 652.1 844.6 646.8 847.5 643.9C850.4 641.0 853.3 638.5 857.4 636.5C861.5 634.4 867.2 632.0 872.2 631.5C877.1 631.1 882.9 632.0 887.0 634.0C891.1 636.1 893.6 641.8 896.8 643.9C900.1 645.9 902.6 646.8 906.7 646.3C910.8 645.9 916.2 642.6 921.5 641.4C926.9 640.2 932.4 639.8 938.8 638.9C945.2 638.1 956.5 630.3 960.0 636.5C963.5 642.6 962.3 669.4 960.0 676.0C957.7 682.5 951.0 677.6 946.2 676.0C941.4 674.3 936.3 669.0 931.4 666.1C926.4 663.2 920.7 659.1 916.6 658.7C912.5 658.3 909.2 660.3 906.7 663.6C904.2 666.9 903.8 673.5 901.8 678.4C899.7 683.4 896.0 689.1 894.4 693.2C892.7 697.3 894.8 702.3 891.9 703.1C889.0 703.9 880.8 697.3 877.1 698.2C873.4 699.0 869.3 703.9 869.7 708.0C870.1 712.1 878.3 718.7 879.6 722.8C880.8 726.9 880.0 729.8 877.1 732.7C874.2 735.6 866.0 740.5 862.3 740.1C858.6 739.7 858.2 732.3 854.9 730.2C851.6 728.2 847.1 729.4 842.6 727.8C838.0 726.1 831.9 723.7 827.8 720.4C823.7 717.1 821.2 709.3 817.9 708.0C814.6 706.8 811.3 710.5 808.0 713.0C804.7 715.4 800.6 720.0 798.2 722.8C795.7 725.7 795.7 730.2 793.2 730.2C790.8 730.2 786.6 725.7 783.4 722.8C780.1 720.0 776.0 716.7 773.5 713.0C771.0 709.3 769.8 704.7 768.6 700.6C767.3 696.5 764.9 692.4 766.1 688.3Z" fill="rgb(191,191,191)"/>
<path d="M842.6 658.7C844.6 654.6 851.6 649.2 857.4 646.3C863.1 643.5 871.8 640.2 877.1 641.4C882.5 642.6 886.2 649.2 889.4 653.8C892.7 658.3 897.3 663.6 896.8 668.6C896.4 673.5 891.1 682.1 887.0 683.4C882.9 684.6 877.1 677.6 872.2 676.0C867.2 674.3 861.9 674.3 857.4 673.5C852.8 672.7 847.5 673.5 845.0 671.0C842.6 668.6 840.5 662.8 842.6 658.7Z" fill="rgb(202,202,202)"/>
<path d="M906.7 651.3C907.5 649.2 922.5 647.6 931.4 646.3C940.3 645.1 955.2 640.2 960.0 643.9C964.8 647.6 963.1 664.4 960.0 668.6C956.9 672.7 946.8 670.2 941.3 668.6C935.7 666.9 932.2 661.6 926.4 658.7C920.7 655.8 905.9 653.3 906.7 651.3Z" fill="rgb(202,202,202)"/>
<path d="M808.0 683.4C809.7 678.8 822.8 675.1 827.8 676.0C832.7 676.8 836.8 683.8 837.6 688.3C838.5 692.8 831.1 699.8 832.7 703.1C834.3 706.4 842.2 707.6 847.5 708.0C852.8 708.4 861.5 703.9 864.8 705.6C868.1 707.2 869.3 715.0 867.2 717.9C865.2 720.8 858.2 722.8 852.4 722.8C846.7 722.8 838.5 721.2 832.7 717.9C826.9 714.6 822.0 708.8 817.9 703.1C813.8 697.3 806.4 687.9 808.0 683.4Z" fill="rgb(205,205,205)"/>
<path d="M783.4 698.2C785.8 696.1 794.9 696.5 798.2 698.2C801.4 699.8 803.9 704.7 803.1 708.0C802.3 711.3 796.5 717.5 793.2 717.9C789.9 718.3 785.0 713.8 783.4 710.5C781.7 707.2 780.9 700.2 783.4 698.2Z" fill="rgb(0,0,0)"/>
<path d="M830.2 683.4C831.9 681.3 840.5 683.8 842.6 685.8C844.6 687.9 844.2 693.6 842.6 695.7C840.9 697.7 834.8 700.2 832.7 698.2C830.6 696.1 828.6 685.4 830.2 683.4Z" fill="rgb(0,0,0)"/>
<path d="M800.0 674.8C803.3 671.5 814.8 672.3 819.7 669.9C824.7 667.4 815.2 661.6 829.6 660.0C844.0 658.4 894.6 657.5 906.1 660.0C917.6 662.5 902.0 671.5 898.7 674.8C895.4 678.1 887.2 676.4 886.3 679.7C885.5 683.0 894.2 690.4 893.8 694.5C893.3 698.7 888.0 703.2 883.9 704.4C879.8 705.6 870.7 699.9 869.1 701.9C867.4 704.0 872.4 711.8 874.0 716.7C875.7 721.7 880.6 727.4 878.9 731.5C877.3 735.7 867.8 741.4 864.1 741.4C860.4 741.4 857.6 735.2 856.7 731.5C855.9 727.8 861.3 720.4 859.2 719.2C857.2 718.0 849.3 724.6 844.4 724.1C839.5 723.7 833.7 720.0 829.6 716.7C825.5 713.5 823.0 708.5 819.7 704.4C816.4 700.3 813.2 694.5 809.9 692.1C806.6 689.6 801.6 692.5 800.0 689.6C798.4 686.7 796.7 678.1 800.0 674.8Z" fill="rgb(198,198,198)"/>
<path d="M824.7 674.8C828.8 671.5 838.7 669.0 844.4 669.9C850.2 670.7 858.4 675.6 859.2 679.7C860.0 683.8 849.8 689.6 849.3 694.5C848.9 699.5 857.6 705.6 856.7 709.3C855.9 713.0 848.9 717.2 844.4 716.7C839.9 716.3 833.7 711.4 829.6 706.9C825.5 702.4 820.6 695.0 819.7 689.6C818.9 684.3 820.6 678.1 824.7 674.8Z" fill="rgb(212,212,212)"/>
<path d="M841.9 660.0C850.2 658.4 895.0 657.9 903.6 660.0C912.3 662.1 898.7 669.9 893.8 672.3C888.8 674.8 880.6 675.2 874.0 674.8C867.4 674.4 859.6 672.3 854.3 669.9C848.9 667.4 833.7 661.6 841.9 660.0Z" fill="rgb(202,202,202)"/>
<path d="M928.3 660.0C934.0 657.5 969.4 657.5 977.6 660.0C985.9 662.5 980.9 672.7 977.6 674.8C974.3 676.9 963.7 672.3 957.9 672.3C952.1 672.3 948.0 676.9 943.1 674.8C938.2 672.7 922.5 662.5 928.3 660.0Z" fill="rgb(205,205,205)"/>
<path d="M987.5 660.0C994.9 658.4 1029.9 658.4 1036.8 660.0C1043.8 661.6 1032.7 667.0 1029.4 669.9C1026.2 672.7 1021.6 676.4 1017.1 677.3C1012.6 678.1 1006.4 676.0 1002.3 674.8C998.2 673.6 994.9 672.3 992.4 669.9C990.0 667.4 980.1 661.6 987.5 660.0Z" fill="rgb(198,198,198)"/>
<path d="M1049.2 660.0C1057.2 657.9 1091.5 655.9 1100.0 660.0C1108.5 664.1 1102.3 680.1 1100.0 684.7C1097.7 689.2 1091.0 685.9 1086.2 687.1C1081.4 688.4 1075.5 692.9 1071.4 692.1C1067.3 691.3 1064.8 685.5 1061.5 682.2C1058.2 678.9 1053.7 676.0 1051.6 672.3C1049.6 668.6 1041.1 662.1 1049.2 660.0Z" fill="rgb(205,205,205)"/>
<path d="M940.0 641.4C941.6 636.1 945.8 636.1 949.9 636.5C954.0 636.9 960.1 641.8 964.7 643.9C969.2 645.9 972.9 646.3 977.0 648.8C981.1 651.3 984.0 657.5 989.3 658.7C994.7 659.9 1003.3 657.0 1009.1 656.2C1014.8 655.4 1021.0 656.2 1023.9 653.8C1026.8 651.3 1023.9 643.9 1026.3 641.4C1028.8 638.9 1034.6 639.4 1038.7 638.9C1042.8 638.5 1046.9 638.5 1051.0 638.9C1055.1 639.4 1061.7 638.9 1063.4 641.4C1065.0 643.9 1062.1 650.1 1060.9 653.8C1059.7 657.5 1054.7 661.2 1056.0 663.6C1057.2 666.1 1063.8 668.6 1068.3 668.6C1072.8 668.6 1077.7 665.3 1083.1 663.6C1088.4 662.0 1094.6 660.3 1100.4 658.7C1106.1 657.0 1112.3 653.3 1117.6 653.8C1123.0 654.2 1127.1 659.1 1132.4 661.2C1137.8 663.2 1143.1 664.9 1149.7 666.1C1156.3 667.3 1165.7 669.0 1171.9 668.6C1178.1 668.1 1181.8 665.3 1186.7 663.6C1191.6 662.0 1197.4 660.7 1201.5 658.7C1205.6 656.6 1207.3 652.1 1211.4 651.3C1215.5 650.5 1221.4 654.2 1226.2 653.8C1231.0 653.3 1237.7 645.1 1240.0 648.8C1242.3 652.5 1243.1 671.0 1240.0 676.0C1236.9 680.9 1227.7 677.6 1221.3 678.4C1214.8 679.2 1208.1 680.1 1201.5 680.9C1194.9 681.7 1187.1 682.1 1181.8 683.4C1176.4 684.6 1174.4 687.5 1169.4 688.3C1164.5 689.1 1158.3 687.9 1152.2 688.3C1146.0 688.7 1139.0 689.5 1132.4 690.8C1125.9 692.0 1119.3 695.3 1112.7 695.7C1106.1 696.1 1099.5 693.6 1093.0 693.2C1086.4 692.8 1078.6 694.9 1073.2 693.2C1067.9 691.6 1064.6 686.6 1060.9 683.4C1057.2 680.1 1054.7 676.8 1051.0 673.5C1047.3 670.2 1043.2 664.4 1038.7 663.6C1034.2 662.8 1028.8 666.5 1023.9 668.6C1018.9 670.6 1014.0 675.1 1009.1 676.0C1004.1 676.8 999.6 673.5 994.3 673.5C988.9 673.5 981.9 675.1 977.0 676.0C972.1 676.8 969.2 678.8 964.7 678.4C960.1 678.0 954.0 675.1 949.9 673.5C945.8 671.8 941.6 673.9 940.0 668.6C938.4 663.2 938.4 646.8 940.0 641.4Z" fill="rgb(198,198,198)"/>
<path d="M940.0 648.8C942.5 645.9 949.9 645.5 954.8 646.3C959.7 647.2 965.9 650.1 969.6 653.8C973.3 657.5 978.7 665.7 977.0 668.6C975.4 671.4 965.9 671.8 959.7 671.0C953.6 670.2 943.3 667.3 940.0 663.6C936.7 659.9 937.5 651.7 940.0 648.8Z" fill="rgb(202,202,202)"/>
<path d="M1043.6 643.9C1045.7 640.6 1058.4 641.4 1060.9 643.9C1063.4 646.3 1060.5 655.4 1058.4 658.7C1056.4 662.0 1051.0 666.1 1048.6 663.6C1046.1 661.2 1041.6 647.2 1043.6 643.9Z" fill="rgb(202,202,202)"/>
<path d="M1063.4 671.0C1065.0 668.1 1076.5 669.8 1083.1 668.6C1089.7 667.3 1096.3 664.4 1102.8 663.6C1109.4 662.8 1116.0 662.4 1122.6 663.6C1129.1 664.9 1135.7 669.4 1142.3 671.0C1148.9 672.7 1157.9 671.4 1162.0 673.5C1166.2 675.5 1169.4 681.7 1167.0 683.4C1164.5 685.0 1153.8 682.9 1147.2 683.4C1140.7 683.8 1134.1 684.6 1127.5 685.8C1120.9 687.1 1114.3 690.3 1107.8 690.8C1101.2 691.2 1093.8 689.1 1088.0 688.3C1082.3 687.5 1077.3 688.7 1073.2 685.8C1069.1 682.9 1061.7 673.9 1063.4 671.0Z" fill="rgb(202,202,202)"/>
<path d="M1171.9 673.5C1174.8 671.4 1185.1 670.6 1191.6 668.6C1198.2 666.5 1205.6 662.0 1211.4 661.2C1217.1 660.3 1221.4 664.0 1226.2 663.6C1231.0 663.2 1237.7 657.5 1240.0 658.7C1242.3 659.9 1243.9 668.6 1240.0 671.0C1236.1 673.5 1224.4 672.3 1216.3 673.5C1208.3 674.7 1198.6 677.2 1191.6 678.4C1184.7 679.7 1177.7 681.7 1174.4 680.9C1171.1 680.1 1169.0 675.5 1171.9 673.5Z" fill="rgb(212,212,212)"/>
<path d="M1137.4 671.0C1139.0 669.8 1145.6 669.8 1147.2 671.0C1148.9 672.3 1148.9 677.2 1147.2 678.4C1145.6 679.7 1139.0 679.7 1137.4 678.4C1135.7 677.2 1135.7 672.3 1137.4 671.0Z" fill="rgb(0,0,0)"/>
<path d="M1160.0 671.3C1162.5 668.4 1169.9 668.0 1174.8 666.3C1179.7 664.7 1184.7 663.5 1189.6 661.4C1194.5 659.4 1199.5 655.7 1204.4 654.0C1209.3 652.4 1214.3 653.2 1219.2 651.5C1224.1 649.9 1229.1 645.8 1234.0 644.1C1238.9 642.5 1244.7 642.9 1248.8 641.7C1252.9 640.4 1255.8 637.2 1258.7 636.7C1261.6 636.3 1263.2 637.6 1266.1 639.2C1269.0 640.9 1272.3 644.6 1276.0 646.6C1279.7 648.7 1287.1 649.9 1288.3 651.5C1289.5 653.2 1286.2 655.2 1283.4 656.5C1280.5 657.7 1275.1 657.3 1271.0 658.9C1266.9 660.6 1262.4 665.5 1258.7 666.3C1255.0 667.2 1252.1 664.7 1248.8 663.9C1245.5 663.1 1242.2 660.6 1238.9 661.4C1235.7 662.2 1232.4 666.8 1229.1 668.8C1225.8 670.9 1222.5 671.7 1219.2 673.8C1215.9 675.8 1213.5 680.3 1209.3 681.2C1205.2 682.0 1199.5 677.9 1194.5 678.7C1189.6 679.5 1183.8 684.4 1179.7 686.1C1175.6 687.7 1173.2 689.0 1169.9 688.6C1166.6 688.1 1161.6 686.5 1160.0 683.6C1158.4 680.7 1157.5 674.2 1160.0 671.3Z" fill="rgb(202,202,202)"/>
<path d="M1174.8 673.8C1175.6 672.1 1188.0 668.8 1194.5 666.3C1201.1 663.9 1207.7 661.0 1214.3 658.9C1220.9 656.9 1227.4 656.1 1234.0 654.0C1240.6 652.0 1248.0 647.0 1253.8 646.6C1259.5 646.2 1267.7 649.5 1268.6 651.5C1269.4 653.6 1262.8 658.1 1258.7 658.9C1254.6 659.8 1249.6 655.7 1243.9 656.5C1238.1 657.3 1229.9 661.0 1224.1 663.9C1218.4 666.8 1215.1 671.7 1209.3 673.8C1203.6 675.8 1195.4 676.2 1189.6 676.2C1183.8 676.2 1174.0 675.4 1174.8 673.8Z" fill="rgb(202,202,202)"/>
<path d="M1248.8 629.3C1250.5 628.3 1257.0 628.3 1258.7 629.3C1260.3 630.4 1260.3 634.5 1258.7 635.5C1257.0 636.5 1250.5 636.5 1248.8 635.5C1247.2 634.5 1247.2 630.4 1248.8 629.3Z" fill="rgb(191,191,191)"/>
<path d="M1352.4 599.7C1354.9 597.3 1366.8 592.7 1369.7 592.3C1372.6 591.9 1372.2 594.8 1369.7 597.3C1367.2 599.7 1357.8 606.7 1354.9 607.1C1352.0 607.5 1350.0 602.2 1352.4 599.7Z" fill="rgb(205,205,205)"/>
</g>
<g filter="url(#fcw)"><rect x="280" y="180" width="1340" height="712" fill="#000"/>
<path d="M448.3 590.1C449.1 588.0 455.7 588.9 458.2 590.1C460.6 591.3 463.9 595.4 463.1 597.5C462.3 599.6 455.7 603.7 453.2 602.4C450.8 601.2 447.5 592.2 448.3 590.1Z" fill="rgb(151,151,151)"/>
<path d="M477.9 582.7C479.5 580.6 493.5 581.1 497.6 582.7C501.7 584.3 504.2 590.5 502.6 592.6C500.9 594.6 491.9 596.7 487.8 595.0C483.7 593.4 476.3 584.8 477.9 582.7Z" fill="rgb(113,113,113)"/>
<path d="M551.9 580.2C553.6 577.4 560.1 577.4 561.8 580.2C563.4 583.1 563.4 594.6 561.8 597.5C560.1 600.4 553.6 600.4 551.9 597.5C550.3 594.6 550.3 583.1 551.9 580.2Z" fill="rgb(113,113,113)"/>
<path d="M458.2 558.0C463.9 552.3 478.7 561.3 492.7 563.0C506.7 564.6 533.8 560.5 542.0 567.9C550.3 575.3 550.3 600.0 542.0 607.4C533.8 614.8 506.7 613.9 492.7 612.3C478.7 610.7 463.9 606.5 458.2 597.5C452.4 588.5 452.4 563.8 458.2 558.0Z" fill="rgb(91,91,91)"/>
<path d="M449.3 589.3C451.0 587.7 457.6 587.7 459.2 589.3C460.9 591.0 460.9 597.6 459.2 599.2C457.6 600.9 451.0 600.9 449.3 599.2C447.7 597.6 447.7 591.0 449.3 589.3Z" fill="rgb(170,170,170)"/>
<path d="M474.0 579.5C478.1 577.4 497.9 575.4 503.6 577.0C509.4 578.7 510.2 586.5 508.6 589.3C506.9 592.2 498.7 594.3 493.8 594.3C488.8 594.3 482.2 591.8 478.9 589.3C475.7 586.9 469.9 581.5 474.0 579.5Z" fill="rgb(104,104,104)"/>
<path d="M464.1 623.9C466.2 621.8 476.5 620.6 481.4 621.4C486.3 622.2 493.3 625.9 493.8 628.8C494.2 631.7 488.0 637.9 483.9 638.7C479.8 639.5 472.4 636.2 469.1 633.8C465.8 631.3 462.1 625.9 464.1 623.9Z" fill="rgb(142,142,142)"/>
<path d="M498.7 609.1C500.7 607.0 514.3 609.1 518.4 611.5C522.5 614.0 525.4 621.8 523.4 623.9C521.3 625.9 510.2 626.3 506.1 623.9C502.0 621.4 496.6 611.1 498.7 609.1Z" fill="rgb(94,94,94)"/>
<path d="M622.0 648.6C624.5 646.5 631.1 644.4 636.8 646.1C642.6 647.7 654.1 655.1 656.6 658.4C659.0 661.7 654.9 665.4 651.6 665.8C648.4 666.2 641.8 662.1 636.8 660.9C631.9 659.7 624.5 660.5 622.0 658.4C619.6 656.4 619.6 650.6 622.0 648.6Z" fill="rgb(113,113,113)"/>
<path d="M607.2 685.6C609.3 683.9 619.6 681.9 622.0 683.1C624.5 684.3 624.1 691.3 622.0 693.0C620.0 694.6 612.2 694.2 609.7 693.0C607.2 691.7 605.2 687.2 607.2 685.6Z" fill="rgb(94,94,94)"/>
<path d="M753.8 727.8C755.4 727.8 764.4 738.5 768.6 742.6C772.7 746.7 777.6 750.0 778.4 752.4C779.2 754.9 776.8 759.0 773.5 757.4C770.2 755.7 762.0 747.5 758.7 742.6C755.4 737.6 752.1 727.8 753.8 727.8Z" fill="rgb(94,94,94)"/>
<path d="M548.0 577.0C551.3 572.5 563.7 570.0 567.8 574.5C571.9 579.1 574.3 597.6 572.7 604.1C571.1 610.7 562.0 614.4 557.9 614.0C553.8 613.6 549.7 607.8 548.0 601.7C546.4 595.5 544.7 581.5 548.0 577.0Z" fill="rgb(104,104,104)"/>
<path d="M617.1 646.1C620.0 643.6 629.9 642.4 636.8 643.6C643.8 644.9 655.3 649.4 659.0 653.5C662.7 657.6 662.7 666.6 659.0 668.3C655.3 669.9 643.4 665.0 636.8 663.4C630.3 661.7 622.9 661.3 619.6 658.4C616.3 655.5 614.2 648.6 617.1 646.1Z" fill="rgb(104,104,104)"/>
<path d="M461.7 584.4C468.3 580.3 500.7 577.0 513.5 579.5C526.2 581.9 535.7 593.5 538.2 599.2C540.6 605.0 534.0 612.4 528.3 614.0C522.5 615.7 512.7 610.7 503.6 609.1C494.6 607.4 481.0 608.3 474.0 604.1C467.0 600.0 455.1 588.5 461.7 584.4Z" fill="rgb(113,113,113)"/>
<path d="M734.0 708.0C736.5 707.6 748.4 713.0 753.8 717.9C759.1 722.8 762.0 731.5 766.1 737.6C770.2 743.8 778.0 751.6 778.4 754.9C778.8 758.2 772.7 760.2 768.6 757.4C764.4 754.5 758.7 743.8 753.8 737.6C748.8 731.5 742.2 725.3 738.9 720.4C735.7 715.4 731.5 708.4 734.0 708.0Z" fill="rgb(94,94,94)"/>
</g>
<g filter="url(#fls)"><rect x="280" y="180" width="1340" height="712" fill="#000"/>
<path d="M778.4 742.6C780.1 740.5 788.3 739.7 793.2 737.6C798.2 735.6 803.9 732.3 808.0 730.2C812.1 728.2 814.6 724.9 817.9 725.3C821.2 725.7 824.5 730.6 827.8 732.7C831.1 734.8 834.3 735.6 837.6 737.6C840.9 739.7 844.2 743.0 847.5 745.0C850.8 747.1 853.3 749.6 857.4 750.0C861.5 750.4 867.2 749.1 872.2 747.5C877.1 745.9 882.9 742.6 887.0 740.1C891.1 737.6 896.0 736.4 896.8 732.7C897.7 729.0 891.1 722.0 891.9 717.9C892.7 713.8 897.7 710.9 901.8 708.0C905.9 705.1 911.6 701.0 916.6 700.6C921.5 700.2 926.4 704.3 931.4 705.6C936.3 706.8 941.4 708.0 946.2 708.0C951.0 708.0 957.7 702.3 960.0 705.6C962.3 708.8 962.7 724.9 960.0 727.8C957.3 730.6 949.3 723.7 943.7 722.8C938.1 722.0 931.0 721.2 926.4 722.8C921.9 724.5 919.9 729.8 916.6 732.7C913.3 735.6 910.8 737.6 906.7 740.1C902.6 742.6 896.8 745.0 891.9 747.5C887.0 750.0 882.9 753.7 877.1 754.9C871.4 756.1 863.1 755.7 857.4 754.9C851.6 754.1 847.5 752.0 842.6 750.0C837.6 747.9 832.7 744.6 827.8 742.6C822.8 740.5 817.9 737.2 813.0 737.6C808.0 738.0 803.1 743.0 798.2 745.0C793.2 747.1 786.6 750.4 783.4 750.0C780.1 749.6 776.8 744.6 778.4 742.6Z" fill="rgb(199,199,199)"/>
<path d="M901.8 713.0C904.2 710.5 911.6 708.0 916.6 708.0C921.5 708.0 926.4 711.7 931.4 713.0C936.3 714.2 941.4 715.0 946.2 715.4C951.0 715.8 957.7 713.8 960.0 715.4C962.3 717.1 964.8 724.5 960.0 725.3C955.2 726.1 939.4 720.0 931.4 720.4C923.3 720.8 916.6 727.4 911.6 727.8C906.7 728.2 903.4 725.3 901.8 722.8C900.1 720.4 899.3 715.4 901.8 713.0Z" fill="rgb(232,232,232)"/>
<path d="M914.1 656.2C915.3 654.2 920.3 654.2 921.5 656.2C922.7 658.3 922.7 666.5 921.5 668.6C920.3 670.6 915.3 670.6 914.1 668.6C912.9 666.5 912.9 658.3 914.1 656.2Z" fill="rgb(206,206,206)"/>
<path d="M800.0 731.5C802.5 729.5 809.9 726.2 814.8 726.6C819.7 727.0 825.5 731.1 829.6 734.0C833.7 736.9 835.4 741.0 839.5 743.9C843.6 746.8 849.3 750.9 854.3 751.3C859.2 751.7 864.1 748.0 869.1 746.3C874.0 744.7 879.4 743.5 883.9 741.4C888.4 739.4 893.8 737.3 896.2 734.0C898.7 730.7 899.9 724.1 898.7 721.7C897.5 719.2 888.8 721.7 888.8 719.2C888.8 716.7 895.4 709.3 898.7 706.9C902.0 704.4 905.7 706.1 908.6 704.4C911.4 702.8 912.7 697.0 916.0 697.0C919.2 697.0 923.8 702.4 928.3 704.4C932.8 706.5 938.2 708.9 943.1 709.3C948.0 709.8 953.0 707.7 957.9 706.9C962.8 706.1 967.8 704.0 972.7 704.4C977.6 704.8 983.4 710.2 987.5 709.3C991.6 708.5 993.7 701.1 997.4 699.5C1001.1 697.8 1006.4 697.8 1009.7 699.5C1013.0 701.1 1013.4 707.3 1017.1 709.3C1020.8 711.4 1027.0 711.8 1031.9 711.8C1036.8 711.8 1041.0 709.8 1046.7 709.3C1052.5 708.9 1060.7 708.9 1066.4 709.3C1072.2 709.8 1075.7 711.8 1081.3 711.8C1086.8 711.8 1096.9 706.9 1100.0 709.3C1103.1 711.8 1103.1 723.3 1100.0 726.6C1096.9 729.9 1086.8 729.5 1081.3 729.1C1075.7 728.7 1072.2 725.0 1066.4 724.1C1060.7 723.3 1052.5 722.5 1046.7 724.1C1041.0 725.8 1036.8 732.8 1031.9 734.0C1027.0 735.2 1022.0 733.2 1017.1 731.5C1012.2 729.9 1007.2 725.0 1002.3 724.1C997.4 723.3 992.4 727.0 987.5 726.6C982.6 726.2 977.6 722.1 972.7 721.7C967.8 721.3 962.8 724.6 957.9 724.1C953.0 723.7 948.0 720.4 943.1 719.2C938.2 718.0 932.8 715.5 928.3 716.7C923.8 718.0 919.2 723.3 916.0 726.6C912.7 729.9 911.4 734.0 908.6 736.5C905.7 738.9 902.8 739.4 898.7 741.4C894.6 743.5 888.8 746.8 883.9 748.8C878.9 750.9 874.0 752.5 869.1 753.8C864.1 755.0 859.2 757.0 854.3 756.2C849.3 755.4 844.4 751.3 839.5 748.8C834.5 746.3 829.6 743.5 824.7 741.4C819.7 739.4 814.0 736.9 809.9 736.5C805.8 736.1 801.6 739.8 800.0 738.9C798.4 738.1 797.5 733.6 800.0 731.5Z" fill="rgb(206,206,206)"/>
<path d="M903.6 716.7C904.0 714.3 911.0 710.2 916.0 709.3C920.9 708.5 927.1 711.0 933.2 711.8C939.4 712.6 946.4 714.3 953.0 714.3C959.5 714.3 966.9 711.4 972.7 711.8C978.5 712.2 981.7 715.9 987.5 716.7C993.3 717.6 1001.5 716.3 1007.2 716.7C1013.0 717.2 1016.3 719.2 1022.0 719.2C1027.8 719.2 1035.2 717.2 1041.8 716.7C1048.4 716.3 1054.9 716.3 1061.5 716.7C1068.1 717.2 1074.8 719.2 1081.3 719.2C1087.7 719.2 1096.9 715.9 1100.0 716.7C1103.1 717.6 1104.8 723.3 1100.0 724.1C1095.2 725.0 1080.3 722.1 1071.4 721.7C1062.5 721.3 1054.9 720.9 1046.7 721.7C1038.5 722.5 1030.3 726.6 1022.0 726.6C1013.8 726.6 1005.6 722.9 997.4 721.7C989.1 720.4 980.9 719.4 972.7 719.2C964.5 719.0 955.4 721.3 948.0 720.4C940.6 719.6 934.0 713.7 928.3 714.3C922.5 714.9 917.6 723.7 913.5 724.1C909.4 724.6 903.2 719.2 903.6 716.7Z" fill="rgb(235,235,235)"/>
<path d="M940.0 708.0C942.5 705.6 949.9 706.4 954.8 705.6C959.7 704.7 964.7 702.7 969.6 703.1C974.5 703.5 980.3 708.8 984.4 708.0C988.5 707.2 990.6 699.4 994.3 698.2C998.0 696.9 1003.3 698.2 1006.6 700.6C1009.9 703.1 1010.3 710.9 1014.0 713.0C1017.7 715.0 1023.9 713.4 1028.8 713.0C1033.8 712.6 1037.9 710.5 1043.6 710.5C1049.4 710.5 1059.2 714.2 1063.4 713.0C1067.5 711.7 1065.8 703.1 1068.3 703.1C1070.8 703.1 1073.2 711.7 1078.2 713.0C1083.1 714.2 1092.1 709.7 1097.9 710.5C1103.7 711.3 1107.8 716.7 1112.7 717.9C1117.6 719.1 1121.7 717.9 1127.5 717.9C1133.3 717.9 1142.3 719.1 1147.2 717.9C1152.2 716.7 1153.4 713.0 1157.1 710.5C1160.8 708.0 1164.5 703.9 1169.4 703.1C1174.4 702.3 1181.4 704.7 1186.7 705.6C1192.1 706.4 1196.6 708.4 1201.5 708.0C1206.4 707.6 1211.4 704.3 1216.3 703.1C1221.3 701.9 1227.2 701.4 1231.1 700.6C1235.1 699.8 1238.5 695.3 1240.0 698.2C1241.5 701.0 1241.5 713.8 1240.0 717.9C1238.5 722.0 1235.1 721.2 1231.1 722.8C1227.2 724.5 1221.3 728.2 1216.3 727.8C1211.4 727.4 1206.4 721.2 1201.5 720.4C1196.6 719.5 1190.8 720.8 1186.7 722.8C1182.6 724.9 1180.1 729.8 1176.8 732.7C1173.6 735.6 1169.9 740.1 1167.0 740.1C1164.1 740.1 1162.9 735.2 1159.6 732.7C1156.3 730.2 1152.6 726.9 1147.2 725.3C1141.9 723.7 1133.3 722.8 1127.5 722.8C1121.7 722.8 1117.6 725.3 1112.7 725.3C1107.8 725.3 1103.7 722.8 1097.9 722.8C1092.1 722.8 1083.9 725.3 1078.2 725.3C1072.4 725.3 1069.1 722.8 1063.4 722.8C1057.6 722.8 1049.4 724.1 1043.6 725.3C1037.9 726.5 1033.8 729.0 1028.8 730.2C1023.9 731.5 1018.9 733.1 1014.0 732.7C1009.1 732.3 1004.1 729.4 999.2 727.8C994.3 726.1 989.3 724.1 984.4 722.8C979.5 721.6 974.5 720.4 969.6 720.4C964.7 720.4 959.7 722.8 954.8 722.8C949.9 722.8 942.5 722.8 940.0 720.4C937.5 717.9 937.5 710.5 940.0 708.0Z" fill="rgb(213,213,213)"/>
<path d="M940.0 711.7C944.1 710.3 957.3 709.1 964.7 709.3C972.1 709.5 977.8 712.8 984.4 713.0C991.0 713.2 998.4 709.3 1004.1 710.5C1009.9 711.7 1012.4 719.1 1018.9 720.4C1025.5 721.6 1036.2 718.3 1043.6 717.9C1051.0 717.5 1061.3 717.1 1063.4 717.9C1065.4 718.7 1060.9 721.6 1056.0 722.8C1051.0 724.1 1040.7 724.5 1033.8 725.3C1026.8 726.1 1020.6 728.6 1014.0 727.8C1007.4 726.9 1001.7 722.2 994.3 720.4C986.9 718.5 978.7 717.1 969.6 716.7C960.6 716.3 944.9 718.7 940.0 717.9C935.1 717.1 935.9 713.2 940.0 711.7Z" fill="rgb(227,227,227)"/>
<path d="M1152.2 717.9C1153.8 715.8 1161.2 713.8 1167.0 713.0C1172.7 712.1 1185.1 710.9 1186.7 713.0C1188.4 715.0 1180.5 722.0 1176.8 725.3C1173.1 728.6 1167.8 732.7 1164.5 732.7C1161.2 732.7 1159.2 727.8 1157.1 725.3C1155.1 722.8 1150.5 720.0 1152.2 717.9Z" fill="rgb(227,227,227)"/>
<path d="M1201.5 710.5C1204.8 708.8 1214.8 708.8 1221.3 708.0C1227.7 707.2 1236.9 704.3 1240.0 705.6C1243.1 706.8 1243.9 713.0 1240.0 715.4C1236.1 717.9 1222.7 720.0 1216.3 720.4C1209.9 720.8 1204.0 719.5 1201.5 717.9C1199.0 716.3 1198.2 712.1 1201.5 710.5Z" fill="rgb(220,220,220)"/>
<path d="M1233.6 685.8C1234.5 683.4 1238.9 681.3 1240.0 683.4C1241.1 685.4 1240.9 695.7 1240.0 698.2C1239.1 700.6 1235.9 700.2 1234.8 698.2C1233.8 696.1 1232.7 688.3 1233.6 685.8Z" fill="rgb(206,206,206)"/>
<path d="M1169.9 708.3C1173.2 707.1 1176.0 703.4 1179.7 703.4C1183.4 703.4 1188.0 708.3 1192.1 708.3C1196.2 708.3 1199.9 703.8 1204.4 703.4C1208.9 702.9 1215.9 706.6 1219.2 705.8C1222.5 705.0 1221.7 698.8 1224.1 698.4C1226.6 698.0 1232.4 704.6 1234.0 703.4C1235.7 702.1 1233.2 694.3 1234.0 691.0C1234.8 687.7 1236.9 685.3 1238.9 683.6C1241.0 682.0 1244.3 680.7 1246.3 681.2C1248.4 681.6 1251.3 683.2 1251.3 686.1C1251.3 689.0 1247.6 694.3 1246.3 698.4C1245.1 702.5 1245.9 707.5 1243.9 710.8C1241.8 714.0 1236.5 715.3 1234.0 718.2C1231.5 721.0 1232.0 726.4 1229.1 728.0C1226.2 729.7 1220.9 728.4 1216.7 728.0C1212.6 727.6 1208.9 725.6 1204.4 725.6C1199.9 725.6 1194.5 726.8 1189.6 728.0C1184.7 729.3 1179.7 731.3 1174.8 733.0C1169.9 734.6 1162.5 741.6 1160.0 737.9C1157.5 734.2 1158.4 715.7 1160.0 710.8C1161.6 705.8 1166.6 709.5 1169.9 708.3Z" fill="rgb(217,217,217)"/>
<path d="M1160.0 718.2C1162.5 714.9 1169.0 713.6 1174.8 713.2C1180.6 712.8 1188.0 715.7 1194.5 715.7C1201.1 715.7 1208.5 714.0 1214.3 713.2C1220.0 712.4 1227.0 709.5 1229.1 710.8C1231.1 712.0 1229.9 718.6 1226.6 720.6C1223.3 722.7 1216.3 722.3 1209.3 723.1C1202.4 723.9 1192.9 723.9 1184.7 725.6C1176.4 727.2 1164.1 734.2 1160.0 733.0C1155.9 731.7 1157.5 721.4 1160.0 718.2Z" fill="rgb(227,227,227)"/>
<path d="M1150.0 700.0C1152.9 695.7 1163.6 698.6 1167.2 700.0C1170.8 701.4 1168.7 706.5 1171.5 708.6C1174.4 710.8 1179.4 713.3 1184.4 712.9C1189.5 712.6 1196.6 707.9 1201.7 706.5C1206.7 705.0 1209.6 705.4 1214.6 704.3C1219.6 703.2 1226.8 700.7 1231.8 700.0C1236.8 699.3 1242.9 698.2 1244.7 700.0C1246.5 701.8 1244.7 708.3 1242.6 710.8C1240.4 713.3 1235.0 713.3 1231.8 715.1C1228.6 716.9 1225.0 718.7 1223.2 721.5C1221.4 724.4 1223.2 730.5 1221.0 732.3C1218.9 734.1 1213.5 733.7 1210.3 732.3C1207.0 730.9 1205.2 724.4 1201.7 723.7C1198.1 723.0 1192.3 726.2 1188.7 728.0C1185.2 729.8 1183.0 733.0 1180.1 734.4C1177.3 735.9 1174.4 737.3 1171.5 736.6C1168.7 735.9 1166.5 731.9 1162.9 730.1C1159.3 728.3 1152.2 730.9 1150.0 725.8C1147.8 720.8 1147.1 704.3 1150.0 700.0Z" fill="rgb(220,220,220)"/>
<path d="M1097.9 705.6C1101.2 702.3 1111.1 705.1 1117.6 705.6C1124.2 706.0 1130.8 707.6 1137.4 708.0C1143.9 708.4 1153.8 704.7 1157.1 708.0C1160.4 711.3 1160.4 724.9 1157.1 727.8C1153.8 730.6 1143.9 725.3 1137.4 725.3C1130.8 725.3 1124.2 727.8 1117.6 727.8C1111.1 727.8 1101.2 729.0 1097.9 725.3C1094.6 721.6 1094.6 708.8 1097.9 705.6Z" fill="rgb(220,220,220)"/>
</g>
<g filter="url(#flw)"><rect x="280" y="180" width="1340" height="712" fill="#000"/>
<path d="M557.9 628.8C560.0 626.8 567.8 625.5 572.7 626.3C577.6 627.2 587.5 631.7 587.5 633.8C587.5 635.8 577.2 637.9 572.7 638.7C568.2 639.5 562.8 640.3 560.4 638.7C557.9 637.0 555.8 630.9 557.9 628.8Z" fill="rgb(129,129,129)"/>
<path d="M587.5 663.4C587.9 659.2 594.9 656.0 597.4 658.4C599.8 660.9 599.4 674.5 602.3 678.2C605.2 681.9 611.4 679.0 614.6 680.6C617.9 682.3 623.3 686.4 622.0 688.0C620.8 689.7 611.8 691.3 607.2 690.5C602.7 689.7 598.2 687.6 594.9 683.1C591.6 678.6 587.1 667.5 587.5 663.4Z" fill="rgb(147,147,147)"/>
<path d="M503.6 638.7C504.9 636.2 511.4 634.6 513.5 636.2C515.5 637.9 517.2 646.1 516.0 648.6C514.7 651.0 508.1 652.7 506.1 651.0C504.0 649.4 502.4 641.2 503.6 638.7Z" fill="rgb(110,110,110)"/>
<path d="M468.0 567.9C474.6 563.8 506.7 567.9 517.4 572.8C528.1 577.8 533.8 591.7 532.2 597.5C530.5 603.3 516.5 607.4 507.5 607.4C498.5 607.4 484.5 604.1 477.9 597.5C471.3 590.9 461.4 572.0 468.0 567.9Z" fill="rgb(119,119,119)"/>
<path d="M553.0 621.4C556.3 618.9 566.1 621.0 572.7 623.9C579.3 626.8 585.0 633.3 592.4 638.7C599.8 644.0 612.2 650.2 617.1 656.0C622.0 661.7 622.9 667.9 622.0 673.2C621.2 678.6 616.3 687.2 612.2 688.0C608.1 688.8 601.5 683.5 597.4 678.2C593.3 672.8 592.4 661.7 587.5 656.0C582.6 650.2 573.5 646.5 567.8 643.6C562.0 640.7 555.4 642.4 553.0 638.7C550.5 635.0 549.7 623.9 553.0 621.4Z" fill="rgb(129,129,129)"/>
<path d="M498.7 621.4C501.6 616.9 512.7 617.7 516.0 621.4C519.2 625.1 519.7 637.5 518.4 643.6C517.2 649.8 511.8 657.6 508.6 658.4C505.3 659.2 500.3 654.7 498.7 648.6C497.0 642.4 495.8 625.9 498.7 621.4Z" fill="rgb(129,129,129)"/>
</g>
<g filter="url(#fps)"><rect x="280" y="180" width="1340" height="712" fill="#000"/>
<path d="M832.1 746.3C832.9 745.5 839.9 756.6 844.4 758.7C848.9 760.7 854.3 757.9 859.2 758.7C864.1 759.5 869.9 764.9 874.0 763.6C878.1 762.4 879.8 752.5 883.9 751.3C888.0 750.1 894.6 756.6 898.7 756.2C902.8 755.8 905.3 749.6 908.6 748.8C911.8 748.0 914.3 751.7 918.4 751.3C922.5 750.9 929.1 748.8 933.2 746.3C937.3 743.9 939.0 738.1 943.1 736.5C947.2 734.8 953.8 735.7 957.9 736.5C962.0 737.3 967.4 738.9 967.8 741.4C968.2 743.9 962.8 748.4 960.4 751.3C957.9 754.2 956.7 756.2 953.0 758.7C949.3 761.2 943.1 763.6 938.2 766.1C933.2 768.6 927.1 771.4 923.4 773.5C919.7 775.5 918.4 776.8 916.0 778.4C913.5 780.1 911.4 783.8 908.6 783.4C905.7 782.9 902.8 776.8 898.7 776.0C894.6 775.1 888.0 779.7 883.9 778.4C879.8 777.2 878.1 769.4 874.0 768.6C869.9 767.7 863.3 771.8 859.2 773.5C855.1 775.1 852.6 780.1 849.3 778.4C846.1 776.8 842.4 769.0 839.5 763.6C836.6 758.3 831.3 747.2 832.1 746.3Z" fill="rgb(208,208,208)"/>
<path d="M874.0 763.6C875.2 761.6 883.1 759.5 888.8 758.7C894.6 757.9 902.0 759.5 908.6 758.7C915.1 757.9 921.7 756.2 928.3 753.8C934.9 751.3 943.1 745.1 948.0 743.9C953.0 742.6 959.5 743.5 957.9 746.3C956.3 749.2 944.7 757.5 938.2 761.2C931.6 764.9 925.0 766.9 918.4 768.6C911.8 770.2 904.9 770.6 898.7 771.0C892.5 771.4 885.5 772.3 881.4 771.0C877.3 769.8 872.8 765.7 874.0 763.6Z" fill="rgb(216,216,216)"/>
<path d="M1051.6 736.5C1052.9 734.0 1058.2 731.5 1061.5 731.5C1064.8 731.5 1068.1 736.1 1071.4 736.5C1074.7 736.9 1079.2 732.8 1081.3 734.0C1083.3 735.2 1085.4 741.0 1083.7 743.9C1082.1 746.8 1075.1 749.6 1071.4 751.3C1067.7 752.9 1064.8 752.5 1061.5 753.8C1058.2 755.0 1054.1 758.7 1051.6 758.7C1049.2 758.7 1046.3 755.8 1046.7 753.8C1047.1 751.7 1053.3 749.2 1054.1 746.3C1054.9 743.5 1050.4 738.9 1051.6 736.5Z" fill="rgb(191,191,191)"/>
<path d="M940.0 737.6C942.1 731.5 949.0 732.3 952.3 732.7C955.6 733.1 959.3 736.4 959.7 740.1C960.1 743.8 956.9 750.8 954.8 754.9C952.7 759.0 949.9 762.3 947.4 764.8C944.9 767.2 941.2 774.2 940.0 769.7C938.8 765.2 937.9 743.8 940.0 737.6Z" fill="rgb(205,205,205)"/>
<path d="M1053.5 732.7C1055.5 730.6 1060.1 727.4 1063.4 727.8C1066.6 728.2 1070.8 732.3 1073.2 735.2C1075.7 738.0 1079.0 742.2 1078.2 745.0C1077.3 747.9 1072.0 752.0 1068.3 752.4C1064.6 752.8 1058.8 749.6 1056.0 747.5C1053.1 745.4 1051.4 742.6 1051.0 740.1C1050.6 737.6 1051.4 734.8 1053.5 732.7Z" fill="rgb(191,191,191)"/>
<path d="M1218.8 754.9C1220.0 751.6 1225.1 749.1 1228.7 747.5C1232.2 745.9 1238.1 739.6 1240.0 745.0C1241.9 750.5 1242.3 774.2 1240.0 780.1C1237.7 785.9 1229.3 782.2 1226.2 780.1C1223.1 777.9 1222.5 771.4 1221.3 767.2C1220.0 763.0 1217.6 758.2 1218.8 754.9Z" fill="rgb(205,205,205)"/>
<path d="M1238.9 725.6C1239.8 721.9 1242.6 721.0 1243.9 723.1C1245.1 725.1 1245.5 733.0 1246.3 737.9C1247.2 742.8 1247.6 748.6 1248.8 752.7C1250.1 756.8 1254.6 760.5 1253.8 762.6C1252.9 764.6 1247.2 764.2 1243.9 765.0C1240.6 765.9 1236.9 765.4 1234.0 767.5C1231.1 769.6 1228.7 776.5 1226.6 777.4C1224.6 778.2 1222.9 776.1 1221.7 772.4C1220.4 768.7 1218.4 759.3 1219.2 755.2C1220.0 751.1 1223.3 749.4 1226.6 747.8C1229.9 746.1 1236.9 749.0 1238.9 745.3C1241.0 741.6 1238.1 729.3 1238.9 725.6Z" fill="rgb(205,205,205)"/>
<path d="M1238.3 723.7C1239.3 720.1 1242.9 719.0 1244.7 721.5C1246.5 724.0 1247.6 733.0 1249.0 738.7C1250.4 744.5 1253.0 752.0 1253.3 756.0C1253.7 759.9 1253.3 761.0 1251.2 762.4C1249.0 763.9 1243.6 764.2 1240.4 764.6C1237.2 764.9 1233.6 762.8 1231.8 764.6C1230.0 766.4 1231.1 773.5 1229.6 775.3C1228.2 777.1 1224.8 777.5 1223.2 775.3C1221.6 773.2 1220.3 766.4 1220.0 762.4C1219.6 758.5 1219.1 754.2 1221.0 751.7C1223.0 749.1 1228.9 748.8 1231.8 747.4C1234.7 745.9 1237.2 747.0 1238.3 743.0C1239.3 739.1 1237.2 727.3 1238.3 723.7Z" fill="rgb(208,208,208)"/>
</g>
<g filter="url(#fpw)"><rect x="280" y="180" width="1340" height="712" fill="#000"/>
<path d="M522.3 612.3C524.8 608.1 537.1 603.7 542.0 604.9C547.0 606.1 551.1 615.5 551.9 619.7C552.7 623.9 551.1 628.3 547.0 630.1C542.9 631.8 531.4 633.0 527.2 630.1C523.1 627.1 519.8 616.5 522.3 612.3Z" fill="rgb(151,151,151)"/>
<path d="M516.0 621.4C518.8 618.1 527.9 614.8 533.2 614.0C538.6 613.2 545.1 614.0 548.0 616.5C550.9 618.9 550.9 623.9 550.5 628.8C550.1 633.8 546.8 640.7 545.6 646.1C544.3 651.4 546.0 658.0 543.1 660.9C540.2 663.8 532.8 663.8 528.3 663.4C523.8 662.9 518.8 661.3 516.0 658.4C513.1 655.5 511.0 650.2 511.0 646.1C511.0 642.0 515.1 637.9 516.0 633.8C516.8 629.6 513.1 624.7 516.0 621.4Z" fill="rgb(189,189,189)"/>
<path d="M548.0 621.4C550.1 618.9 558.7 621.8 562.8 623.9C566.9 625.9 568.6 631.3 572.7 633.8C576.8 636.2 583.4 639.1 587.5 638.7C591.6 638.3 593.3 631.3 597.4 631.3C601.5 631.3 608.9 635.0 612.2 638.7C615.5 642.4 618.3 650.6 617.1 653.5C615.9 656.4 608.5 653.5 604.8 656.0C601.1 658.4 597.4 664.6 594.9 668.3C592.4 672.0 593.7 676.5 590.0 678.2C586.3 679.8 577.6 679.4 572.7 678.2C567.8 676.9 563.7 674.0 560.4 670.8C557.1 667.5 553.4 662.1 553.0 658.4C552.6 654.7 558.3 651.8 557.9 648.6C557.5 645.3 552.1 643.2 550.5 638.7C548.8 634.2 546.0 623.9 548.0 621.4Z" fill="rgb(170,170,170)"/>
</g>
<g filter="url(#fks)"><rect x="280" y="180" width="1340" height="712" fill="#000"/>
<path d="M860.4 793.2C861.3 790.3 868.5 789.9 871.5 790.8C874.6 791.6 878.1 795.3 878.9 798.2C879.8 801.0 876.1 804.7 876.5 808.0C876.9 811.3 878.9 817.9 881.4 817.9C883.9 817.9 888.4 811.3 891.3 808.0C894.2 804.7 896.2 799.4 898.7 798.2C901.2 796.9 904.4 797.3 906.1 800.6C907.7 803.9 907.7 812.6 908.6 817.9C909.4 823.2 911.8 830.6 911.0 832.7C910.2 834.8 906.5 831.9 903.6 830.2C900.7 828.6 897.0 822.8 893.8 822.8C890.5 822.8 887.2 830.2 883.9 830.2C880.6 830.2 876.9 826.5 874.0 822.8C871.1 819.1 868.9 813.0 866.6 808.0C864.4 803.1 859.6 796.1 860.4 793.2Z" fill="rgb(198,198,198)"/>
<path d="M883.9 817.9C883.9 816.3 890.5 811.3 893.8 810.5C897.0 809.7 901.6 810.5 903.6 813.0C905.7 815.4 907.7 824.1 906.1 825.3C904.4 826.5 897.5 821.6 893.8 820.4C890.1 819.1 883.9 819.5 883.9 817.9Z" fill="rgb(219,219,219)"/>
<path d="M1231.5 782.3C1233.6 777.7 1238.1 774.5 1241.4 772.4C1244.7 770.4 1249.2 768.3 1251.3 770.0C1253.3 771.6 1254.2 778.6 1253.8 782.3C1253.3 786.0 1250.9 789.2 1248.8 792.2C1246.8 795.1 1244.7 798.8 1241.4 800.1C1238.1 801.4 1230.7 803.0 1229.1 800.1C1227.4 797.1 1229.5 786.9 1231.5 782.3Z" fill="rgb(205,205,205)"/>
<path d="M1227.5 790.4C1229.3 787.2 1233.2 784.7 1236.1 781.8C1239.0 778.9 1242.2 775.0 1244.7 773.2C1247.2 771.4 1249.4 770.0 1251.2 771.0C1253.0 772.1 1255.5 777.1 1255.5 779.6C1255.5 782.2 1250.4 783.2 1251.2 786.1C1251.9 789.0 1256.9 794.0 1259.8 796.9C1262.6 799.7 1266.8 800.4 1268.4 803.3C1270.0 806.2 1270.5 811.9 1269.5 814.1C1268.4 816.2 1262.8 814.1 1261.9 816.2C1261.0 818.4 1265.2 824.5 1264.1 827.0C1263.0 829.5 1258.7 830.9 1255.5 831.3C1252.2 831.7 1247.9 830.9 1244.7 829.1C1241.5 827.4 1238.6 823.8 1236.1 820.5C1233.6 817.3 1231.4 813.0 1229.6 809.8C1227.8 806.5 1225.7 804.4 1225.3 801.2C1225.0 797.9 1225.7 793.6 1227.5 790.4Z" fill="rgb(205,205,205)"/>
<path d="M1240.4 786.1C1242.6 782.2 1246.9 776.1 1249.0 775.3C1251.2 774.6 1253.7 779.3 1253.3 781.8C1253.0 784.3 1247.2 787.2 1246.9 790.4C1246.5 793.6 1248.7 798.3 1251.2 801.2C1253.7 804.0 1260.9 805.1 1261.9 807.6C1263.0 810.1 1260.1 814.1 1257.6 816.2C1255.1 818.4 1250.1 821.3 1246.9 820.5C1243.6 819.8 1240.0 815.5 1238.3 811.9C1236.5 808.3 1235.7 803.3 1236.1 799.0C1236.5 794.7 1238.3 790.0 1240.4 786.1Z" fill="rgb(216,216,216)"/>
</g>
<g filter="url(#fb10s)"><rect x="280" y="180" width="1340" height="712" fill="#000"/>
<path d="M1246.9 844.2C1247.9 841.7 1254.0 839.9 1257.6 837.8C1261.2 835.6 1265.7 832.7 1268.4 831.3C1271.1 829.9 1272.9 826.6 1273.8 829.1C1274.7 831.7 1274.8 841.0 1273.8 846.4C1272.7 851.7 1270.0 858.9 1267.3 861.4C1264.6 863.9 1260.3 862.9 1257.6 861.4C1254.9 860.0 1253.0 855.7 1251.2 852.8C1249.4 850.0 1245.8 846.7 1246.9 844.2Z" fill="rgb(205,205,205)"/>
<path d="M1227.5 824.8C1228.0 823.8 1230.9 823.8 1231.8 824.8C1232.7 825.9 1233.4 830.2 1232.9 831.3C1232.3 832.4 1229.5 832.4 1228.6 831.3C1227.7 830.2 1227.0 825.9 1227.5 824.8Z" fill="rgb(191,191,191)"/>
</g>
<g filter="url(#frs)"><rect x="280" y="180" width="1340" height="712" fill="#000"/>
<path d="M716.0 237.3C717.8 236.0 725.2 236.0 727.1 237.3C728.9 238.5 728.9 243.4 727.1 244.7C725.2 245.9 717.8 245.9 716.0 244.7C714.1 243.4 714.1 238.5 716.0 237.3Z" fill="rgb(205,205,205)"/>
<path d="M609.9 237.3C611.9 236.4 620.1 236.4 622.2 237.3C624.3 238.1 624.3 241.4 622.2 242.2C620.1 243.0 611.9 243.0 609.9 242.2C607.8 241.4 607.8 238.1 609.9 237.3Z" fill="rgb(191,191,191)"/>
<path d="M764.1 358.2C767.1 356.5 779.5 355.3 782.6 358.2C785.7 361.0 784.6 372.6 782.6 375.4C780.5 378.3 773.3 376.7 770.2 375.4C767.1 374.2 765.1 370.9 764.1 368.0C763.0 365.1 761.0 359.8 764.1 358.2Z" fill="rgb(205,205,205)"/>
<path d="M998.4 253.3C998.2 249.6 1007.3 249.4 1010.8 250.8C1014.3 252.3 1015.7 259.7 1019.4 261.9C1023.1 264.2 1028.2 265.6 1033.0 264.4C1037.7 263.2 1040.4 255.2 1047.8 254.5C1055.2 253.9 1076.1 257.8 1077.4 260.7C1078.6 263.6 1061.3 268.3 1055.2 271.8C1049.0 275.3 1046.1 279.2 1040.4 281.7C1034.6 284.1 1025.4 288.1 1020.6 286.6C1015.9 285.2 1015.7 278.6 1012.0 273.0C1008.3 267.5 998.6 257.0 998.4 253.3Z" fill="rgb(219,219,219)"/>
<path d="M1018.2 269.3C1020.8 266.7 1030.5 268.3 1037.9 266.9C1045.3 265.4 1060.5 260.1 1062.6 260.7C1064.6 261.3 1054.8 267.5 1050.2 270.6C1045.7 273.7 1040.2 277.2 1035.4 279.2C1030.7 281.3 1024.7 284.6 1021.9 282.9C1019.0 281.3 1015.5 272.0 1018.2 269.3Z" fill="rgb(219,219,219)"/>
<path d="M1092.2 301.4C1093.0 299.4 1096.7 295.0 1099.6 294.0C1102.5 293.0 1107.0 294.0 1109.4 295.2C1111.9 296.5 1114.8 299.2 1114.4 301.4C1114.0 303.7 1110.3 308.0 1107.0 308.8C1103.7 309.6 1097.1 307.6 1094.6 306.3C1092.2 305.1 1091.4 303.5 1092.2 301.4Z" fill="rgb(212,212,212)"/>
<path d="M1136.6 301.4C1137.4 300.6 1146.0 299.8 1151.4 298.9C1156.7 298.1 1166.0 295.9 1168.7 296.5C1171.3 297.1 1171.1 301.4 1167.4 302.6C1163.7 303.9 1151.6 304.1 1146.4 303.9C1141.3 303.7 1135.8 302.2 1136.6 301.4Z" fill="rgb(191,191,191)"/>
<path d="M1050.2 285.4C1051.5 284.6 1056.4 284.6 1057.6 285.4C1058.9 286.2 1058.9 289.5 1057.6 290.3C1056.4 291.1 1051.5 291.1 1050.2 290.3C1049.0 289.5 1049.0 286.2 1050.2 285.4Z" fill="rgb(176,176,176)"/>
<path d="M1380.2 369.9C1381.6 365.8 1389.6 364.1 1393.7 361.8C1397.7 359.6 1401.7 356.0 1404.4 356.4C1407.1 356.9 1410.3 361.4 1409.8 364.5C1409.4 367.6 1404.0 371.7 1401.7 375.3C1399.5 378.8 1399.1 384.2 1396.4 386.0C1393.7 387.8 1388.3 388.7 1385.6 386.0C1382.9 383.3 1378.9 373.9 1380.2 369.9Z" fill="rgb(155,155,155)"/>
<path d="M1466.3 337.6C1467.2 332.2 1475.3 319.2 1479.8 310.7C1484.2 302.2 1488.9 291.9 1493.2 286.5C1497.5 281.1 1502.6 277.1 1505.3 278.4C1508.0 279.8 1510.0 289.6 1509.3 294.6C1508.7 299.5 1504.4 304.0 1501.3 308.0C1498.1 312.0 1493.7 314.7 1490.5 318.8C1487.4 322.8 1485.1 328.2 1482.4 332.2C1479.8 336.3 1477.1 342.1 1474.4 343.0C1471.7 343.9 1465.4 343.0 1466.3 337.6Z" fill="rgb(219,219,219)"/>
<path d="M1450.2 343.0C1451.7 340.3 1459.8 336.3 1462.3 337.6C1464.7 338.9 1465.6 346.6 1465.0 351.0C1464.3 355.5 1460.7 361.4 1458.2 364.5C1455.8 367.6 1452.4 369.9 1450.2 369.9C1447.9 369.9 1444.3 367.2 1444.8 364.5C1445.2 361.8 1452.0 357.3 1452.9 353.7C1453.8 350.2 1448.6 345.7 1450.2 343.0Z" fill="rgb(191,191,191)"/>
<path d="M1504.0 310.7C1505.3 309.4 1510.7 309.4 1512.0 310.7C1513.4 312.0 1513.4 317.4 1512.0 318.8C1510.7 320.1 1505.3 320.1 1504.0 318.8C1502.6 317.4 1502.6 312.0 1504.0 310.7Z" fill="rgb(162,162,162)"/>
<path d="M1378.8 366.3C1381.9 363.1 1396.5 355.2 1400.0 358.9C1403.5 362.6 1402.3 383.6 1400.0 388.6C1397.7 393.5 1389.3 390.2 1386.2 388.6C1383.1 386.9 1382.5 382.4 1381.3 378.7C1380.0 375.0 1375.7 369.6 1378.8 366.3Z" fill="rgb(155,155,155)"/>
<path d="M1100.0 294.8C1101.6 292.5 1107.6 293.6 1109.9 294.8C1112.1 296.0 1114.0 299.9 1113.6 302.2C1113.2 304.5 1109.7 307.3 1107.4 308.4C1105.1 309.4 1101.2 310.6 1100.0 308.4C1098.8 306.1 1098.4 297.1 1100.0 294.8Z" fill="rgb(212,212,212)"/>
<path d="M1137.0 301.0C1140.3 299.3 1163.3 295.0 1169.1 294.8C1174.8 294.6 1174.8 298.1 1171.5 299.7C1168.3 301.4 1155.1 304.5 1149.3 304.7C1143.6 304.9 1133.7 302.6 1137.0 301.0Z" fill="rgb(176,176,176)"/>
</g>
<g filter="url(#frw)"><rect x="280" y="180" width="1340" height="712" fill="#000"/>
<path d="M336.0 254.5C340.6 253.3 361.3 255.4 366.9 259.5C372.4 263.6 370.6 273.9 369.3 279.2C368.1 284.6 360.7 287.0 359.5 291.5C358.2 296.1 363.2 303.9 361.9 306.3C360.7 308.8 354.5 310.5 352.1 306.3C349.6 302.2 349.2 288.3 347.1 281.7C345.1 275.1 341.6 271.4 339.7 266.9C337.9 262.4 331.5 255.8 336.0 254.5Z" fill="rgb(189,189,189)"/>
<path d="M384.1 239.7C392.8 236.7 429.8 235.2 438.4 238.5C447.1 241.8 438.4 254.3 436.0 259.5C433.5 264.6 426.5 263.6 423.6 269.3C420.7 275.1 420.3 286.6 418.7 294.0C417.0 301.4 417.9 309.6 413.8 313.8C409.6 317.9 399.8 318.7 394.0 318.7C388.3 318.7 381.3 317.9 379.2 313.8C377.2 309.6 379.6 300.2 381.7 294.0C383.7 287.8 390.7 282.9 391.5 276.7C392.4 270.6 387.8 263.2 386.6 257.0C385.4 250.8 375.5 242.8 384.1 239.7Z" fill="rgb(117,117,117)"/>
<path d="M443.4 238.5C449.9 236.2 484.5 235.8 492.7 238.5C500.9 241.2 495.2 252.3 492.7 254.5C490.2 256.8 482.0 251.3 477.9 252.1C473.8 252.9 472.1 259.5 468.0 259.5C463.9 259.5 457.3 255.6 453.2 252.1C449.1 248.6 436.8 240.8 443.4 238.5Z" fill="rgb(113,113,113)"/>
<path d="M500.1 239.7C502.2 235.6 512.4 236.0 514.9 239.7C517.4 243.4 513.3 256.2 514.9 261.9C516.5 267.7 520.2 269.8 524.8 274.3C529.3 278.8 537.9 285.0 542.0 289.1C546.2 293.2 548.6 294.8 549.4 298.9C550.3 303.1 549.4 310.5 547.0 313.8C544.5 317.0 539.6 319.1 534.6 318.7C529.7 318.3 521.9 314.2 517.4 311.3C512.8 308.4 508.7 306.3 507.5 301.4C506.3 296.5 510.8 287.8 510.0 281.7C509.1 275.5 504.2 271.4 502.6 264.4C500.9 257.4 498.0 243.8 500.1 239.7Z" fill="rgb(132,132,132)"/>
<path d="M519.8 238.5C528.1 235.4 557.3 235.4 566.7 238.5C576.2 241.6 573.3 251.0 576.6 257.0C579.9 263.0 585.6 268.1 586.4 274.3C587.3 280.4 584.8 289.9 581.5 294.0C578.2 298.1 570.8 298.9 566.7 298.9C562.6 298.9 561.0 296.9 556.8 294.0C552.7 291.1 547.0 285.8 542.0 281.7C537.1 277.6 531.4 273.5 527.2 269.3C523.1 265.2 518.6 262.1 517.4 257.0C516.1 251.9 511.6 241.6 519.8 238.5Z" fill="rgb(132,132,132)"/>
<path d="M581.5 239.7C585.2 237.5 597.6 234.4 601.3 238.5C605.0 242.6 604.5 258.0 603.7 264.4C602.9 270.8 599.6 275.9 596.3 276.7C593.0 277.6 586.9 273.5 584.0 269.3C581.1 265.2 579.5 257.0 579.0 252.1C578.6 247.1 577.8 242.0 581.5 239.7Z" fill="rgb(189,189,189)"/>
<path d="M554.4 301.4C560.1 295.7 580.4 287.8 591.4 284.1C602.3 280.4 615.2 268.5 620.0 279.2C624.8 289.9 624.8 336.0 620.0 348.3C615.2 360.6 598.6 354.0 591.4 353.2C584.1 352.4 580.7 347.5 576.6 343.4C572.5 339.2 570.0 332.7 566.7 328.6C563.4 324.4 558.9 323.2 556.8 318.7C554.8 314.2 548.6 307.2 554.4 301.4Z" fill="rgb(128,128,128)"/>
<path d="M502.6 318.7C508.3 313.3 534.2 314.6 542.0 316.2C549.9 317.9 545.3 324.0 549.4 328.6C553.6 333.1 561.8 338.4 566.7 343.4C571.6 348.3 577.8 352.4 579.0 358.2C580.3 363.9 578.2 373.8 574.1 377.9C570.0 382.0 560.5 381.6 554.4 382.8C548.2 384.1 543.3 387.8 537.1 385.3C530.9 382.8 522.3 374.2 517.4 368.0C512.4 361.9 510.0 356.5 507.5 348.3C505.0 340.1 496.8 324.0 502.6 318.7Z" fill="rgb(117,117,117)"/>
<path d="M448.3 333.5C452.4 329.8 460.6 328.6 468.0 326.1C475.4 323.6 486.9 318.3 492.7 318.7C498.5 319.1 501.7 324.4 502.6 328.6C503.4 332.7 501.7 339.2 497.6 343.4C493.5 347.5 482.0 349.1 477.9 353.2C473.8 357.3 476.3 364.7 473.0 368.0C469.7 371.3 461.4 374.6 458.2 373.0C454.9 371.3 455.7 362.3 453.2 358.2C450.8 354.0 444.2 352.4 443.4 348.3C442.5 344.2 444.2 337.2 448.3 333.5Z" fill="rgb(170,170,170)"/>
<path d="M394.0 373.0C395.7 369.3 403.1 369.3 408.8 368.0C414.6 366.8 422.8 364.7 428.6 365.6C434.3 366.4 438.4 372.6 443.4 373.0C448.3 373.4 454.0 367.2 458.2 368.0C462.3 368.8 468.8 374.6 468.0 377.9C467.2 381.2 456.5 384.5 453.2 387.8C449.9 391.1 451.6 396.0 448.3 397.6C445.0 399.3 438.4 396.0 433.5 397.6C428.6 399.3 424.0 405.0 418.7 407.5C413.3 410.0 407.2 411.6 401.4 412.4C395.7 413.3 386.6 414.9 384.1 412.4C381.7 410.0 384.1 401.3 386.6 397.6C389.1 393.9 397.7 394.3 398.9 390.2C400.2 386.1 392.4 376.7 394.0 373.0Z" fill="rgb(189,189,189)"/>
<path d="M379.2 328.6C382.5 324.9 395.2 322.8 398.9 326.1C402.6 329.4 402.2 341.3 401.4 348.3C400.6 355.3 396.1 360.6 394.0 368.0C392.0 375.4 391.5 388.6 389.1 392.7C386.6 396.8 380.4 396.8 379.2 392.7C378.0 388.6 381.7 375.4 381.7 368.0C381.7 360.6 379.6 354.9 379.2 348.3C378.8 341.7 375.9 332.3 379.2 328.6Z" fill="rgb(113,113,113)"/>
<path d="M601.3 358.2C603.6 354.9 616.9 343.4 620.0 353.2C623.1 363.1 621.5 406.7 620.0 417.4C618.5 428.1 613.8 421.5 611.1 417.4C608.4 413.3 604.5 400.1 603.7 392.7C602.9 385.3 606.6 378.7 606.2 373.0C605.8 367.2 598.9 361.4 601.3 358.2Z" fill="rgb(170,170,170)"/>
<path d="M600.0 281.7C602.5 276.3 609.5 282.5 614.8 281.7C620.1 280.9 628.4 275.9 632.1 276.7C635.8 277.6 634.1 284.6 637.0 286.6C639.9 288.7 645.6 289.9 649.3 289.1C653.0 288.3 656.3 281.3 659.2 281.7C662.1 282.1 667.0 288.3 666.6 291.5C666.2 294.8 660.4 299.4 656.7 301.4C653.0 303.5 645.2 301.8 644.4 303.9C643.6 305.9 652.6 311.3 651.8 313.8C651.0 316.2 643.2 316.2 639.5 318.7C635.8 321.2 633.7 326.9 629.6 328.6C625.5 330.2 618.9 330.2 614.8 328.6C610.7 326.9 607.4 321.2 604.9 318.7C602.5 316.2 600.8 319.9 600.0 313.8C599.2 307.6 597.5 287.0 600.0 281.7Z" fill="rgb(132,132,132)"/>
<path d="M646.9 253.3C649.3 251.9 659.2 251.9 661.7 253.3C664.1 254.7 664.1 260.5 661.7 261.9C659.2 263.4 649.3 263.4 646.9 261.9C644.4 260.5 644.4 254.7 646.9 253.3Z" fill="rgb(151,151,151)"/>
<path d="M624.7 417.4C628.8 412.0 641.1 409.1 649.3 407.5C657.6 405.9 666.6 406.7 674.0 407.5C681.4 408.3 692.5 410.0 693.8 412.4C695.0 414.9 686.3 419.0 681.4 422.3C676.5 425.6 669.5 429.3 664.1 432.2C658.8 435.1 655.9 438.3 649.3 439.6C642.8 440.8 628.8 443.3 624.7 439.6C620.6 435.9 620.6 422.7 624.7 417.4Z" fill="rgb(189,189,189)"/>
<path d="M698.7 429.7C701.6 425.2 711.0 417.0 716.0 412.4C720.9 407.9 724.6 402.6 728.3 402.6C732.0 402.6 735.7 407.5 738.2 412.4C740.6 417.4 743.1 427.6 743.1 432.2C743.1 436.7 745.6 438.3 738.2 439.6C730.8 440.8 705.3 441.2 698.7 439.6C692.1 437.9 695.8 434.2 698.7 429.7Z" fill="rgb(170,170,170)"/>
<path d="M600.0 358.2C602.5 348.3 611.5 354.9 614.8 358.2C618.1 361.4 619.3 369.7 619.7 377.9C620.1 386.1 618.9 400.9 617.3 407.5C615.6 414.1 612.7 415.7 609.9 417.4C607.0 419.0 601.6 427.2 600.0 417.4C598.4 407.5 597.5 368.0 600.0 358.2Z" fill="rgb(160,160,160)"/>
<path d="M396.5 451.9C399.4 450.3 413.3 453.6 418.7 451.9C424.0 450.3 426.7 440.8 428.6 442.1C430.4 443.3 432.3 455.6 429.8 459.3C427.3 463.0 418.5 463.9 413.8 464.3C409.0 464.7 404.3 463.9 401.4 461.8C398.5 459.8 393.6 453.6 396.5 451.9Z" fill="rgb(151,151,151)"/>
<path d="M418.7 469.2C419.5 465.9 426.7 468.0 428.6 471.7C430.4 475.4 430.6 488.1 429.8 491.4C429.0 494.7 425.5 495.1 423.6 491.4C421.8 487.7 417.9 472.5 418.7 469.2Z" fill="rgb(132,132,132)"/>
<path d="M369.3 437.1C370.6 435.1 377.2 433.4 379.2 434.7C381.3 435.9 382.9 442.5 381.7 444.5C380.4 446.6 373.9 448.2 371.8 447.0C369.8 445.8 368.1 439.2 369.3 437.1Z" fill="rgb(151,151,151)"/>
<path d="M436.0 422.3C438.4 419.9 450.8 419.9 453.2 422.3C455.7 424.8 453.2 434.7 450.8 437.1C448.3 439.6 440.9 439.6 438.4 437.1C436.0 434.7 433.5 424.8 436.0 422.3Z" fill="rgb(170,170,170)"/>
<path d="M514.9 424.8C519.4 422.3 544.9 420.7 549.4 422.3C554.0 424.0 546.6 432.2 542.0 434.7C537.5 437.1 526.8 438.8 522.3 437.1C517.8 435.5 510.4 427.3 514.9 424.8Z" fill="rgb(170,170,170)"/>
<path d="M482.8 493.9C484.5 491.4 488.6 491.4 492.7 491.4C496.8 491.4 505.0 491.0 507.5 493.9C510.0 496.8 510.0 505.8 507.5 508.7C505.0 511.6 496.8 511.6 492.7 511.2C488.6 510.7 484.5 509.1 482.8 506.2C481.2 503.3 481.2 496.3 482.8 493.9Z" fill="rgb(151,151,151)"/>
<path d="M527.2 488.9C528.5 486.9 533.4 486.9 534.6 488.9C535.9 491.0 535.9 499.2 534.6 501.3C533.4 503.3 528.5 503.3 527.2 501.3C526.0 499.2 526.0 491.0 527.2 488.9Z" fill="rgb(151,151,151)"/>
<path d="M608.7 422.3C610.1 418.2 618.1 417.8 620.0 422.3C621.9 426.9 621.5 445.4 620.0 449.5C618.5 453.6 613.0 451.5 611.1 447.0C609.2 442.5 607.2 426.4 608.7 422.3Z" fill="rgb(170,170,170)"/>
<path d="M586.4 523.5C589.3 519.4 603.3 512.0 606.2 513.6C609.1 515.3 606.6 529.2 603.7 533.4C600.8 537.5 591.8 539.9 588.9 538.3C586.0 536.6 583.6 527.6 586.4 523.5Z" fill="rgb(160,160,160)"/>
<path d="M428.6 471.7C430.6 473.3 432.7 486.9 436.0 493.9C439.2 500.9 444.2 508.7 448.3 513.6C452.4 518.6 459.0 521.0 460.6 523.5C462.3 526.0 461.0 529.2 458.2 528.4C455.3 527.6 447.9 523.5 443.4 518.6C438.8 513.6 434.3 504.6 431.0 498.8C427.7 493.1 424.0 488.5 423.6 484.0C423.2 479.5 426.5 470.0 428.6 471.7Z" fill="rgb(113,113,113)"/>
<path d="M622.2 410.0C634.1 404.7 683.5 408.4 693.8 410.0C704.0 411.6 689.2 417.4 683.9 419.9C678.5 422.3 668.3 422.3 661.7 424.8C655.1 427.3 646.5 431.8 644.4 434.7C642.4 437.5 653.0 440.8 649.3 442.1C645.6 443.3 626.7 447.4 622.2 442.1C617.7 436.7 610.3 415.3 622.2 410.0Z" fill="rgb(179,179,179)"/>
<path d="M698.7 429.7C699.5 426.0 705.7 423.2 708.6 419.9C711.4 416.6 710.6 411.6 716.0 410.0C721.3 408.4 736.1 405.9 740.6 410.0C745.1 414.1 743.5 429.1 743.1 434.7C742.7 440.2 740.6 442.9 738.2 443.3C735.7 443.7 732.0 437.3 728.3 437.1C724.6 436.9 720.1 441.3 716.0 442.1C711.8 442.9 706.5 444.1 703.6 442.1C700.7 440.0 697.9 433.4 698.7 429.7Z" fill="rgb(170,170,170)"/>
<path d="M666.6 503.8C668.3 498.8 676.9 495.5 681.4 491.4C685.9 487.3 690.9 484.4 693.8 479.1C696.6 473.7 696.2 464.3 698.7 459.3C701.2 454.4 702.0 451.1 708.6 449.5C715.1 447.8 732.0 447.0 738.2 449.5C744.3 451.9 743.9 458.5 745.6 464.3C747.2 470.0 747.2 476.6 748.0 484.0C748.8 491.4 750.5 501.3 750.5 508.7C750.5 516.1 748.0 521.8 748.0 528.4C748.0 535.0 752.1 544.5 750.5 548.2C748.8 551.9 742.7 550.6 738.2 550.6C733.6 550.6 728.3 549.4 723.4 548.2C718.4 546.9 713.5 544.5 708.6 543.2C703.6 542.0 698.7 541.6 693.8 540.8C688.8 539.9 682.6 541.6 678.9 538.3C675.2 535.0 673.6 526.8 671.5 521.0C669.5 515.3 665.0 508.7 666.6 503.8Z" fill="rgb(142,142,142)"/>
<path d="M720.9 526.0C722.5 522.3 727.9 518.1 730.8 518.6C733.6 519.0 736.9 523.5 738.2 528.4C739.4 533.4 740.2 544.7 738.2 548.2C736.1 551.7 728.7 550.6 725.8 549.4C722.9 548.2 721.7 544.7 720.9 540.8C720.1 536.9 719.2 529.7 720.9 526.0Z" fill="rgb(189,189,189)"/>
<path d="M600.0 447.0C603.7 436.7 617.3 445.0 622.2 447.0C627.1 449.1 629.2 454.8 629.6 459.3C630.0 463.9 627.1 470.0 624.7 474.1C622.2 478.3 617.3 479.1 614.8 484.0C612.3 488.9 612.3 499.6 609.9 503.8C607.4 507.9 601.6 518.1 600.0 508.7C598.4 499.2 596.3 457.3 600.0 447.0Z" fill="rgb(132,132,132)"/>
<path d="M600.0 513.6C601.6 510.3 608.2 511.2 609.9 513.6C611.5 516.1 611.5 525.1 609.9 528.4C608.2 531.7 601.6 535.8 600.0 533.4C598.4 530.9 598.4 516.9 600.0 513.6Z" fill="rgb(132,132,132)"/>
<path d="M708.6 554.3C711.8 552.9 729.9 552.5 733.2 554.3C736.5 556.2 730.3 563.2 728.3 565.4C726.2 567.7 723.4 568.3 720.9 567.9C718.4 567.5 715.5 565.2 713.5 563.0C711.4 560.7 705.3 555.8 708.6 554.3Z" fill="rgb(160,160,160)"/>
<path d="M733.2 558.0C736.1 553.5 745.6 553.1 748.0 555.6C750.5 558.0 749.7 567.5 748.0 572.8C746.4 578.2 741.0 586.0 738.2 587.6C735.3 589.3 731.6 587.6 730.8 582.7C729.9 577.8 730.3 562.6 733.2 558.0Z" fill="rgb(113,113,113)"/>
<path d="M646.7 626.3C648.4 624.3 656.8 623.9 659.0 626.3C661.3 628.8 661.9 639.1 660.3 641.2C658.6 643.2 651.4 641.2 649.2 638.7C646.9 636.2 645.1 628.4 646.7 626.3Z" fill="rgb(151,151,151)"/>
<path d="M731.5 560.0C734.0 555.5 746.3 555.9 748.8 560.0C751.3 564.1 748.8 580.1 746.3 584.7C743.9 589.2 736.5 591.3 734.0 587.1C731.5 583.0 729.1 564.5 731.5 560.0Z" fill="rgb(132,132,132)"/>
<path d="M709.3 574.8C711.4 573.6 719.6 573.6 721.7 574.8C723.7 576.0 723.7 581.0 721.7 582.2C719.6 583.4 711.4 583.4 709.3 582.2C707.3 581.0 707.3 576.0 709.3 574.8Z" fill="rgb(113,113,113)"/>
</g>
<g filter="url(#fbw)"><rect x="280" y="180" width="1340" height="712" fill="#000"/>
<path d="M401.4 239.7C405.9 237.7 426.5 236.9 431.0 239.7C435.5 242.6 431.4 253.7 428.6 257.0C425.7 260.3 417.9 260.3 413.8 259.5C409.6 258.7 405.9 255.4 403.9 252.1C401.8 248.8 396.9 241.8 401.4 239.7Z" fill="rgb(142,142,142)"/>
<path d="M352.1 261.9C354.1 260.7 364.8 262.4 366.9 264.4C368.9 266.5 366.5 273.0 364.4 274.3C362.4 275.5 356.6 273.9 354.5 271.8C352.5 269.8 350.0 263.2 352.1 261.9Z" fill="rgb(123,123,123)"/>
<path d="M394.0 286.6C396.1 282.9 406.8 284.6 408.8 289.1C410.9 293.6 408.4 310.1 406.3 313.8C404.3 317.5 398.5 315.8 396.5 311.3C394.4 306.8 392.0 290.3 394.0 286.6Z" fill="rgb(123,123,123)"/>
<path d="M564.2 306.3C567.9 303.1 580.3 301.0 584.0 303.9C587.7 306.8 588.5 318.3 586.4 323.6C584.4 329.0 575.8 336.0 571.6 336.0C567.5 336.0 563.0 328.6 561.8 323.6C560.5 318.7 560.5 309.6 564.2 306.3Z" fill="rgb(189,189,189)"/>
<path d="M596.3 301.4C598.4 299.8 606.6 299.8 608.7 301.4C610.7 303.1 610.7 309.6 608.7 311.3C606.6 312.9 598.4 312.9 596.3 311.3C594.3 309.6 594.3 303.1 596.3 301.4Z" fill="rgb(170,170,170)"/>
<path d="M576.6 259.5C578.0 257.0 585.0 258.7 586.4 261.9C587.9 265.2 586.7 276.7 585.2 279.2C583.8 281.7 579.3 280.0 577.8 276.7C576.4 273.5 575.1 261.9 576.6 259.5Z" fill="rgb(170,170,170)"/>
<path d="M559.3 239.7C561.4 237.7 571.6 237.7 574.1 239.7C576.6 241.8 576.2 250.0 574.1 252.1C572.1 254.1 564.2 254.1 561.8 252.1C559.3 250.0 557.3 241.8 559.3 239.7Z" fill="rgb(151,151,151)"/>
<path d="M517.4 323.6C520.7 320.3 535.5 319.5 542.0 323.6C548.6 327.7 552.7 340.9 556.8 348.3C561.0 355.7 567.1 363.1 566.7 368.0C566.3 373.0 559.3 379.5 554.4 377.9C549.4 376.3 542.5 363.9 537.1 358.2C531.8 352.4 525.6 349.1 522.3 343.4C519.0 337.6 514.1 326.9 517.4 323.6Z" fill="rgb(117,117,117)"/>
<path d="M606.2 331.0C608.1 328.6 617.7 326.1 620.0 328.6C622.3 331.0 621.9 343.4 620.0 345.8C618.1 348.3 611.0 345.8 608.7 343.4C606.4 340.9 604.3 333.5 606.2 331.0Z" fill="rgb(189,189,189)"/>
<path d="M485.3 331.0C486.5 329.8 491.5 329.8 492.7 331.0C493.9 332.3 493.9 337.2 492.7 338.4C491.5 339.7 486.5 339.7 485.3 338.4C484.1 337.2 484.1 332.3 485.3 331.0Z" fill="rgb(170,170,170)"/>
<path d="M622.2 343.4C628.6 339.2 654.7 340.9 661.7 343.4C668.7 345.8 664.6 353.2 664.1 358.2C663.7 363.1 658.8 367.2 659.2 373.0C659.6 378.7 665.8 387.4 666.6 392.7C667.4 398.0 667.0 405.0 664.1 405.0C661.3 405.0 653.0 396.4 649.3 392.7C645.6 389.0 644.4 382.8 641.9 382.8C639.5 382.8 636.2 388.2 634.5 392.7C632.9 397.2 633.7 408.3 632.1 410.0C630.4 411.6 626.1 409.6 624.7 402.6C623.2 395.6 623.8 377.9 623.4 368.0C623.0 358.2 615.8 347.5 622.2 343.4Z" fill="rgb(189,189,189)"/>
<path d="M686.3 343.4C687.2 341.7 695.0 343.4 698.7 345.8C702.4 348.3 706.9 353.6 708.6 358.2C710.2 362.7 709.8 371.3 708.6 373.0C707.3 374.6 703.6 370.9 701.2 368.0C698.7 365.1 696.2 359.8 693.8 355.7C691.3 351.6 685.5 345.0 686.3 343.4Z" fill="rgb(151,151,151)"/>
<path d="M600.0 323.6C604.1 320.3 616.4 322.8 624.7 323.6C632.9 324.4 643.6 326.5 649.3 328.6C655.1 330.6 659.2 333.9 659.2 336.0C659.2 338.0 655.5 340.1 649.3 340.9C643.2 341.7 630.4 340.5 622.2 340.9C614.0 341.3 603.7 346.2 600.0 343.4C596.3 340.5 595.9 326.9 600.0 323.6Z" fill="rgb(142,142,142)"/>
<path d="M624.7 289.1C626.3 287.8 632.9 287.8 634.5 289.1C636.2 290.3 636.2 295.2 634.5 296.5C632.9 297.7 626.3 297.7 624.7 296.5C623.0 295.2 623.0 290.3 624.7 289.1Z" fill="rgb(170,170,170)"/>
<path d="M717.2 432.2C718.4 431.1 723.4 431.1 724.6 432.2C725.8 433.2 725.8 437.3 724.6 438.3C723.4 439.4 718.4 439.4 717.2 438.3C716.0 437.3 716.0 433.2 717.2 432.2Z" fill="rgb(170,170,170)"/>
<path d="M438.4 513.6C439.7 512.4 445.8 515.3 448.3 518.6C450.8 521.8 450.8 529.2 453.2 533.4C455.7 537.5 460.2 539.1 463.1 543.2C466.0 547.3 468.8 553.5 470.5 558.0C472.1 562.6 473.8 568.7 473.0 570.4C472.1 572.0 468.0 570.8 465.6 567.9C463.1 565.0 461.0 558.0 458.2 553.1C455.3 548.2 451.2 542.8 448.3 538.3C445.4 533.8 442.5 530.1 440.9 526.0C439.2 521.8 437.2 514.9 438.4 513.6Z" fill="rgb(132,132,132)"/>
<path d="M708.6 451.9C713.1 449.1 727.9 448.2 733.2 451.9C738.6 455.6 739.8 467.2 740.6 474.1C741.4 481.1 740.2 488.1 738.2 493.9C736.1 499.6 731.6 504.6 728.3 508.7C725.0 512.8 720.5 513.6 718.4 518.6C716.4 523.5 718.0 535.0 716.0 538.3C713.9 541.6 709.8 539.1 706.1 538.3C702.4 537.5 697.9 534.6 693.8 533.4C689.6 532.1 682.2 533.4 681.4 530.9C680.6 528.4 685.5 523.1 688.8 518.6C692.1 514.0 699.5 509.5 701.2 503.8C702.8 498.0 697.9 489.8 698.7 484.0C699.5 478.3 704.4 474.6 706.1 469.2C707.7 463.9 704.0 454.8 708.6 451.9Z" fill="rgb(147,147,147)"/>
<path d="M622.2 449.5C627.5 448.0 651.4 448.2 656.7 449.5C662.1 450.7 659.6 455.4 654.3 456.9C648.9 458.3 630.0 459.3 624.7 458.1C619.3 456.9 616.9 450.9 622.2 449.5Z" fill="rgb(151,151,151)"/>
<path d="M456.7 544.9C458.8 542.9 468.7 544.1 471.5 547.4C474.4 550.7 475.2 561.0 474.0 564.7C472.8 568.4 466.6 570.4 464.1 569.6C461.7 568.8 460.4 563.8 459.2 559.7C458.0 555.6 454.7 547.0 456.7 544.9Z" fill="rgb(123,123,123)"/>
</g>
</g>
<g fill="none" stroke="#000" stroke-width="3.8" stroke-linejoin="round" stroke-linecap="round">
<path stroke-width="4.3" d="M375.5 235.6 L956.4 235.6 L956.4 225.6 L963.3 227.1 L965.8 238.2 L967.9 242.9 L984.8 247.9 L1001.6 245.3 L1012.1 250.0 L1022.6 254.0 L1033.2 260.0 L1047.9 255.3 L1064.7 259.2 L1074.2 261.9 L1064.7 267.1 L1043.7 279.0 L1029.0 288.2 L1020.5 294.8 L1024.7 296.6 L1039.5 291.6 L1047.9 290.0 L1048.9 296.1 L1056.3 299.5 L1068.9 292.9 L1081.6 289.5 L1092.1 282.9 L1102.6 276.3 L1112.1 276.3 L1106.8 282.9 L1098.4 289.5 L1097.3 294.0 L1103.6 290.3 L1113.1 292.1 L1119.4 300.0 L1129.9 301.9 L1138.4 301.3 L1148.9 296.9 L1161.5 296.1 L1170.6 294.2 L1168.9 301.3 L1179.4 302.7 L1186.8 301.3 L1188.9 307.9 L1193.1 314.5 L1182.5 315.0 L1175.2 318.4 L1163.6 313.2 L1151.0 315.8 L1141.5 319.8 L1136.3 325.0 L1134.2 318.4 L1126.8 321.1 L1120.5 329.0 L1115.2 338.2 L1108.9 344.7 L1106.8 352.6 L1113.1 348.7 L1120.5 338.2 L1127.8 333.4 L1121.5 346.1 L1116.3 359.2 L1113.1 373.7 L1108.9 388.2 L1111.0 406.6 L1115.2 422.4 L1118.4 428.9 L1125.7 428.9 L1132.0 426.0 L1138.4 417.1 L1144.7 401.3 L1141.5 388.2 L1138.4 375.0 L1138.4 365.8 L1143.6 348.7 L1147.8 343.4 L1156.2 340.8 L1158.3 346.1 L1160.5 338.2 L1167.8 331.6 L1169.9 323.7 L1175.2 320.3 L1186.8 324.2 L1201.5 331.6 L1205.7 340.8 L1205.7 356.6 L1199.4 365.8 L1193.1 375.0 L1201.5 375.0 L1209.9 365.8 L1218.3 368.4 L1222.5 385.5 L1224.2 393.4 L1222.5 402.6 L1215.2 407.9 L1209.9 413.2 L1208.8 419.7 L1202.5 426.8 L1212.0 430.3 L1218.3 432.9 L1226.7 434.7 L1239.4 432.9 L1249.9 426.3 L1264.2 420.3 L1280.2 412.6 L1294.1 401.3 L1298.3 396.1 L1295.1 386.6 L1306.7 383.7 L1325.6 386.3 L1340.3 385.5 L1348.8 381.1 L1355.1 378.9 L1355.1 369.7 L1350.9 364.5 L1359.3 357.9 L1374.0 344.7 L1385.6 340.8 L1454.0 340.5 L1456.1 334.2 L1462.8 332.9 L1468.7 330.3 L1477.1 321.1 L1480.3 315.8 L1479.2 309.2 L1485.5 296.1 L1501.9 276.1 L1506.6 276.9 L1521.3 278.7 L1532.2 286.3 L1532.2 317.1 L1539.2 325.0 L1539.2 332.9 L1546.5 338.2 L1549.3 345.5 L1540.2 351.3 L1531.8 354.0 L1521.3 360.5 L1510.8 355.3 L1506.6 364.5 L1500.2 368.4 L1489.7 372.4 L1481.3 376.3 L1473.9 385.5 L1470.8 391.6 L1468.7 397.4 L1472.9 402.6 L1467.6 405.3 L1464.5 411.8 L1469.7 413.2 L1471.8 421.0 L1475.0 425.5 L1485.5 425.5 L1481.3 417.6 L1486.2 419.7 L1486.6 427.6 L1472.9 431.6 L1471.8 426.3 L1464.5 432.9 L1460.3 432.9 L1456.1 430.3 L1454.0 436.8 L1443.4 438.1 L1424.5 439.5 L1408.7 446.0 L1406.6 449.2 L1430.8 446.6 L1446.4 444.2 L1432.9 451.3 L1402.4 457.4 L1401.4 453.9 L1396.1 459.2 L1401.4 460.5 L1399.3 478.9 L1392.9 488.1 L1381.4 500.5 L1371.9 490.8 L1368.7 482.9 L1371.9 496.0 L1378.6 503.9 L1379.3 513.1 L1375.1 525.0 L1367.7 536.8 L1360.3 548.1 L1360.3 535.5 L1365.6 527.6 L1361.4 519.7 L1353.0 511.8 L1355.1 498.7 L1358.2 485.5 L1349.8 493.4 L1348.8 511.8 L1353.0 526.3 L1353.0 535.5 L1353.0 551.3 L1359.9 553.9 L1362.0 563.1 L1364.5 572.3 L1370.9 588.1 L1369.2 597.8 L1359.3 603.9 L1347.7 614.4 L1336.1 613.1 L1319.3 627.6 L1317.2 633.6 L1305.6 634.2 L1298.3 639.4 L1292.0 651.3 L1277.2 664.4 L1265.7 674.9 L1257.2 681.5 L1252.0 685.5 L1245.7 703.9 L1244.6 717.0 L1245.7 724.9 L1248.8 740.7 L1256.2 761.8 L1263.5 776.2 L1268.8 801.2 L1274.1 822.3 L1272.0 847.3 L1267.8 859.1 L1264.6 861.7 L1252.0 863.1 L1247.8 846.0 L1237.2 838.1 L1233.0 827.5 L1226.7 817.0 L1220.4 801.2 L1216.2 790.7 L1219.4 777.5 L1216.2 767.0 L1212.0 757.8 L1203.6 746.0 L1193.1 734.1 L1184.6 734.1 L1172.0 743.3 L1161.5 743.3 L1151.0 730.2 L1138.4 724.9 L1117.3 728.1 L1106.8 717.0 L1106.8 728.9 L1098.4 726.2 L1087.9 724.9 L1073.1 730.2 L1077.3 735.5 L1073.1 743.3 L1077.3 751.2 L1081.6 761.8 L1077.3 761.8 L1060.5 759.1 L1052.1 759.1 L1037.4 753.9 L1026.8 748.6 L1016.3 747.3 L997.4 741.5 L983.7 743.3 L962.9 747.3 L953.0 759.1 L938.3 771.0 L923.3 776.0 L908.6 790.7 L906.9 806.5 L910.1 824.9 L914.3 842.0 L909.0 844.6 L892.2 839.4 L873.3 830.2 L864.8 801.2 L848.0 780.2 L839.6 759.1 L824.9 741.5 L805.9 738.9 L797.5 743.3 L788.0 762.5 L759.6 746.0 L755.4 735.5 L749.1 718.3 L719.7 690.7 L716.9 688.6 L681.6 688.6 L681.6 700.5 L621.4 700.5 L542.7 669.7 L544.6 663.9 L494.1 668.9 L490.3 653.9 L479.8 642.0 L473.5 638.1 L467.2 636.8 L458.8 630.2 L450.4 626.3 L439.8 619.7 L423.6 618.4 L420.3 614.4 L419.8 601.3 L415.6 596.0 L406.2 586.8 L402.0 577.6 L392.5 561.8 L395.6 556.5 L391.4 552.6 L383.0 546.0 L380.9 530.2 L370.4 525.0 L370.4 517.1 L355.7 501.3 L353.6 490.8 L349.4 472.4 L340.9 460.5 L347.3 446.0 L345.2 422.4 L342.0 417.1 L337.8 397.4 L345.2 382.9 L347.3 367.1 L349.4 340.8 L350.4 317.1 L348.3 306.6 L347.3 290.8 L340.9 277.7 L335.7 264.5 L334.0 251.9 L351.5 257.7 L361.4 258.7 L375.7 258.4 L378.8 272.4 L372.5 285.5 L383.0 280.3 L384.1 272.4 L387.2 261.9 L380.9 251.3 L380.9 242.1 L375.5 235.6Z"/>
<path d="M349.4 307.9 L362.0 309.2 L366.2 310.5 L372.5 311.9 L374.6 318.4 L375.7 323.7 L385.1 326.3 L395.6 322.4 L408.3 325.0 L420.9 321.1 L433.5 319.2 L448.2 316.3 L454.6 314.5 L498.3 314.5"/>
<path d="M495.8 235.6 L495.8 303.4 L498.3 310.0 L498.3 314.5"/>
<path d="M498.3 314.5 L506.1 329.0 L499.8 342.1 L492.4 356.6 L495.6 360.5 L498.7 363.2 L496.0 371.6 L496.0 419.7"/>
<path d="M516.6 235.6 L516.6 262.4 L524.0 276.3 L540.8 289.5 L552.4 297.4 L549.2 310.5 L551.3 326.3 L560.8 322.4 L571.3 342.1 L578.7 355.3 L595.5 354.0 L612.4 352.6 L621.8 354.5"/>
<path d="M621.8 340.8 L621.8 446.0"/>
<path d="M345.2 419.7 L621.8 419.7"/>
<path d="M621.8 340.8 L769.3 340.8"/>
<path d="M769.3 235.6 L769.1 446.0"/>
<path d="M621.8 446.0 L811.2 446.0"/>
<path d="M769.3 316.1 L926.7 316.1"/>
<path d="M769.1 393.4 L885.9 393.4 L898.5 398.7 L913.2 397.4 L923.8 403.9 L929.0 406.8"/>
<path d="M912.6 235.6 L915.3 261.9 L921.6 288.2 L926.9 314.5 L926.7 316.1 L920.6 325.0 L925.9 330.3 L929.0 332.9 L929.0 380.3"/>
<path d="M929.0 380.3 L1039.1 380.3"/>
<path d="M929.0 380.3 L925.9 390.8 L929.0 406.8"/>
<path d="M929.0 406.8 L936.4 427.6 L940.6 440.8 L941.6 453.9 L943.3 457.1 L953.2 472.4 L961.6 478.9 L957.4 484.2 L967.9 495.5 L967.5 564.4"/>
<path d="M811.2 472.4 L953.2 472.4"/>
<path d="M811.2 446.0 L811.2 551.3"/>
<path d="M663.9 446.0 L663.9 700.5"/>
<path d="M558.9 551.3 L967.5 551.3"/>
<path d="M791.2 551.3 L791.2 564.4 L854.3 564.4 L854.3 615.5 L871.2 622.3 L883.8 626.3 L894.3 627.6 L913.2 636.8 L925.9 634.2 L940.6 634.2 L955.3 631.5 L970.5 639.7"/>
<path d="M967.5 564.4 L971.5 593.4 L970.5 639.7 L979.7 642.0 L979.7 683.1 L990.0 703.9 L986.9 722.3 L986.9 732.8 L983.7 743.3"/>
<path d="M791.2 564.4 L789.9 682.8 L715.0 682.8 L716.9 688.6"/>
<path d="M558.9 419.7 L558.9 572.3 L544.0 575.0 L547.1 601.3 L546.5 603.9 L547.8 609.2 L551.3 622.3 L556.6 623.1 L549.2 632.8 L549.2 646.0 L544.6 656.5 L549.2 660.5 L544.6 663.9"/>
<path d="M433.5 419.7 L433.5 498.7 L546.5 603.9"/>
<path d="M979.7 656.0 L1040.1 656.5"/>
<path d="M967.5 564.4 L1061.6 564.4 L1056.9 577.6 L1071.0 577.6"/>
<path d="M1016.5 297.1 L1016.5 312.4 L1006.9 318.4 L1003.7 325.0 L1009.0 330.3 L1006.9 340.8 L1005.8 347.4 L1016.3 352.6 L1024.7 359.2 L1038.4 371.1 L1039.1 380.3 L1041.6 393.4 L1051.0 406.6 L1061.6 417.1 L1058.4 426.3 L1052.1 432.9 L1041.6 440.8 L1044.7 448.7 L1041.6 451.3 L1035.3 461.8 L1033.2 467.1 L1035.3 475.0 L1041.6 485.5 L1050.0 493.4 L1050.0 501.3 L1060.5 502.6 L1060.5 509.2 L1057.4 519.7 L1066.8 527.6 L1075.2 543.4 L1082.6 551.3 L1077.3 564.4 L1074.2 569.7 L1071.0 577.6 L1065.8 589.4 L1062.6 601.3 L1058.4 603.9 L1052.1 614.4 L1045.8 627.6 L1041.6 640.7 L1040.1 656.5 L1041.6 669.7 L1045.8 674.9 L1041.6 682.8 L1035.3 693.4 L1030.0 709.1 L1070.4 709.1 L1068.9 719.7 L1073.1 730.2"/>
<path d="M943.3 457.1 L1028.3 456.6 L1035.3 461.8"/>
<path d="M1051.0 406.6 L1111.0 406.6"/>
<path d="M1056.3 299.5 L1083.7 310.5 L1104.7 317.1 L1110.0 330.3 L1115.2 338.2"/>
<path d="M1116.7 427.6 L1116.7 489.5 L1115.2 496.0 L1117.3 506.6 L1112.1 514.4 L1106.8 525.0 L1106.2 530.2"/>
<path d="M1264.2 455.5 L1261.4 467.1 L1257.2 480.2 L1249.9 488.1 L1239.4 493.4 L1238.3 500.0 L1228.8 509.2 L1220.4 513.9 L1215.2 506.6 L1205.7 509.2 L1197.3 507.9 L1186.8 503.9 L1180.4 496.0 L1173.7 496.0 L1174.1 503.9 L1161.5 506.6 L1154.1 517.9 L1148.9 525.0 L1138.4 527.6 L1125.7 530.2 L1116.3 526.3 L1106.2 530.2 L1104.7 538.1 L1096.3 548.6 L1082.6 551.3"/>
<path d="M1173.7 496.0 L1174.1 427.6"/>
<path d="M1202.5 426.8 L1174.1 427.6 L1174.1 426.0 L1132.0 426.0"/>
<path d="M1075.2 564.4 L1105.7 564.4 L1105.7 559.7 L1197.7 561.8 L1239.8 562.1 L1362.0 563.1"/>
<path d="M1239.8 562.1 L1233.0 575.0 L1220.4 577.6 L1209.9 584.2 L1197.3 589.4 L1191.0 593.4 L1184.2 604.2"/>
<path d="M1058.4 603.9 L1209.9 603.9"/>
<path d="M1102.6 603.9 L1096.9 685.5 L1098.4 726.2"/>
<path d="M1157.3 603.9 L1166.1 659.9 L1169.9 674.9 L1168.9 694.7 L1169.9 709.1"/>
<path d="M1117.3 728.1 L1115.2 709.1 L1169.9 709.1 L1172.9 717.0 L1228.8 720.5 L1232.0 725.7 L1233.0 715.7 L1244.6 717.0"/>
<path d="M1209.9 603.9 L1204.6 611.8 L1214.1 618.4 L1221.5 630.2 L1228.8 639.4 L1234.1 644.7 L1243.6 656.5 L1250.9 674.9 L1257.2 681.5"/>
<path d="M1209.9 603.9 L1224.6 598.6 L1253.0 600.0 L1253.0 602.6 L1258.3 608.6 L1282.1 609.2 L1305.6 634.2"/>
<path d="M1197.7 561.8 L1218.3 548.6 L1233.7 537.1 L1224.6 528.9 L1220.4 513.9"/>
<path d="M1233.7 537.1 L1248.8 544.7 L1268.8 538.1 L1269.9 531.5 L1282.5 510.5 L1290.9 513.1 L1299.3 503.9 L1309.8 488.1 L1320.8 494.7 L1323.1 490.2"/>
<path d="M1323.1 490.2 L1313.0 481.6 L1307.7 484.2 L1298.3 486.8 L1285.9 493.4 L1285.9 479.7"/>
<path d="M1264.2 479.7 L1363.7 479.7"/>
<path d="M1264.2 479.7 L1264.2 420.3"/>
<path d="M1363.7 479.7 L1367.7 476.8 L1371.5 477.6"/>
<path d="M1363.7 479.7 L1363.7 513.1 L1379.3 513.1"/>
<path d="M1323.1 490.2 L1327.7 496.0 L1336.1 501.3 L1337.2 506.6 L1331.9 514.4 L1338.2 517.1 L1353.0 526.3"/>
<path d="M1361.4 526.3 L1375.1 524.2"/>
<path d="M1371.5 477.6 L1378.2 473.7 L1385.6 467.1 L1379.3 461.8 L1376.1 453.9 L1378.2 447.4 L1386.6 436.6 L1403.5 446.0"/>
<path d="M1386.6 436.6 L1379.3 430.3 L1373.0 419.7 L1280.2 419.7 L1280.2 412.6"/>
<path d="M1408.7 446.0 L1411.9 438.1 L1411.9 418.4 L1416.7 400.0 L1417.1 377.6 L1414.0 377.6 L1415.0 340.8"/>
<path d="M1411.9 418.4 L1447.6 419.2 L1456.5 419.2 L1456.5 422.4 L1460.3 427.6 L1462.0 432.9"/>
<path d="M1447.6 419.2 L1447.6 437.6"/>
<path d="M1416.7 400.0 L1458.2 401.3 L1464.5 396.8 L1468.7 396.8"/>
<path d="M1433.8 400.5 L1435.0 385.5 L1439.2 372.4 L1442.4 359.2 L1452.9 352.6 L1454.0 340.5"/>
<path d="M1470.8 391.6 L1465.1 382.9 L1463.9 367.1 L1462.8 332.9"/>
</g>
<g fill="none" stroke="#000" stroke-linejoin="round" stroke-linecap="round">
<path stroke-width="12.0" d="M372.0 244.7 L380.4 247.1 L382.9 259.5 L378.0 269.3 L381.7 278.0 L373.0 284.1"/>
<path stroke-width="7.0" d="M381.0 522.0 L386.0 530.0 L389.0 540.0"/>
<path stroke-width="9.0" d="M1220.0 792.6 L1220.5 793.0"/>
<path stroke-width="6.0" d="M1229.6 818.4 L1230.0 818.8"/>
<path stroke-width="7.0" d="M1252.5 861.4 L1255.0 861.0"/>
<path stroke-width="6.0" d="M1358.1 485.4 L1353.1 498.9 L1351.9 513.8 L1354.4 528.6 L1353.1 543.4 L1358.1 554.5"/>
<path stroke-width="5.0" d="M1337.0 513.8 L1352.0 524.8"/>
<path stroke-width="4.5" d="M1339.6 528.6 L1352.0 536.0"/>
<path stroke-width="4.5" d="M1339.6 543.4 L1355.0 548.0"/>
<path stroke-width="6.0" d="M1343.3 570.5 L1361.8 577.9"/>
<path stroke-width="5.0" d="M1337.1 600.1 L1351.9 607.5"/>
<path stroke-width="5.0" d="M1339.0 612.0 L1350.0 620.0"/>
<path stroke-width="5.0" d="M1478.0 436.5 L1482.0 437.5"/>
<path stroke-width="4.5" d="M1486.0 439.5 L1489.0 439.0"/>
<path stroke-width="4.5" d="M1078.2 747.5 L1085.6 759.8"/>
<path stroke-width="4.0" d="M1056.0 733.0 L1062.0 729.0 L1070.0 731.0 L1073.0 737.0 L1064.0 739.0 L1056.0 733.0"/>
<path stroke-width="7.0" d="M961.0 742.0 L965.0 746.0"/>
<path stroke-width="5.5" d="M908.6 790.8 L923.4 776.0 L938.2 771.0 L953.0 758.7 L962.8 746.3"/>
</g>
<path d="M491 556 L497 562 L500 573 L506 585" fill="none" stroke="#555" stroke-width="3" stroke-linecap="round" stroke-linejoin="round"/>
<g fill="#f7c9d3"><circle cx="1215" cy="878.5" r="1.6"/><circle cx="1231" cy="878.5" r="1.3"/><circle cx="1241" cy="877.5" r="2.2"/><circle cx="1247" cy="876" r="1.5"/></g>
</svg></body></html>
